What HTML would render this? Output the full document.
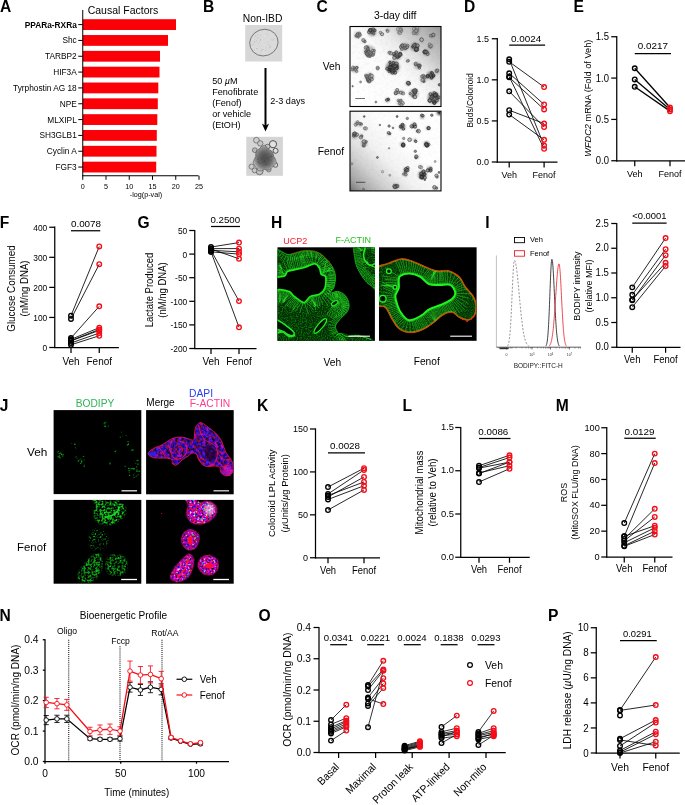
<!DOCTYPE html>
<html><head><meta charset="utf-8"><title>Figure</title>
<style>html,body{margin:0;padding:0;background:#fff}svg{display:block}</style></head>
<body>
<svg width="685" height="805" viewBox="0 0 685 805" font-family="'Liberation Sans', sans-serif">
<rect width="685" height="805" fill="#fff"/>
<text x="0.00" y="11.50" font-size="15.6" font-weight="bold">A</text>
<text x="123.00" y="14.10" font-size="10.5" text-anchor="middle">Causal Factors</text>
<rect x="82.75" y="19.20" width="93.25" height="10.8" fill="#fb0007"/>
<line x1="78.25" y1="24.60" x2="82.75" y2="24.60" stroke="#000" stroke-width="1" />
<text x="76.75" y="27.60" font-size="8.3" text-anchor="end" font-weight="bold">PPARa-RXRa</text>
<rect x="82.75" y="35.03" width="85.25" height="10.8" fill="#fb0007"/>
<line x1="78.25" y1="40.43" x2="82.75" y2="40.43" stroke="#000" stroke-width="1" />
<text x="76.75" y="43.43" font-size="8.3" text-anchor="end">Shc</text>
<rect x="82.75" y="50.86" width="77.25" height="10.8" fill="#fb0007"/>
<line x1="78.25" y1="56.26" x2="82.75" y2="56.26" stroke="#000" stroke-width="1" />
<text x="76.75" y="59.26" font-size="8.3" text-anchor="end">TARBP2</text>
<rect x="82.75" y="66.69" width="76.75" height="10.8" fill="#fb0007"/>
<line x1="78.25" y1="72.09" x2="82.75" y2="72.09" stroke="#000" stroke-width="1" />
<text x="76.75" y="75.09" font-size="8.3" text-anchor="end">HIF3A</text>
<rect x="82.75" y="82.52" width="75.55" height="10.8" fill="#fb0007"/>
<line x1="78.25" y1="87.92" x2="82.75" y2="87.92" stroke="#000" stroke-width="1" />
<text x="76.75" y="90.92" font-size="8.3" text-anchor="end">Tyrphostin AG 18</text>
<rect x="82.75" y="98.35" width="75.05" height="10.8" fill="#fb0007"/>
<line x1="78.25" y1="103.75" x2="82.75" y2="103.75" stroke="#000" stroke-width="1" />
<text x="76.75" y="106.75" font-size="8.3" text-anchor="end">NPE</text>
<rect x="82.75" y="114.18" width="74.55" height="10.8" fill="#fb0007"/>
<line x1="78.25" y1="119.58" x2="82.75" y2="119.58" stroke="#000" stroke-width="1" />
<text x="76.75" y="122.58" font-size="8.3" text-anchor="end">MLXIPL</text>
<rect x="82.75" y="130.01" width="74.05" height="10.8" fill="#fb0007"/>
<line x1="78.25" y1="135.41" x2="82.75" y2="135.41" stroke="#000" stroke-width="1" />
<text x="76.75" y="138.41" font-size="8.3" text-anchor="end">SH3GLB1</text>
<rect x="82.75" y="145.84" width="73.75" height="10.8" fill="#fb0007"/>
<line x1="78.25" y1="151.24" x2="82.75" y2="151.24" stroke="#000" stroke-width="1" />
<text x="76.75" y="154.24" font-size="8.3" text-anchor="end">Cyclin A</text>
<rect x="82.75" y="161.67" width="73.45" height="10.8" fill="#fb0007"/>
<line x1="78.25" y1="167.07" x2="82.75" y2="167.07" stroke="#000" stroke-width="1" />
<text x="76.75" y="170.07" font-size="8.3" text-anchor="end">FGF3</text>
<line x1="82.75" y1="10.00" x2="82.75" y2="176.20" stroke="#000" stroke-width="1" />
<line x1="82.25" y1="175.75" x2="198.50" y2="175.75" stroke="#000" stroke-width="1" />
<line x1="82.75" y1="175.75" x2="82.75" y2="179.80" stroke="#000" stroke-width="1" />
<text x="82.75" y="188.60" font-size="7.2" text-anchor="middle">0</text>
<line x1="106.00" y1="175.75" x2="106.00" y2="179.80" stroke="#000" stroke-width="1" />
<text x="106.00" y="188.60" font-size="7.2" text-anchor="middle">5</text>
<line x1="129.25" y1="175.75" x2="129.25" y2="179.80" stroke="#000" stroke-width="1" />
<text x="129.25" y="188.60" font-size="7.2" text-anchor="middle">10</text>
<line x1="152.50" y1="175.75" x2="152.50" y2="179.80" stroke="#000" stroke-width="1" />
<text x="152.50" y="188.60" font-size="7.2" text-anchor="middle">15</text>
<line x1="175.75" y1="175.75" x2="175.75" y2="179.80" stroke="#000" stroke-width="1" />
<text x="175.75" y="188.60" font-size="7.2" text-anchor="middle">20</text>
<line x1="199.00" y1="175.75" x2="199.00" y2="179.80" stroke="#000" stroke-width="1" />
<text x="199.00" y="188.60" font-size="7.2" text-anchor="middle">25</text>
<text x="146.00" y="197.00" font-size="7.2" text-anchor="middle">-log(p-val)</text>
<text x="203.10" y="11.50" font-size="15.6" font-weight="bold">B</text>
<text x="262.60" y="21.80" font-size="10.3" text-anchor="middle">Non-IBD</text>
<line x1="265.50" y1="68.00" x2="265.50" y2="126.00" stroke="#000" stroke-width="2" />
<path d="M261.9 123.6 L265.5 131.4 L269.1 123.6 L265.5 125.8 Z" fill="#000"/>
<text x="212.20" y="83.90" font-size="9.1">50 <tspan font-style="italic">µ</tspan>M</text>
<text x="212.20" y="94.85" font-size="9.1">Fenofibrate</text>
<text x="212.20" y="105.80" font-size="9.1">(Fenof)</text>
<text x="212.20" y="116.75" font-size="9.1">or vehicle</text>
<text x="212.20" y="127.70" font-size="9.1">(EtOH)</text>
<text x="270.20" y="103.80" font-size="9.1">2-3 days</text>
<text x="316.50" y="11.50" font-size="15.6" font-weight="bold">C</text>
<text x="395.20" y="19.30" font-size="10.4" text-anchor="middle">3-day diff</text>
<text x="322.70" y="70.00" font-size="10.3">Veh</text>
<text x="317.70" y="154.50" font-size="10.3">Fenof</text>
<text x="463.90" y="11.50" font-size="15.6" font-weight="bold">D</text>
<line x1="497.30" y1="38.12" x2="497.30" y2="162.62" stroke="#000" stroke-width="1.25" />
<line x1="496.68" y1="162.00" x2="557.50" y2="162.00" stroke="#000" stroke-width="1.25" />
<line x1="491.80" y1="38.75" x2="497.30" y2="38.75" stroke="#000" stroke-width="1.25" />
<text transform="translate(488.90 42.03) scale(0.9434 1)" font-size="9.54" text-anchor="end">1.5</text>
<line x1="491.80" y1="79.83" x2="497.30" y2="79.83" stroke="#000" stroke-width="1.25" />
<text transform="translate(488.90 83.12) scale(0.9434 1)" font-size="9.54" text-anchor="end">1.0</text>
<line x1="491.80" y1="120.92" x2="497.30" y2="120.92" stroke="#000" stroke-width="1.25" />
<text transform="translate(488.90 124.20) scale(0.9434 1)" font-size="9.54" text-anchor="end">0.5</text>
<line x1="491.80" y1="162.00" x2="497.30" y2="162.00" stroke="#000" stroke-width="1.25" />
<text transform="translate(488.90 165.28) scale(0.9434 1)" font-size="9.54" text-anchor="end">0.0</text>
<line x1="509.20" y1="162.00" x2="509.20" y2="167.50" stroke="#000" stroke-width="1.25" />
<text transform="translate(509.20 177.80) scale(0.9302 1)" font-size="9.67" text-anchor="middle">Veh</text>
<line x1="544.10" y1="162.00" x2="544.10" y2="167.50" stroke="#000" stroke-width="1.25" />
<text transform="translate(544.10 177.80) scale(0.9302 1)" font-size="9.67" text-anchor="middle">Fenof</text>
<line x1="509.20" y1="59.29" x2="544.10" y2="145.57" stroke="#000" stroke-width="0.85" />
<line x1="509.20" y1="61.76" x2="544.10" y2="87.06" stroke="#000" stroke-width="0.85" />
<line x1="509.20" y1="73.26" x2="544.10" y2="104.48" stroke="#000" stroke-width="0.85" />
<line x1="509.20" y1="77.37" x2="544.10" y2="109.41" stroke="#000" stroke-width="0.85" />
<line x1="509.20" y1="76.55" x2="544.10" y2="148.85" stroke="#000" stroke-width="0.85" />
<line x1="509.20" y1="91.34" x2="544.10" y2="127.00" stroke="#000" stroke-width="0.85" />
<line x1="509.20" y1="110.24" x2="544.10" y2="123.55" stroke="#000" stroke-width="0.85" />
<line x1="509.20" y1="114.51" x2="544.10" y2="139.81" stroke="#000" stroke-width="0.85" />
<circle cx="509.20" cy="59.29" r="2.3" fill="none" stroke="#000" stroke-width="1.35"/>
<circle cx="509.20" cy="61.76" r="2.3" fill="none" stroke="#000" stroke-width="1.35"/>
<circle cx="509.20" cy="73.26" r="2.3" fill="none" stroke="#000" stroke-width="1.35"/>
<circle cx="509.20" cy="77.37" r="2.3" fill="none" stroke="#000" stroke-width="1.35"/>
<circle cx="509.20" cy="76.55" r="2.3" fill="none" stroke="#000" stroke-width="1.35"/>
<circle cx="509.20" cy="91.34" r="2.3" fill="none" stroke="#000" stroke-width="1.35"/>
<circle cx="509.20" cy="110.24" r="2.3" fill="none" stroke="#000" stroke-width="1.35"/>
<circle cx="509.20" cy="114.51" r="2.3" fill="none" stroke="#000" stroke-width="1.35"/>
<circle cx="544.10" cy="145.57" r="2.3" fill="none" stroke="#f60c18" stroke-width="1.35"/>
<circle cx="544.10" cy="87.06" r="2.3" fill="none" stroke="#f60c18" stroke-width="1.35"/>
<circle cx="544.10" cy="104.48" r="2.3" fill="none" stroke="#f60c18" stroke-width="1.35"/>
<circle cx="544.10" cy="109.41" r="2.3" fill="none" stroke="#f60c18" stroke-width="1.35"/>
<circle cx="544.10" cy="148.85" r="2.3" fill="none" stroke="#f60c18" stroke-width="1.35"/>
<circle cx="544.10" cy="127.00" r="2.3" fill="none" stroke="#f60c18" stroke-width="1.35"/>
<circle cx="544.10" cy="123.55" r="2.3" fill="none" stroke="#f60c18" stroke-width="1.35"/>
<circle cx="544.10" cy="139.81" r="2.3" fill="none" stroke="#f60c18" stroke-width="1.35"/>
<line x1="509.20" y1="45.00" x2="545.10" y2="45.00" stroke="#000" stroke-width="1.25" />
<text x="526.20" y="41.70" font-size="9.9" text-anchor="middle">0.0024</text>
<text x="473.00" y="100.30" font-size="8.35" transform="rotate(-90 473.00 100.30)" text-anchor="middle">Buds/Colonoid</text>
<text x="573.60" y="11.50" font-size="15.6" font-weight="bold">E</text>
<line x1="616.75" y1="36.12" x2="616.75" y2="161.38" stroke="#000" stroke-width="1.25" />
<line x1="616.12" y1="160.75" x2="685.00" y2="160.75" stroke="#000" stroke-width="1.25" />
<line x1="611.25" y1="36.75" x2="616.75" y2="36.75" stroke="#000" stroke-width="1.25" />
<text transform="translate(609.00 40.22) scale(0.9434 1)" font-size="10.07" text-anchor="end">1.5</text>
<line x1="611.25" y1="78.08" x2="616.75" y2="78.08" stroke="#000" stroke-width="1.25" />
<text transform="translate(609.00 81.55) scale(0.9434 1)" font-size="10.07" text-anchor="end">1.0</text>
<line x1="611.25" y1="119.42" x2="616.75" y2="119.42" stroke="#000" stroke-width="1.25" />
<text transform="translate(609.00 122.88) scale(0.9434 1)" font-size="10.07" text-anchor="end">0.5</text>
<line x1="611.25" y1="160.75" x2="616.75" y2="160.75" stroke="#000" stroke-width="1.25" />
<text transform="translate(609.00 164.22) scale(0.9434 1)" font-size="10.07" text-anchor="end">0.0</text>
<line x1="634.75" y1="160.75" x2="634.75" y2="166.25" stroke="#000" stroke-width="1.25" />
<text transform="translate(634.75 177.00) scale(0.9302 1)" font-size="9.73" text-anchor="middle">Veh</text>
<line x1="670.00" y1="160.75" x2="670.00" y2="166.25" stroke="#000" stroke-width="1.25" />
<text transform="translate(670.00 177.00) scale(0.9302 1)" font-size="9.73" text-anchor="middle">Fenof</text>
<line x1="634.75" y1="68.25" x2="670.00" y2="107.51" stroke="#000" stroke-width="1.3" />
<line x1="634.75" y1="79.49" x2="670.00" y2="109.50" stroke="#000" stroke-width="1.3" />
<line x1="634.75" y1="86.76" x2="670.00" y2="111.15" stroke="#000" stroke-width="1.3" />
<circle cx="634.75" cy="68.25" r="2.3" fill="none" stroke="#000" stroke-width="1.35"/>
<circle cx="634.75" cy="79.49" r="2.3" fill="none" stroke="#000" stroke-width="1.35"/>
<circle cx="634.75" cy="86.76" r="2.3" fill="none" stroke="#000" stroke-width="1.35"/>
<circle cx="670.00" cy="107.51" r="2.3" fill="none" stroke="#f60c18" stroke-width="1.35"/>
<circle cx="670.00" cy="109.50" r="2.3" fill="none" stroke="#f60c18" stroke-width="1.35"/>
<circle cx="670.00" cy="111.15" r="2.3" fill="none" stroke="#f60c18" stroke-width="1.35"/>
<line x1="634.75" y1="53.50" x2="671.00" y2="53.50" stroke="#000" stroke-width="1.25" />
<text x="652.88" y="49.40" font-size="9.9" text-anchor="middle">0.0217</text>
<text transform="translate(590.60 98.20) rotate(-90) scale(0.9302 1)" font-size="9.89" text-anchor="middle"><tspan font-style="italic">WFDC2</tspan> mRNA (Fold of Veh)</text>
<text x="-0.20" y="228.40" font-size="15.6" font-weight="bold">F</text>
<line x1="54.75" y1="226.62" x2="54.75" y2="348.12" stroke="#000" stroke-width="1.25" />
<line x1="54.12" y1="347.50" x2="118.90" y2="347.50" stroke="#000" stroke-width="1.25" />
<line x1="49.25" y1="227.25" x2="54.75" y2="227.25" stroke="#000" stroke-width="1.25" />
<text transform="translate(47.25 231.12) scale(0.9434 1)" font-size="8.90" text-anchor="end">400</text>
<line x1="49.25" y1="257.31" x2="54.75" y2="257.31" stroke="#000" stroke-width="1.25" />
<text transform="translate(47.25 261.18) scale(0.9434 1)" font-size="8.90" text-anchor="end">300</text>
<line x1="49.25" y1="287.38" x2="54.75" y2="287.38" stroke="#000" stroke-width="1.25" />
<text transform="translate(47.25 291.24) scale(0.9434 1)" font-size="8.90" text-anchor="end">200</text>
<line x1="49.25" y1="317.44" x2="54.75" y2="317.44" stroke="#000" stroke-width="1.25" />
<text transform="translate(47.25 321.30) scale(0.9434 1)" font-size="8.90" text-anchor="end">100</text>
<line x1="49.25" y1="347.50" x2="54.75" y2="347.50" stroke="#000" stroke-width="1.25" />
<text transform="translate(47.25 351.37) scale(0.9434 1)" font-size="8.90" text-anchor="end">0</text>
<line x1="71.00" y1="347.50" x2="71.00" y2="353.00" stroke="#000" stroke-width="1.25" />
<text transform="translate(71.00 365.40) scale(0.9302 1)" font-size="10.75" text-anchor="middle">Veh</text>
<line x1="99.25" y1="347.50" x2="99.25" y2="353.00" stroke="#000" stroke-width="1.25" />
<text transform="translate(99.25 365.40) scale(0.9302 1)" font-size="10.75" text-anchor="middle">Fenof</text>
<line x1="71.00" y1="315.63" x2="99.25" y2="246.49" stroke="#000" stroke-width="0.85" />
<line x1="71.00" y1="318.94" x2="99.25" y2="264.23" stroke="#000" stroke-width="0.85" />
<line x1="71.00" y1="338.00" x2="99.25" y2="306.31" stroke="#000" stroke-width="0.85" />
<line x1="71.00" y1="339.38" x2="99.25" y2="327.66" stroke="#000" stroke-width="0.85" />
<line x1="71.00" y1="340.59" x2="99.25" y2="329.46" stroke="#000" stroke-width="0.85" />
<line x1="71.00" y1="340.89" x2="99.25" y2="330.36" stroke="#000" stroke-width="0.85" />
<line x1="71.00" y1="342.99" x2="99.25" y2="333.07" stroke="#000" stroke-width="0.85" />
<line x1="71.00" y1="344.79" x2="99.25" y2="335.78" stroke="#000" stroke-width="0.85" />
<circle cx="71.00" cy="315.63" r="2.3" fill="none" stroke="#000" stroke-width="1.35"/>
<circle cx="71.00" cy="318.94" r="2.3" fill="none" stroke="#000" stroke-width="1.35"/>
<circle cx="71.00" cy="338.00" r="2.3" fill="none" stroke="#000" stroke-width="1.35"/>
<circle cx="71.00" cy="339.38" r="2.3" fill="none" stroke="#000" stroke-width="1.35"/>
<circle cx="71.00" cy="340.59" r="2.3" fill="none" stroke="#000" stroke-width="1.35"/>
<circle cx="71.00" cy="340.89" r="2.3" fill="none" stroke="#000" stroke-width="1.35"/>
<circle cx="71.00" cy="342.99" r="2.3" fill="none" stroke="#000" stroke-width="1.35"/>
<circle cx="71.00" cy="344.79" r="2.3" fill="none" stroke="#000" stroke-width="1.35"/>
<circle cx="99.25" cy="246.49" r="2.3" fill="none" stroke="#f60c18" stroke-width="1.35"/>
<circle cx="99.25" cy="264.23" r="2.3" fill="none" stroke="#f60c18" stroke-width="1.35"/>
<circle cx="99.25" cy="306.31" r="2.3" fill="none" stroke="#f60c18" stroke-width="1.35"/>
<circle cx="99.25" cy="327.66" r="2.3" fill="none" stroke="#f60c18" stroke-width="1.35"/>
<circle cx="99.25" cy="329.46" r="2.3" fill="none" stroke="#f60c18" stroke-width="1.35"/>
<circle cx="99.25" cy="330.36" r="2.3" fill="none" stroke="#f60c18" stroke-width="1.35"/>
<circle cx="99.25" cy="333.07" r="2.3" fill="none" stroke="#f60c18" stroke-width="1.35"/>
<circle cx="99.25" cy="335.78" r="2.3" fill="none" stroke="#f60c18" stroke-width="1.35"/>
<line x1="71.00" y1="230.75" x2="100.25" y2="230.75" stroke="#000" stroke-width="1.25" />
<text x="86.00" y="227.20" font-size="9.9" text-anchor="middle">0.0078</text>
<text transform="translate(15.20 288.50) rotate(-90) scale(0.9302 1)" font-size="10.59" text-anchor="middle">Glucose Consumed</text>
<text transform="translate(27.80 288.50) rotate(-90) scale(0.9302 1)" font-size="10.32" text-anchor="middle">(nM/ng DNA)</text>
<text x="137.50" y="228.40" font-size="15.6" font-weight="bold">G</text>
<line x1="194.75" y1="229.88" x2="194.75" y2="349.12" stroke="#000" stroke-width="1.25" />
<line x1="194.12" y1="348.50" x2="256.50" y2="348.50" stroke="#000" stroke-width="1.25" />
<line x1="189.25" y1="230.50" x2="194.75" y2="230.50" stroke="#000" stroke-width="1.25" />
<text transform="translate(187.25 234.07) scale(0.9434 1)" font-size="8.90" text-anchor="end">50</text>
<line x1="189.25" y1="254.10" x2="194.75" y2="254.10" stroke="#000" stroke-width="1.25" />
<text transform="translate(187.25 257.67) scale(0.9434 1)" font-size="8.90" text-anchor="end">0</text>
<line x1="189.25" y1="277.70" x2="194.75" y2="277.70" stroke="#000" stroke-width="1.25" />
<text transform="translate(187.25 281.27) scale(0.9434 1)" font-size="8.90" text-anchor="end">-50</text>
<line x1="189.25" y1="301.30" x2="194.75" y2="301.30" stroke="#000" stroke-width="1.25" />
<text transform="translate(187.25 304.87) scale(0.9434 1)" font-size="8.90" text-anchor="end">-100</text>
<line x1="189.25" y1="324.90" x2="194.75" y2="324.90" stroke="#000" stroke-width="1.25" />
<text transform="translate(187.25 328.47) scale(0.9434 1)" font-size="8.90" text-anchor="end">-150</text>
<line x1="189.25" y1="348.50" x2="194.75" y2="348.50" stroke="#000" stroke-width="1.25" />
<text transform="translate(187.25 352.07) scale(0.9434 1)" font-size="8.90" text-anchor="end">-200</text>
<line x1="211.00" y1="348.50" x2="211.00" y2="354.00" stroke="#000" stroke-width="1.25" />
<text transform="translate(211.00 365.40) scale(0.9302 1)" font-size="10.75" text-anchor="middle">Veh</text>
<line x1="239.00" y1="348.50" x2="239.00" y2="354.00" stroke="#000" stroke-width="1.25" />
<text transform="translate(239.00 365.40) scale(0.9302 1)" font-size="10.75" text-anchor="middle">Fenof</text>
<line x1="211.00" y1="247.02" x2="239.00" y2="242.58" stroke="#000" stroke-width="0.85" />
<line x1="211.00" y1="248.62" x2="239.00" y2="248.62" stroke="#000" stroke-width="0.85" />
<line x1="211.00" y1="250.32" x2="239.00" y2="251.83" stroke="#000" stroke-width="0.85" />
<line x1="211.00" y1="251.83" x2="239.00" y2="254.10" stroke="#000" stroke-width="0.85" />
<line x1="211.00" y1="248.91" x2="239.00" y2="258.82" stroke="#000" stroke-width="0.85" />
<line x1="211.00" y1="250.32" x2="239.00" y2="301.11" stroke="#000" stroke-width="0.85" />
<line x1="211.00" y1="251.74" x2="239.00" y2="327.26" stroke="#000" stroke-width="0.85" />
<circle cx="211.00" cy="247.02" r="2.3" fill="none" stroke="#000" stroke-width="1.35"/>
<circle cx="211.00" cy="248.62" r="2.3" fill="none" stroke="#000" stroke-width="1.35"/>
<circle cx="211.00" cy="250.32" r="2.3" fill="none" stroke="#000" stroke-width="1.35"/>
<circle cx="211.00" cy="251.83" r="2.3" fill="none" stroke="#000" stroke-width="1.35"/>
<circle cx="211.00" cy="248.91" r="2.3" fill="none" stroke="#000" stroke-width="1.35"/>
<circle cx="211.00" cy="250.32" r="2.3" fill="none" stroke="#000" stroke-width="1.35"/>
<circle cx="211.00" cy="251.74" r="2.3" fill="none" stroke="#000" stroke-width="1.35"/>
<circle cx="239.00" cy="242.58" r="2.3" fill="none" stroke="#f60c18" stroke-width="1.35"/>
<circle cx="239.00" cy="248.62" r="2.3" fill="none" stroke="#f60c18" stroke-width="1.35"/>
<circle cx="239.00" cy="251.83" r="2.3" fill="none" stroke="#f60c18" stroke-width="1.35"/>
<circle cx="239.00" cy="254.10" r="2.3" fill="none" stroke="#f60c18" stroke-width="1.35"/>
<circle cx="239.00" cy="258.82" r="2.3" fill="none" stroke="#f60c18" stroke-width="1.35"/>
<circle cx="239.00" cy="301.11" r="2.3" fill="none" stroke="#f60c18" stroke-width="1.35"/>
<circle cx="239.00" cy="327.26" r="2.3" fill="none" stroke="#f60c18" stroke-width="1.35"/>
<line x1="211.00" y1="226.50" x2="240.00" y2="226.50" stroke="#000" stroke-width="1.25" />
<text x="225.30" y="222.70" font-size="9.7" text-anchor="middle">0.2500</text>
<text transform="translate(153.00 290.00) rotate(-90) scale(0.9302 1)" font-size="10.21" text-anchor="middle">Lactate Produced</text>
<text transform="translate(165.60 290.00) rotate(-90) scale(0.9302 1)" font-size="10.21" text-anchor="middle">(nM/ng DNA)</text>
<text x="271.10" y="228.40" font-size="15.6" font-weight="bold">H</text>
<text x="283.20" y="243.50" font-size="9" fill="#f5222d">UCP2</text>
<text x="335.50" y="243.20" font-size="9" fill="#22c322">F-ACTIN</text>
<text x="323.50" y="366.00" font-size="10.2">Veh</text>
<text x="413.70" y="364.80" font-size="10.2">Fenof</text>
<text x="485.20" y="228.40" font-size="15.6" font-weight="bold">I</text>
<line x1="496.40" y1="255.50" x2="496.40" y2="347.30" stroke="#999" stroke-width="0.6" />
<line x1="496.40" y1="347.20" x2="581.00" y2="347.20" stroke="#333" stroke-width="0.8" />
<line x1="499.00" y1="347.20" x2="499.00" y2="348.60" stroke="#333" stroke-width="0.4" />
<line x1="500.50" y1="347.20" x2="500.50" y2="348.60" stroke="#333" stroke-width="0.4" />
<line x1="502.00" y1="347.20" x2="502.00" y2="348.60" stroke="#333" stroke-width="0.4" />
<line x1="503.20" y1="347.20" x2="503.20" y2="348.60" stroke="#333" stroke-width="0.4" />
<line x1="504.20" y1="347.20" x2="504.20" y2="348.60" stroke="#333" stroke-width="0.4" />
<line x1="505.00" y1="347.20" x2="505.00" y2="348.60" stroke="#333" stroke-width="0.4" />
<line x1="506.60" y1="347.20" x2="506.60" y2="348.60" stroke="#333" stroke-width="0.4" />
<line x1="508.50" y1="347.20" x2="508.50" y2="348.60" stroke="#333" stroke-width="0.4" />
<line x1="510.00" y1="347.20" x2="510.00" y2="348.60" stroke="#333" stroke-width="0.4" />
<line x1="511.20" y1="347.20" x2="511.20" y2="348.60" stroke="#333" stroke-width="0.4" />
<line x1="512.20" y1="347.20" x2="512.20" y2="348.60" stroke="#333" stroke-width="0.4" />
<line x1="516.00" y1="347.20" x2="516.00" y2="348.60" stroke="#333" stroke-width="0.4" />
<line x1="522.00" y1="347.20" x2="522.00" y2="348.60" stroke="#333" stroke-width="0.4" />
<line x1="526.00" y1="347.20" x2="526.00" y2="348.60" stroke="#333" stroke-width="0.4" />
<line x1="528.50" y1="347.20" x2="528.50" y2="348.60" stroke="#333" stroke-width="0.4" />
<line x1="530.50" y1="347.20" x2="530.50" y2="348.60" stroke="#333" stroke-width="0.4" />
<line x1="532.00" y1="347.20" x2="532.00" y2="348.60" stroke="#333" stroke-width="0.4" />
<line x1="537.50" y1="347.20" x2="537.50" y2="348.60" stroke="#333" stroke-width="0.4" />
<line x1="541.00" y1="347.20" x2="541.00" y2="348.60" stroke="#333" stroke-width="0.4" />
<line x1="543.50" y1="347.20" x2="543.50" y2="348.60" stroke="#333" stroke-width="0.4" />
<line x1="545.50" y1="347.20" x2="545.50" y2="348.60" stroke="#333" stroke-width="0.4" />
<line x1="547.00" y1="347.20" x2="547.00" y2="348.60" stroke="#333" stroke-width="0.4" />
<line x1="548.30" y1="347.20" x2="548.30" y2="348.60" stroke="#333" stroke-width="0.4" />
<line x1="549.50" y1="347.20" x2="549.50" y2="348.60" stroke="#333" stroke-width="0.4" />
<line x1="550.50" y1="347.20" x2="550.50" y2="348.60" stroke="#333" stroke-width="0.4" />
<line x1="556.00" y1="347.20" x2="556.00" y2="348.60" stroke="#333" stroke-width="0.4" />
<line x1="559.50" y1="347.20" x2="559.50" y2="348.60" stroke="#333" stroke-width="0.4" />
<line x1="562.00" y1="347.20" x2="562.00" y2="348.60" stroke="#333" stroke-width="0.4" />
<line x1="564.00" y1="347.20" x2="564.00" y2="348.60" stroke="#333" stroke-width="0.4" />
<line x1="565.50" y1="347.20" x2="565.50" y2="348.60" stroke="#333" stroke-width="0.4" />
<line x1="567.00" y1="347.20" x2="567.00" y2="348.60" stroke="#333" stroke-width="0.4" />
<line x1="568.30" y1="347.20" x2="568.30" y2="348.60" stroke="#333" stroke-width="0.4" />
<line x1="569.40" y1="347.20" x2="569.40" y2="348.60" stroke="#333" stroke-width="0.4" />
<line x1="575.00" y1="347.20" x2="575.00" y2="348.60" stroke="#333" stroke-width="0.4" />
<line x1="578.50" y1="347.20" x2="578.50" y2="348.60" stroke="#333" stroke-width="0.4" />
<line x1="580.50" y1="347.20" x2="580.50" y2="348.60" stroke="#333" stroke-width="0.4" />
<line x1="506.60" y1="347.20" x2="506.60" y2="349.60" stroke="#222" stroke-width="0.5" />
<line x1="532.00" y1="347.20" x2="532.00" y2="349.60" stroke="#222" stroke-width="0.5" />
<line x1="550.50" y1="347.20" x2="550.50" y2="349.60" stroke="#222" stroke-width="0.5" />
<line x1="569.40" y1="347.20" x2="569.40" y2="349.60" stroke="#222" stroke-width="0.5" />
<rect x="499.5" y="347.6" width="9" height="1.6" fill="#333"/>
<text x="506.60" y="356.00" font-size="3.6" text-anchor="middle" fill="#333">0</text>
<text x="532.00" y="356.20" font-size="3.6" text-anchor="middle" fill="#333">10<tspan dy="-1.3" font-size="2.6">5</tspan></text>
<text x="550.50" y="356.20" font-size="3.6" text-anchor="middle" fill="#333">10<tspan dy="-1.3" font-size="2.6">6</tspan></text>
<text x="569.40" y="356.20" font-size="3.6" text-anchor="middle" fill="#333">10<tspan dy="-1.3" font-size="2.6">7</tspan></text>
<text x="538.20" y="367.70" font-size="6.5" text-anchor="middle" fill="#222">BODIPY::FITC-H</text>
<path d="M507.50,346.04 L507.67,345.80 L507.84,345.51 L508.02,345.16 L508.19,344.74 L508.36,344.23 L508.53,343.64 L508.71,342.95 L508.88,342.13 L509.05,341.19 L509.22,340.10 L509.40,338.86 L509.57,337.44 L509.74,335.84 L509.91,334.05 L510.09,332.05 L510.26,329.84 L510.43,327.42 L510.60,324.78 L510.78,321.92 L510.95,318.85 L511.12,315.59 L511.29,312.14 L511.47,308.54 L511.64,304.80 L511.81,300.95 L511.98,297.04 L512.16,293.10 L512.33,289.17 L512.50,285.31 L512.67,281.56 L512.85,277.96 L513.02,274.58 L513.19,271.46 L513.37,268.65 L513.54,266.19 L513.71,264.12 L513.88,262.47 L514.05,261.27 L514.23,260.54 L514.40,260.30 L514.76,260.54 L515.12,261.27 L515.48,262.47 L515.84,264.12 L516.20,266.19 L516.56,268.65 L516.92,271.46 L517.28,274.58 L517.64,277.96 L518.00,281.56 L518.36,285.31 L518.72,289.17 L519.08,293.10 L519.44,297.04 L519.80,300.95 L520.16,304.80 L520.52,308.54 L520.88,312.14 L521.24,315.59 L521.60,318.85 L521.96,321.92 L522.32,324.78 L522.68,327.42 L523.04,329.84 L523.40,332.05 L523.76,334.05 L524.12,335.84 L524.48,337.44 L524.84,338.86 L525.20,340.10 L525.56,341.19 L525.92,342.13 L526.28,342.95 L526.64,343.64 L527.00,344.23 L527.36,344.74 L527.72,345.16 L528.08,345.51 L528.44,345.80 L528.80,346.04" fill="none" stroke="#777" stroke-width="0.8" stroke-dasharray="2 1.6"/>
<path d="M545.90,346.03 L546.05,345.78 L546.20,345.49 L546.35,345.13 L546.50,344.71 L546.65,344.20 L546.80,343.60 L546.95,342.90 L547.10,342.08 L547.25,341.12 L547.40,340.02 L547.55,338.76 L547.70,337.33 L547.85,335.71 L548.00,333.90 L548.15,331.88 L548.30,329.64 L548.45,327.19 L548.60,324.52 L548.75,321.63 L548.90,318.53 L549.05,315.23 L549.20,311.74 L549.35,308.10 L549.50,304.31 L549.65,300.42 L549.80,296.46 L549.95,292.48 L550.10,288.51 L550.25,284.60 L550.40,280.80 L550.55,277.17 L550.70,273.75 L550.85,270.59 L551.00,267.74 L551.15,265.25 L551.30,263.16 L551.45,261.49 L551.60,260.28 L551.75,259.55 L551.90,259.30 L552.09,259.55 L552.27,260.28 L552.46,261.49 L552.65,263.16 L552.84,265.25 L553.02,267.74 L553.21,270.59 L553.40,273.75 L553.59,277.17 L553.77,280.80 L553.96,284.60 L554.15,288.51 L554.34,292.48 L554.52,296.46 L554.71,300.42 L554.90,304.31 L555.09,308.10 L555.27,311.74 L555.46,315.23 L555.65,318.53 L555.84,321.63 L556.02,324.52 L556.21,327.19 L556.40,329.64 L556.59,331.88 L556.77,333.90 L556.96,335.71 L557.15,337.33 L557.34,338.76 L557.52,340.02 L557.71,341.12 L557.90,342.08 L558.09,342.90 L558.27,343.60 L558.46,344.20 L558.65,344.71 L558.84,345.13 L559.02,345.49 L559.21,345.78 L559.40,346.03" fill="none" stroke="#111" stroke-width="0.8"/>
<path d="M549.10,346.08 L549.35,345.85 L549.60,345.57 L549.84,345.23 L550.09,344.83 L550.34,344.35 L550.59,343.78 L550.83,343.11 L551.08,342.33 L551.33,341.42 L551.58,340.38 L551.82,339.19 L552.07,337.83 L552.32,336.29 L552.57,334.57 L552.81,332.65 L553.06,330.53 L553.31,328.21 L553.55,325.67 L553.80,322.93 L554.05,319.99 L554.30,316.86 L554.54,313.55 L554.79,310.09 L555.04,306.50 L555.29,302.81 L555.53,299.06 L555.78,295.28 L556.03,291.51 L556.28,287.80 L556.52,284.20 L556.77,280.75 L557.02,277.51 L557.27,274.51 L557.51,271.81 L557.76,269.45 L558.01,267.46 L558.26,265.88 L558.50,264.73 L558.75,264.03 L559.00,263.80 L559.19,264.03 L559.38,264.73 L559.56,265.88 L559.75,267.46 L559.94,269.45 L560.12,271.81 L560.31,274.51 L560.50,277.51 L560.69,280.75 L560.88,284.20 L561.06,287.80 L561.25,291.51 L561.44,295.28 L561.62,299.06 L561.81,302.81 L562.00,306.50 L562.19,310.09 L562.38,313.55 L562.56,316.86 L562.75,319.99 L562.94,322.93 L563.12,325.67 L563.31,328.21 L563.50,330.53 L563.69,332.65 L563.88,334.57 L564.06,336.29 L564.25,337.83 L564.44,339.19 L564.62,340.38 L564.81,341.42 L565.00,342.33 L565.19,343.11 L565.38,343.78 L565.56,344.35 L565.75,344.83 L565.94,345.23 L566.12,345.57 L566.31,345.85 L566.50,346.08" fill="none" stroke="#ee1c24" stroke-width="0.8"/>
<rect x="514.5" y="237.5" width="10" height="5.2" fill="none" stroke="#000" stroke-width="0.9"/>
<rect x="514.5" y="250.7" width="10" height="5.5" fill="none" stroke="#ee1c24" stroke-width="0.9"/>
<text x="530.00" y="242.30" font-size="7.5">Veh</text>
<text x="530.00" y="255.70" font-size="7.5">Fenof</text>
<line x1="616.75" y1="222.88" x2="616.75" y2="347.88" stroke="#000" stroke-width="1.25" />
<line x1="616.12" y1="347.25" x2="680.50" y2="347.25" stroke="#000" stroke-width="1.25" />
<line x1="611.25" y1="223.50" x2="616.75" y2="223.50" stroke="#000" stroke-width="1.25" />
<text transform="translate(608.90 226.50) scale(0.9434 1)" font-size="10.18" text-anchor="end">2.5</text>
<line x1="611.25" y1="248.25" x2="616.75" y2="248.25" stroke="#000" stroke-width="1.25" />
<text transform="translate(608.90 251.25) scale(0.9434 1)" font-size="10.18" text-anchor="end">2.0</text>
<line x1="611.25" y1="273.00" x2="616.75" y2="273.00" stroke="#000" stroke-width="1.25" />
<text transform="translate(608.90 276.00) scale(0.9434 1)" font-size="10.18" text-anchor="end">1.5</text>
<line x1="611.25" y1="297.75" x2="616.75" y2="297.75" stroke="#000" stroke-width="1.25" />
<text transform="translate(608.90 300.75) scale(0.9434 1)" font-size="10.18" text-anchor="end">1.0</text>
<line x1="611.25" y1="322.50" x2="616.75" y2="322.50" stroke="#000" stroke-width="1.25" />
<text transform="translate(608.90 325.50) scale(0.9434 1)" font-size="10.18" text-anchor="end">0.5</text>
<line x1="611.25" y1="347.25" x2="616.75" y2="347.25" stroke="#000" stroke-width="1.25" />
<text transform="translate(608.90 350.25) scale(0.9434 1)" font-size="10.18" text-anchor="end">0.0</text>
<line x1="632.25" y1="347.25" x2="632.25" y2="352.75" stroke="#000" stroke-width="1.25" />
<text transform="translate(632.25 362.90) scale(0.9302 1)" font-size="10.21" text-anchor="middle">Veh</text>
<line x1="665.60" y1="347.25" x2="665.60" y2="352.75" stroke="#000" stroke-width="1.25" />
<text transform="translate(665.60 362.90) scale(0.9302 1)" font-size="10.21" text-anchor="middle">Fenof</text>
<line x1="632.25" y1="287.36" x2="665.60" y2="238.00" stroke="#000" stroke-width="0.85" />
<line x1="632.25" y1="294.78" x2="665.60" y2="249.24" stroke="#000" stroke-width="0.85" />
<line x1="632.25" y1="300.23" x2="665.60" y2="255.18" stroke="#000" stroke-width="0.85" />
<line x1="632.25" y1="299.73" x2="665.60" y2="262.75" stroke="#000" stroke-width="0.85" />
<line x1="632.25" y1="307.15" x2="665.60" y2="266.07" stroke="#000" stroke-width="0.85" />
<circle cx="632.25" cy="287.36" r="2.3" fill="none" stroke="#000" stroke-width="1.35"/>
<circle cx="632.25" cy="294.78" r="2.3" fill="none" stroke="#000" stroke-width="1.35"/>
<circle cx="632.25" cy="300.23" r="2.3" fill="none" stroke="#000" stroke-width="1.35"/>
<circle cx="632.25" cy="299.73" r="2.3" fill="none" stroke="#000" stroke-width="1.35"/>
<circle cx="632.25" cy="307.15" r="2.3" fill="none" stroke="#000" stroke-width="1.35"/>
<circle cx="665.60" cy="238.00" r="2.3" fill="none" stroke="#f60c18" stroke-width="1.35"/>
<circle cx="665.60" cy="249.24" r="2.3" fill="none" stroke="#f60c18" stroke-width="1.35"/>
<circle cx="665.60" cy="255.18" r="2.3" fill="none" stroke="#f60c18" stroke-width="1.35"/>
<circle cx="665.60" cy="262.75" r="2.3" fill="none" stroke="#f60c18" stroke-width="1.35"/>
<circle cx="665.60" cy="266.07" r="2.3" fill="none" stroke="#f60c18" stroke-width="1.35"/>
<line x1="632.25" y1="223.00" x2="666.60" y2="223.00" stroke="#000" stroke-width="1.25" />
<text x="649.42" y="219.40" font-size="9.4" text-anchor="middle">&lt;0.0001</text>
<text transform="translate(579.60 286.00) rotate(-90) scale(0.9302 1)" font-size="9.67" text-anchor="middle">BODIPY intensity</text>
<text transform="translate(591.70 286.00) rotate(-90) scale(0.9302 1)" font-size="9.67" text-anchor="middle">(relative MFI)</text>
<text x="-0.30" y="410.50" font-size="15.6" font-weight="bold">J</text>
<text x="95.00" y="406.50" font-size="10.2" text-anchor="middle" fill="#2fb457">BODIPY</text>
<text x="146.30" y="405.80" font-size="10.0">Merge</text>
<text x="189.00" y="396.80" font-size="10.3" fill="#2a3cf0">DAPI</text>
<text x="189.70" y="407.00" font-size="10.3" fill="#ff3b8e">F-ACTIN</text>
<text x="27.00" y="456.30" font-size="11.8">Veh</text>
<text x="17.00" y="550.80" font-size="11.4">Fenof</text>
<text x="257.00" y="410.50" font-size="15.6" font-weight="bold">K</text>
<line x1="315.50" y1="428.38" x2="315.50" y2="558.38" stroke="#000" stroke-width="1.25" />
<line x1="314.88" y1="557.75" x2="380.00" y2="557.75" stroke="#000" stroke-width="1.25" />
<line x1="310.00" y1="429.00" x2="315.50" y2="429.00" stroke="#000" stroke-width="1.25" />
<text transform="translate(308.00 431.99) scale(0.9434 1)" font-size="9.54" text-anchor="end">150</text>
<line x1="310.00" y1="471.92" x2="315.50" y2="471.92" stroke="#000" stroke-width="1.25" />
<text transform="translate(308.00 474.90) scale(0.9434 1)" font-size="9.54" text-anchor="end">100</text>
<line x1="310.00" y1="514.83" x2="315.50" y2="514.83" stroke="#000" stroke-width="1.25" />
<text transform="translate(308.00 517.82) scale(0.9434 1)" font-size="9.54" text-anchor="end">50</text>
<line x1="310.00" y1="557.75" x2="315.50" y2="557.75" stroke="#000" stroke-width="1.25" />
<text transform="translate(308.00 560.74) scale(0.9434 1)" font-size="9.54" text-anchor="end">0</text>
<line x1="328.00" y1="557.75" x2="328.00" y2="563.25" stroke="#000" stroke-width="1.25" />
<text transform="translate(328.00 574.00) scale(0.9302 1)" font-size="10.11" text-anchor="middle">Veh</text>
<line x1="364.00" y1="557.75" x2="364.00" y2="563.25" stroke="#000" stroke-width="1.25" />
<text transform="translate(364.00 574.00) scale(0.9302 1)" font-size="10.11" text-anchor="middle">Fenof</text>
<line x1="328.00" y1="487.02" x2="364.00" y2="468.23" stroke="#000" stroke-width="0.85" />
<line x1="328.00" y1="493.98" x2="364.00" y2="469.94" stroke="#000" stroke-width="0.85" />
<line x1="328.00" y1="496.98" x2="364.00" y2="476.98" stroke="#000" stroke-width="0.85" />
<line x1="328.00" y1="495.52" x2="364.00" y2="481.96" stroke="#000" stroke-width="0.85" />
<line x1="328.00" y1="499.47" x2="364.00" y2="485.74" stroke="#000" stroke-width="0.85" />
<line x1="328.00" y1="510.03" x2="364.00" y2="489.94" stroke="#000" stroke-width="0.85" />
<circle cx="328.00" cy="487.02" r="2.3" fill="none" stroke="#000" stroke-width="1.35"/>
<circle cx="328.00" cy="493.98" r="2.3" fill="none" stroke="#000" stroke-width="1.35"/>
<circle cx="328.00" cy="496.98" r="2.3" fill="none" stroke="#000" stroke-width="1.35"/>
<circle cx="328.00" cy="495.52" r="2.3" fill="none" stroke="#000" stroke-width="1.35"/>
<circle cx="328.00" cy="499.47" r="2.3" fill="none" stroke="#000" stroke-width="1.35"/>
<circle cx="328.00" cy="510.03" r="2.3" fill="none" stroke="#000" stroke-width="1.35"/>
<circle cx="364.00" cy="468.23" r="2.3" fill="none" stroke="#f60c18" stroke-width="1.35"/>
<circle cx="364.00" cy="469.94" r="2.3" fill="none" stroke="#f60c18" stroke-width="1.35"/>
<circle cx="364.00" cy="476.98" r="2.3" fill="none" stroke="#f60c18" stroke-width="1.35"/>
<circle cx="364.00" cy="481.96" r="2.3" fill="none" stroke="#f60c18" stroke-width="1.35"/>
<circle cx="364.00" cy="485.74" r="2.3" fill="none" stroke="#f60c18" stroke-width="1.35"/>
<circle cx="364.00" cy="489.94" r="2.3" fill="none" stroke="#f60c18" stroke-width="1.35"/>
<line x1="328.00" y1="452.75" x2="365.00" y2="452.75" stroke="#000" stroke-width="1.25" />
<text x="345.00" y="449.20" font-size="9.8" text-anchor="middle">0.0028</text>
<text x="275.00" y="493.30" font-size="9.35" transform="rotate(-90 275.00 493.30)" text-anchor="middle">Colonoid LPL Activity</text>
<text x="288.00" y="493.30" font-size="9.35" transform="rotate(-90 288.00 493.30)" text-anchor="middle">(<tspan font-style="italic">µ</tspan>Units/<tspan font-style="italic">µ</tspan>g Protein)</text>
<text x="402.60" y="410.50" font-size="15.6" font-weight="bold">L</text>
<line x1="460.75" y1="426.88" x2="460.75" y2="557.88" stroke="#000" stroke-width="1.25" />
<line x1="460.12" y1="557.25" x2="529.75" y2="557.25" stroke="#000" stroke-width="1.25" />
<line x1="455.25" y1="427.50" x2="460.75" y2="427.50" stroke="#000" stroke-width="1.25" />
<text transform="translate(454.00 430.13) scale(0.9434 1)" font-size="9.96" text-anchor="end">1.5</text>
<line x1="455.25" y1="470.75" x2="460.75" y2="470.75" stroke="#000" stroke-width="1.25" />
<text transform="translate(454.00 473.38) scale(0.9434 1)" font-size="9.96" text-anchor="end">1.0</text>
<line x1="455.25" y1="514.00" x2="460.75" y2="514.00" stroke="#000" stroke-width="1.25" />
<text transform="translate(454.00 516.63) scale(0.9434 1)" font-size="9.96" text-anchor="end">0.5</text>
<line x1="455.25" y1="557.25" x2="460.75" y2="557.25" stroke="#000" stroke-width="1.25" />
<text transform="translate(454.00 559.88) scale(0.9434 1)" font-size="9.96" text-anchor="end">0.0</text>
<line x1="479.00" y1="557.25" x2="479.00" y2="562.75" stroke="#000" stroke-width="1.25" />
<text transform="translate(479.00 572.50) scale(0.9302 1)" font-size="10.11" text-anchor="middle">Veh</text>
<line x1="509.50" y1="557.25" x2="509.50" y2="562.75" stroke="#000" stroke-width="1.25" />
<text transform="translate(509.50 572.50) scale(0.9302 1)" font-size="10.11" text-anchor="middle">Fenof</text>
<line x1="479.00" y1="465.73" x2="509.50" y2="455.27" stroke="#000" stroke-width="0.85" />
<line x1="479.00" y1="467.55" x2="509.50" y2="457.52" stroke="#000" stroke-width="0.85" />
<line x1="479.00" y1="468.15" x2="509.50" y2="462.10" stroke="#000" stroke-width="0.85" />
<line x1="479.00" y1="473.52" x2="509.50" y2="462.10" stroke="#000" stroke-width="0.85" />
<line x1="479.00" y1="472.91" x2="509.50" y2="465.73" stroke="#000" stroke-width="0.85" />
<line x1="479.00" y1="482.00" x2="509.50" y2="468.76" stroke="#000" stroke-width="0.85" />
<circle cx="479.00" cy="465.73" r="2.3" fill="none" stroke="#000" stroke-width="1.35"/>
<circle cx="479.00" cy="467.55" r="2.3" fill="none" stroke="#000" stroke-width="1.35"/>
<circle cx="479.00" cy="468.15" r="2.3" fill="none" stroke="#000" stroke-width="1.35"/>
<circle cx="479.00" cy="473.52" r="2.3" fill="none" stroke="#000" stroke-width="1.35"/>
<circle cx="479.00" cy="472.91" r="2.3" fill="none" stroke="#000" stroke-width="1.35"/>
<circle cx="479.00" cy="482.00" r="2.3" fill="none" stroke="#000" stroke-width="1.35"/>
<circle cx="509.50" cy="455.27" r="2.3" fill="none" stroke="#f60c18" stroke-width="1.35"/>
<circle cx="509.50" cy="457.52" r="2.3" fill="none" stroke="#f60c18" stroke-width="1.35"/>
<circle cx="509.50" cy="462.10" r="2.3" fill="none" stroke="#f60c18" stroke-width="1.35"/>
<circle cx="509.50" cy="462.10" r="2.3" fill="none" stroke="#f60c18" stroke-width="1.35"/>
<circle cx="509.50" cy="465.73" r="2.3" fill="none" stroke="#f60c18" stroke-width="1.35"/>
<circle cx="509.50" cy="468.76" r="2.3" fill="none" stroke="#f60c18" stroke-width="1.35"/>
<line x1="479.00" y1="438.50" x2="510.50" y2="438.50" stroke="#000" stroke-width="1.25" />
<text x="493.30" y="435.20" font-size="9.8" text-anchor="middle">0.0086</text>
<text transform="translate(423.20 492.50) rotate(-90) scale(0.9302 1)" font-size="10.48" text-anchor="middle">Mitochondrial mass</text>
<text transform="translate(435.70 492.50) rotate(-90) scale(0.9302 1)" font-size="10.48" text-anchor="middle">(relative to Veh)</text>
<text x="555.70" y="410.50" font-size="15.6" font-weight="bold">M</text>
<line x1="606.75" y1="427.12" x2="606.75" y2="557.62" stroke="#000" stroke-width="1.25" />
<line x1="606.12" y1="557.00" x2="672.50" y2="557.00" stroke="#000" stroke-width="1.25" />
<line x1="601.25" y1="427.75" x2="606.75" y2="427.75" stroke="#000" stroke-width="1.25" />
<text transform="translate(599.75 430.81) scale(0.9434 1)" font-size="9.75" text-anchor="end">100</text>
<line x1="601.25" y1="453.60" x2="606.75" y2="453.60" stroke="#000" stroke-width="1.25" />
<text transform="translate(599.75 456.66) scale(0.9434 1)" font-size="9.75" text-anchor="end">80</text>
<line x1="601.25" y1="479.45" x2="606.75" y2="479.45" stroke="#000" stroke-width="1.25" />
<text transform="translate(599.75 482.51) scale(0.9434 1)" font-size="9.75" text-anchor="end">60</text>
<line x1="601.25" y1="505.30" x2="606.75" y2="505.30" stroke="#000" stroke-width="1.25" />
<text transform="translate(599.75 508.36) scale(0.9434 1)" font-size="9.75" text-anchor="end">40</text>
<line x1="601.25" y1="531.15" x2="606.75" y2="531.15" stroke="#000" stroke-width="1.25" />
<text transform="translate(599.75 534.21) scale(0.9434 1)" font-size="9.75" text-anchor="end">20</text>
<line x1="601.25" y1="557.00" x2="606.75" y2="557.00" stroke="#000" stroke-width="1.25" />
<text transform="translate(599.75 560.06) scale(0.9434 1)" font-size="9.75" text-anchor="end">0</text>
<line x1="624.25" y1="557.00" x2="624.25" y2="562.50" stroke="#000" stroke-width="1.25" />
<text transform="translate(624.25 571.90) scale(0.9302 1)" font-size="10.32" text-anchor="middle">Veh</text>
<line x1="654.75" y1="557.00" x2="654.75" y2="562.50" stroke="#000" stroke-width="1.25" />
<text transform="translate(654.75 571.90) scale(0.9302 1)" font-size="10.32" text-anchor="middle">Fenof</text>
<line x1="624.25" y1="523.01" x2="654.75" y2="453.60" stroke="#000" stroke-width="0.85" />
<line x1="624.25" y1="536.32" x2="654.75" y2="463.04" stroke="#000" stroke-width="0.85" />
<line x1="624.25" y1="538.90" x2="654.75" y2="508.79" stroke="#000" stroke-width="0.85" />
<line x1="624.25" y1="540.71" x2="654.75" y2="516.93" stroke="#000" stroke-width="0.85" />
<line x1="624.25" y1="536.32" x2="654.75" y2="525.72" stroke="#000" stroke-width="0.85" />
<line x1="624.25" y1="542.78" x2="654.75" y2="527.79" stroke="#000" stroke-width="0.85" />
<line x1="624.25" y1="545.76" x2="654.75" y2="531.15" stroke="#000" stroke-width="0.85" />
<line x1="624.25" y1="546.27" x2="654.75" y2="534.51" stroke="#000" stroke-width="0.85" />
<circle cx="624.25" cy="523.01" r="2.3" fill="none" stroke="#000" stroke-width="1.35"/>
<circle cx="624.25" cy="536.32" r="2.3" fill="none" stroke="#000" stroke-width="1.35"/>
<circle cx="624.25" cy="538.90" r="2.3" fill="none" stroke="#000" stroke-width="1.35"/>
<circle cx="624.25" cy="540.71" r="2.3" fill="none" stroke="#000" stroke-width="1.35"/>
<circle cx="624.25" cy="536.32" r="2.3" fill="none" stroke="#000" stroke-width="1.35"/>
<circle cx="624.25" cy="542.78" r="2.3" fill="none" stroke="#000" stroke-width="1.35"/>
<circle cx="624.25" cy="545.76" r="2.3" fill="none" stroke="#000" stroke-width="1.35"/>
<circle cx="624.25" cy="546.27" r="2.3" fill="none" stroke="#000" stroke-width="1.35"/>
<circle cx="654.75" cy="453.60" r="2.3" fill="none" stroke="#f60c18" stroke-width="1.35"/>
<circle cx="654.75" cy="463.04" r="2.3" fill="none" stroke="#f60c18" stroke-width="1.35"/>
<circle cx="654.75" cy="508.79" r="2.3" fill="none" stroke="#f60c18" stroke-width="1.35"/>
<circle cx="654.75" cy="516.93" r="2.3" fill="none" stroke="#f60c18" stroke-width="1.35"/>
<circle cx="654.75" cy="525.72" r="2.3" fill="none" stroke="#f60c18" stroke-width="1.35"/>
<circle cx="654.75" cy="527.79" r="2.3" fill="none" stroke="#f60c18" stroke-width="1.35"/>
<circle cx="654.75" cy="531.15" r="2.3" fill="none" stroke="#f60c18" stroke-width="1.35"/>
<circle cx="654.75" cy="534.51" r="2.3" fill="none" stroke="#f60c18" stroke-width="1.35"/>
<line x1="624.25" y1="438.25" x2="655.75" y2="438.25" stroke="#000" stroke-width="1.25" />
<text x="639.50" y="435.20" font-size="9.9" text-anchor="middle">0.0129</text>
<text transform="translate(566.50 492.50) rotate(-90) scale(0.9302 1)" font-size="9.57" text-anchor="middle">ROS</text>
<text transform="translate(577.80 492.50) rotate(-90) scale(0.9302 1)" font-size="9.57" text-anchor="middle">(MitoSOX FLU/ng DNA)</text>
<text x="-0.60" y="621.00" font-size="15.6" font-weight="bold">N</text>
<text transform="translate(123.40 618.50) scale(0.9615 1)" font-size="10.50" text-anchor="middle">Bioenergetic Profile</text>
<line x1="45.00" y1="639.15" x2="45.00" y2="762.10" stroke="#000" stroke-width="1.25" />
<line x1="44.40" y1="761.50" x2="229.00" y2="761.50" stroke="#000" stroke-width="1.25" />
<line x1="42.80" y1="761.50" x2="45.00" y2="761.50" stroke="#000" stroke-width="1.25" />
<text x="38.60" y="765.10" font-size="10.3" text-anchor="end">0.0</text>
<line x1="42.80" y1="731.06" x2="45.00" y2="731.06" stroke="#000" stroke-width="1.25" />
<text x="38.60" y="734.66" font-size="10.3" text-anchor="end">0.1</text>
<line x1="42.80" y1="700.62" x2="45.00" y2="700.62" stroke="#000" stroke-width="1.25" />
<text x="38.60" y="704.22" font-size="10.3" text-anchor="end">0.2</text>
<line x1="42.80" y1="670.18" x2="45.00" y2="670.18" stroke="#000" stroke-width="1.25" />
<text x="38.60" y="673.78" font-size="10.3" text-anchor="end">0.3</text>
<line x1="42.80" y1="639.74" x2="45.00" y2="639.74" stroke="#000" stroke-width="1.25" />
<text x="38.60" y="643.34" font-size="10.3" text-anchor="end">0.4</text>
<line x1="45.00" y1="761.50" x2="45.00" y2="763.70" stroke="#000" stroke-width="1.25" />
<text x="45.00" y="777.30" font-size="10.2" text-anchor="middle">0</text>
<line x1="120.75" y1="761.50" x2="120.75" y2="763.70" stroke="#000" stroke-width="1.25" />
<text x="120.75" y="777.30" font-size="10.2" text-anchor="middle">50</text>
<line x1="196.50" y1="761.50" x2="196.50" y2="763.70" stroke="#000" stroke-width="1.25" />
<text x="196.50" y="777.30" font-size="10.2" text-anchor="middle">100</text>
<text transform="translate(136.80 795.50) scale(0.9302 1)" font-size="10.54" text-anchor="middle">Time (minutes)</text>
<text transform="translate(19.00 700.00) rotate(-90) scale(0.9302 1)" font-size="10.86" text-anchor="middle">OCR (pmol/min/ng DNA)</text>
<line x1="68.75" y1="639.75" x2="68.75" y2="761.50" stroke="#000" stroke-width="1.0" stroke-dasharray="1 1.05"/>
<text transform="translate(57.00 633.50) scale(0.9615 1)" font-size="8.94">Oligo</text>
<line x1="120.00" y1="646.30" x2="120.00" y2="761.50" stroke="#000" stroke-width="1.0" stroke-dasharray="1 1.05"/>
<text transform="translate(111.20 644.30) scale(0.9615 1)" font-size="8.94">Fccp</text>
<line x1="162.00" y1="639.75" x2="162.00" y2="761.50" stroke="#000" stroke-width="1.0" stroke-dasharray="1 1.05"/>
<text transform="translate(151.20 635.50) scale(0.9615 1)" font-size="8.94">Rot/AA</text>
<polyline points="46.21,720.10 56.97,718.88 66.82,718.88 90.00,738.67 99.99,739.28 109.99,739.28 119.99,738.67 129.99,687.23 140.44,689.97 150.44,687.23 161.20,689.36 171.05,738.06 180.59,741.26 190.44,744.24 200.44,743.84" fill="none" stroke="#000" stroke-width="1.3"/>
<line x1="46.21" y1="715.54" x2="46.21" y2="724.67" stroke="#000" stroke-width="0.85" />
<line x1="43.61" y1="715.54" x2="48.81" y2="715.54" stroke="#000" stroke-width="0.85" />
<line x1="43.61" y1="724.67" x2="48.81" y2="724.67" stroke="#000" stroke-width="0.85" />
<circle cx="46.21" cy="720.10" r="2.3" fill="#fff" stroke="#000" stroke-width="0.9"/>
<line x1="56.97" y1="715.23" x2="56.97" y2="722.54" stroke="#000" stroke-width="0.85" />
<line x1="54.37" y1="715.23" x2="59.57" y2="715.23" stroke="#000" stroke-width="0.85" />
<line x1="54.37" y1="722.54" x2="59.57" y2="722.54" stroke="#000" stroke-width="0.85" />
<circle cx="56.97" cy="718.88" r="2.3" fill="#fff" stroke="#000" stroke-width="0.9"/>
<line x1="66.82" y1="715.23" x2="66.82" y2="722.54" stroke="#000" stroke-width="0.85" />
<line x1="64.22" y1="715.23" x2="69.42" y2="715.23" stroke="#000" stroke-width="0.85" />
<line x1="64.22" y1="722.54" x2="69.42" y2="722.54" stroke="#000" stroke-width="0.85" />
<circle cx="66.82" cy="718.88" r="2.3" fill="#fff" stroke="#000" stroke-width="0.9"/>
<line x1="90.00" y1="737.15" x2="90.00" y2="740.19" stroke="#000" stroke-width="0.85" />
<line x1="87.40" y1="737.15" x2="92.60" y2="737.15" stroke="#000" stroke-width="0.85" />
<line x1="87.40" y1="740.19" x2="92.60" y2="740.19" stroke="#000" stroke-width="0.85" />
<circle cx="90.00" cy="738.67" r="2.3" fill="#fff" stroke="#000" stroke-width="0.9"/>
<line x1="99.99" y1="737.76" x2="99.99" y2="740.80" stroke="#000" stroke-width="0.85" />
<line x1="97.39" y1="737.76" x2="102.59" y2="737.76" stroke="#000" stroke-width="0.85" />
<line x1="97.39" y1="740.80" x2="102.59" y2="740.80" stroke="#000" stroke-width="0.85" />
<circle cx="99.99" cy="739.28" r="2.3" fill="#fff" stroke="#000" stroke-width="0.9"/>
<line x1="109.99" y1="737.76" x2="109.99" y2="740.80" stroke="#000" stroke-width="0.85" />
<line x1="107.39" y1="737.76" x2="112.59" y2="737.76" stroke="#000" stroke-width="0.85" />
<line x1="107.39" y1="740.80" x2="112.59" y2="740.80" stroke="#000" stroke-width="0.85" />
<circle cx="109.99" cy="739.28" r="2.3" fill="#fff" stroke="#000" stroke-width="0.9"/>
<line x1="119.99" y1="736.23" x2="119.99" y2="741.11" stroke="#000" stroke-width="0.85" />
<line x1="117.39" y1="736.23" x2="122.59" y2="736.23" stroke="#000" stroke-width="0.85" />
<line x1="117.39" y1="741.11" x2="122.59" y2="741.11" stroke="#000" stroke-width="0.85" />
<circle cx="119.99" cy="738.67" r="2.3" fill="#fff" stroke="#000" stroke-width="0.9"/>
<line x1="129.99" y1="682.36" x2="129.99" y2="692.10" stroke="#000" stroke-width="0.85" />
<line x1="127.39" y1="682.36" x2="132.59" y2="682.36" stroke="#000" stroke-width="0.85" />
<line x1="127.39" y1="692.10" x2="132.59" y2="692.10" stroke="#000" stroke-width="0.85" />
<circle cx="129.99" cy="687.23" r="2.3" fill="#fff" stroke="#000" stroke-width="0.9"/>
<line x1="140.44" y1="684.49" x2="140.44" y2="695.45" stroke="#000" stroke-width="0.85" />
<line x1="137.84" y1="684.49" x2="143.04" y2="684.49" stroke="#000" stroke-width="0.85" />
<line x1="137.84" y1="695.45" x2="143.04" y2="695.45" stroke="#000" stroke-width="0.85" />
<circle cx="140.44" cy="689.97" r="2.3" fill="#fff" stroke="#000" stroke-width="0.9"/>
<line x1="150.44" y1="681.75" x2="150.44" y2="692.71" stroke="#000" stroke-width="0.85" />
<line x1="147.84" y1="681.75" x2="153.04" y2="681.75" stroke="#000" stroke-width="0.85" />
<line x1="147.84" y1="692.71" x2="153.04" y2="692.71" stroke="#000" stroke-width="0.85" />
<circle cx="150.44" cy="687.23" r="2.3" fill="#fff" stroke="#000" stroke-width="0.9"/>
<line x1="161.20" y1="683.88" x2="161.20" y2="694.84" stroke="#000" stroke-width="0.85" />
<line x1="158.60" y1="683.88" x2="163.80" y2="683.88" stroke="#000" stroke-width="0.85" />
<line x1="158.60" y1="694.84" x2="163.80" y2="694.84" stroke="#000" stroke-width="0.85" />
<circle cx="161.20" cy="689.36" r="2.3" fill="#fff" stroke="#000" stroke-width="0.9"/>
<line x1="171.05" y1="736.84" x2="171.05" y2="739.28" stroke="#000" stroke-width="0.85" />
<line x1="168.45" y1="736.84" x2="173.65" y2="736.84" stroke="#000" stroke-width="0.85" />
<line x1="168.45" y1="739.28" x2="173.65" y2="739.28" stroke="#000" stroke-width="0.85" />
<circle cx="171.05" cy="738.06" r="2.3" fill="#fff" stroke="#000" stroke-width="0.9"/>
<line x1="180.59" y1="740.04" x2="180.59" y2="742.48" stroke="#000" stroke-width="0.85" />
<line x1="177.99" y1="740.04" x2="183.19" y2="740.04" stroke="#000" stroke-width="0.85" />
<line x1="177.99" y1="742.48" x2="183.19" y2="742.48" stroke="#000" stroke-width="0.85" />
<circle cx="180.59" cy="741.26" r="2.3" fill="#fff" stroke="#000" stroke-width="0.9"/>
<line x1="190.44" y1="743.02" x2="190.44" y2="745.46" stroke="#000" stroke-width="0.85" />
<line x1="187.84" y1="743.02" x2="193.04" y2="743.02" stroke="#000" stroke-width="0.85" />
<line x1="187.84" y1="745.46" x2="193.04" y2="745.46" stroke="#000" stroke-width="0.85" />
<circle cx="190.44" cy="744.24" r="2.3" fill="#fff" stroke="#000" stroke-width="0.9"/>
<line x1="200.44" y1="742.63" x2="200.44" y2="745.06" stroke="#000" stroke-width="0.85" />
<line x1="197.84" y1="742.63" x2="203.04" y2="742.63" stroke="#000" stroke-width="0.85" />
<line x1="197.84" y1="745.06" x2="203.04" y2="745.06" stroke="#000" stroke-width="0.85" />
<circle cx="200.44" cy="743.84" r="2.3" fill="#fff" stroke="#000" stroke-width="0.9"/>
<polyline points="46.21,702.45 56.97,703.66 66.82,704.88 90.00,731.52 99.99,729.84 109.99,729.23 119.99,731.06 129.99,671.09 140.44,675.05 150.44,674.44 161.20,678.70 171.05,737.45 180.59,740.80 190.44,743.84 200.44,742.63" fill="none" stroke="#f60c18" stroke-width="1.3"/>
<line x1="46.21" y1="697.27" x2="46.21" y2="707.62" stroke="#f60c18" stroke-width="0.85" />
<line x1="43.61" y1="697.27" x2="48.81" y2="697.27" stroke="#f60c18" stroke-width="0.85" />
<line x1="43.61" y1="707.62" x2="48.81" y2="707.62" stroke="#f60c18" stroke-width="0.85" />
<circle cx="46.21" cy="702.45" r="2.3" fill="#fff" stroke="#f60c18" stroke-width="0.9"/>
<line x1="56.97" y1="698.49" x2="56.97" y2="708.84" stroke="#f60c18" stroke-width="0.85" />
<line x1="54.37" y1="698.49" x2="59.57" y2="698.49" stroke="#f60c18" stroke-width="0.85" />
<line x1="54.37" y1="708.84" x2="59.57" y2="708.84" stroke="#f60c18" stroke-width="0.85" />
<circle cx="56.97" cy="703.66" r="2.3" fill="#fff" stroke="#f60c18" stroke-width="0.9"/>
<line x1="66.82" y1="699.40" x2="66.82" y2="710.36" stroke="#f60c18" stroke-width="0.85" />
<line x1="64.22" y1="699.40" x2="69.42" y2="699.40" stroke="#f60c18" stroke-width="0.85" />
<line x1="64.22" y1="710.36" x2="69.42" y2="710.36" stroke="#f60c18" stroke-width="0.85" />
<circle cx="66.82" cy="704.88" r="2.3" fill="#fff" stroke="#f60c18" stroke-width="0.9"/>
<line x1="90.00" y1="727.25" x2="90.00" y2="735.78" stroke="#f60c18" stroke-width="0.85" />
<line x1="87.40" y1="727.25" x2="92.60" y2="727.25" stroke="#f60c18" stroke-width="0.85" />
<line x1="87.40" y1="735.78" x2="92.60" y2="735.78" stroke="#f60c18" stroke-width="0.85" />
<circle cx="90.00" cy="731.52" r="2.3" fill="#fff" stroke="#f60c18" stroke-width="0.9"/>
<line x1="99.99" y1="724.97" x2="99.99" y2="734.71" stroke="#f60c18" stroke-width="0.85" />
<line x1="97.39" y1="724.97" x2="102.59" y2="724.97" stroke="#f60c18" stroke-width="0.85" />
<line x1="97.39" y1="734.71" x2="102.59" y2="734.71" stroke="#f60c18" stroke-width="0.85" />
<circle cx="99.99" cy="729.84" r="2.3" fill="#fff" stroke="#f60c18" stroke-width="0.9"/>
<line x1="109.99" y1="724.06" x2="109.99" y2="734.41" stroke="#f60c18" stroke-width="0.85" />
<line x1="107.39" y1="724.06" x2="112.59" y2="724.06" stroke="#f60c18" stroke-width="0.85" />
<line x1="107.39" y1="734.41" x2="112.59" y2="734.41" stroke="#f60c18" stroke-width="0.85" />
<circle cx="109.99" cy="729.23" r="2.3" fill="#fff" stroke="#f60c18" stroke-width="0.9"/>
<line x1="119.99" y1="726.80" x2="119.99" y2="735.32" stroke="#f60c18" stroke-width="0.85" />
<line x1="117.39" y1="726.80" x2="122.59" y2="726.80" stroke="#f60c18" stroke-width="0.85" />
<line x1="117.39" y1="735.32" x2="122.59" y2="735.32" stroke="#f60c18" stroke-width="0.85" />
<circle cx="119.99" cy="731.06" r="2.3" fill="#fff" stroke="#f60c18" stroke-width="0.9"/>
<line x1="129.99" y1="661.05" x2="129.99" y2="681.14" stroke="#f60c18" stroke-width="0.85" />
<line x1="127.39" y1="661.05" x2="132.59" y2="661.05" stroke="#f60c18" stroke-width="0.85" />
<line x1="127.39" y1="681.14" x2="132.59" y2="681.14" stroke="#f60c18" stroke-width="0.85" />
<circle cx="129.99" cy="671.09" r="2.3" fill="#fff" stroke="#f60c18" stroke-width="0.9"/>
<line x1="140.44" y1="666.53" x2="140.44" y2="683.57" stroke="#f60c18" stroke-width="0.85" />
<line x1="137.84" y1="666.53" x2="143.04" y2="666.53" stroke="#f60c18" stroke-width="0.85" />
<line x1="137.84" y1="683.57" x2="143.04" y2="683.57" stroke="#f60c18" stroke-width="0.85" />
<circle cx="140.44" cy="675.05" r="2.3" fill="#fff" stroke="#f60c18" stroke-width="0.9"/>
<line x1="150.44" y1="665.92" x2="150.44" y2="682.96" stroke="#f60c18" stroke-width="0.85" />
<line x1="147.84" y1="665.92" x2="153.04" y2="665.92" stroke="#f60c18" stroke-width="0.85" />
<line x1="147.84" y1="682.96" x2="153.04" y2="682.96" stroke="#f60c18" stroke-width="0.85" />
<circle cx="150.44" cy="674.44" r="2.3" fill="#fff" stroke="#f60c18" stroke-width="0.9"/>
<line x1="161.20" y1="671.40" x2="161.20" y2="686.01" stroke="#f60c18" stroke-width="0.85" />
<line x1="158.60" y1="671.40" x2="163.80" y2="671.40" stroke="#f60c18" stroke-width="0.85" />
<line x1="158.60" y1="686.01" x2="163.80" y2="686.01" stroke="#f60c18" stroke-width="0.85" />
<circle cx="161.20" cy="678.70" r="2.3" fill="#fff" stroke="#f60c18" stroke-width="0.9"/>
<line x1="171.05" y1="735.93" x2="171.05" y2="738.97" stroke="#f60c18" stroke-width="0.85" />
<line x1="168.45" y1="735.93" x2="173.65" y2="735.93" stroke="#f60c18" stroke-width="0.85" />
<line x1="168.45" y1="738.97" x2="173.65" y2="738.97" stroke="#f60c18" stroke-width="0.85" />
<circle cx="171.05" cy="737.45" r="2.3" fill="#fff" stroke="#f60c18" stroke-width="0.9"/>
<line x1="180.59" y1="739.28" x2="180.59" y2="742.32" stroke="#f60c18" stroke-width="0.85" />
<line x1="177.99" y1="739.28" x2="183.19" y2="739.28" stroke="#f60c18" stroke-width="0.85" />
<line x1="177.99" y1="742.32" x2="183.19" y2="742.32" stroke="#f60c18" stroke-width="0.85" />
<circle cx="180.59" cy="740.80" r="2.3" fill="#fff" stroke="#f60c18" stroke-width="0.9"/>
<line x1="190.44" y1="742.32" x2="190.44" y2="745.37" stroke="#f60c18" stroke-width="0.85" />
<line x1="187.84" y1="742.32" x2="193.04" y2="742.32" stroke="#f60c18" stroke-width="0.85" />
<line x1="187.84" y1="745.37" x2="193.04" y2="745.37" stroke="#f60c18" stroke-width="0.85" />
<circle cx="190.44" cy="743.84" r="2.3" fill="#fff" stroke="#f60c18" stroke-width="0.9"/>
<line x1="200.44" y1="741.11" x2="200.44" y2="744.15" stroke="#f60c18" stroke-width="0.85" />
<line x1="197.84" y1="741.11" x2="203.04" y2="741.11" stroke="#f60c18" stroke-width="0.85" />
<line x1="197.84" y1="744.15" x2="203.04" y2="744.15" stroke="#f60c18" stroke-width="0.85" />
<circle cx="200.44" cy="742.63" r="2.3" fill="#fff" stroke="#f60c18" stroke-width="0.9"/>
<line x1="176.50" y1="679.25" x2="192.30" y2="679.25" stroke="#000" stroke-width="1.2" />
<circle cx="184.30" cy="679.25" r="2.3" fill="#fff" stroke="#000" stroke-width="0.9"/>
<text transform="translate(199.70 682.60) scale(0.9302 1)" font-size="10.54">Veh</text>
<line x1="176.50" y1="695.00" x2="192.30" y2="695.00" stroke="#f60c18" stroke-width="1.2" />
<circle cx="184.30" cy="695.00" r="2.3" fill="#fff" stroke="#f60c18" stroke-width="0.9"/>
<text transform="translate(199.70 698.50) scale(0.9302 1)" font-size="10.54">Fenof</text>
<text x="258.50" y="621.00" font-size="15.6" font-weight="bold">O</text>
<line x1="319.00" y1="626.90" x2="319.00" y2="753.10" stroke="#000" stroke-width="1.25" />
<line x1="318.40" y1="752.50" x2="505.75" y2="752.50" stroke="#000" stroke-width="1.25" />
<line x1="313.50" y1="752.50" x2="319.00" y2="752.50" stroke="#000" stroke-width="1.25" />
<text x="311.00" y="756.10" font-size="10.3" text-anchor="end">0.0</text>
<line x1="313.50" y1="721.25" x2="319.00" y2="721.25" stroke="#000" stroke-width="1.25" />
<text x="311.00" y="724.85" font-size="10.3" text-anchor="end">0.1</text>
<line x1="313.50" y1="690.00" x2="319.00" y2="690.00" stroke="#000" stroke-width="1.25" />
<text x="311.00" y="693.60" font-size="10.3" text-anchor="end">0.2</text>
<line x1="313.50" y1="658.75" x2="319.00" y2="658.75" stroke="#000" stroke-width="1.25" />
<text x="311.00" y="662.35" font-size="10.3" text-anchor="end">0.3</text>
<line x1="313.50" y1="627.50" x2="319.00" y2="627.50" stroke="#000" stroke-width="1.25" />
<text x="311.00" y="631.10" font-size="10.3" text-anchor="end">0.4</text>
<text transform="translate(291.00 689.60) rotate(-90) scale(0.9302 1)" font-size="11.18" text-anchor="middle">OCR (pmol/min/ng DNA)</text>
<line x1="338.60" y1="752.50" x2="338.60" y2="758.00" stroke="#000" stroke-width="1.25" />
<line x1="331.00" y1="720.00" x2="346.30" y2="704.69" stroke="#000" stroke-width="0.8" />
<line x1="331.00" y1="724.38" x2="346.30" y2="718.12" stroke="#000" stroke-width="0.8" />
<line x1="331.00" y1="727.19" x2="346.30" y2="720.62" stroke="#000" stroke-width="0.8" />
<line x1="331.00" y1="730.62" x2="346.30" y2="723.75" stroke="#000" stroke-width="0.8" />
<line x1="331.00" y1="729.06" x2="346.30" y2="721.88" stroke="#000" stroke-width="0.8" />
<line x1="331.00" y1="733.44" x2="346.30" y2="726.88" stroke="#000" stroke-width="0.8" />
<line x1="331.00" y1="731.88" x2="346.30" y2="725.62" stroke="#000" stroke-width="0.8" />
<line x1="331.00" y1="740.62" x2="346.30" y2="730.62" stroke="#000" stroke-width="0.8" />
<circle cx="331.00" cy="720.00" r="2.3" fill="none" stroke="#000" stroke-width="1.35"/>
<circle cx="331.00" cy="724.38" r="2.3" fill="none" stroke="#000" stroke-width="1.35"/>
<circle cx="331.00" cy="727.19" r="2.3" fill="none" stroke="#000" stroke-width="1.35"/>
<circle cx="331.00" cy="730.62" r="2.3" fill="none" stroke="#000" stroke-width="1.35"/>
<circle cx="331.00" cy="729.06" r="2.3" fill="none" stroke="#000" stroke-width="1.35"/>
<circle cx="331.00" cy="733.44" r="2.3" fill="none" stroke="#000" stroke-width="1.35"/>
<circle cx="331.00" cy="731.88" r="2.3" fill="none" stroke="#000" stroke-width="1.35"/>
<circle cx="331.00" cy="740.62" r="2.3" fill="none" stroke="#000" stroke-width="1.35"/>
<circle cx="346.30" cy="704.69" r="2.3" fill="none" stroke="#f60c18" stroke-width="1.35"/>
<circle cx="346.30" cy="718.12" r="2.3" fill="none" stroke="#f60c18" stroke-width="1.35"/>
<circle cx="346.30" cy="720.62" r="2.3" fill="none" stroke="#f60c18" stroke-width="1.35"/>
<circle cx="346.30" cy="723.75" r="2.3" fill="none" stroke="#f60c18" stroke-width="1.35"/>
<circle cx="346.30" cy="721.88" r="2.3" fill="none" stroke="#f60c18" stroke-width="1.35"/>
<circle cx="346.30" cy="726.88" r="2.3" fill="none" stroke="#f60c18" stroke-width="1.35"/>
<circle cx="346.30" cy="725.62" r="2.3" fill="none" stroke="#f60c18" stroke-width="1.35"/>
<circle cx="346.30" cy="730.62" r="2.3" fill="none" stroke="#f60c18" stroke-width="1.35"/>
<line x1="330.20" y1="644.70" x2="347.10" y2="644.70" stroke="#000" stroke-width="1.25" />
<text x="338.40" y="640.80" font-size="9.6" text-anchor="middle">0.0341</text>
<text transform="translate(339.90 767.70) rotate(-45) scale(0.9302 1)" font-size="10.96" text-anchor="end">Basal</text>
<line x1="375.60" y1="752.50" x2="375.60" y2="758.00" stroke="#000" stroke-width="1.25" />
<line x1="368.00" y1="685.00" x2="383.30" y2="660.75" stroke="#000" stroke-width="0.8" />
<line x1="368.00" y1="686.25" x2="383.30" y2="669.38" stroke="#000" stroke-width="0.8" />
<line x1="368.00" y1="690.00" x2="383.30" y2="670.62" stroke="#000" stroke-width="0.8" />
<line x1="368.00" y1="697.50" x2="383.30" y2="678.12" stroke="#000" stroke-width="0.8" />
<line x1="368.00" y1="698.75" x2="383.30" y2="704.06" stroke="#000" stroke-width="0.8" />
<line x1="368.00" y1="703.44" x2="383.30" y2="683.44" stroke="#000" stroke-width="0.8" />
<line x1="368.00" y1="705.94" x2="383.30" y2="688.12" stroke="#000" stroke-width="0.8" />
<line x1="368.00" y1="727.19" x2="383.30" y2="670.62" stroke="#000" stroke-width="0.8" />
<circle cx="368.00" cy="685.00" r="2.3" fill="none" stroke="#000" stroke-width="1.35"/>
<circle cx="368.00" cy="686.25" r="2.3" fill="none" stroke="#000" stroke-width="1.35"/>
<circle cx="368.00" cy="690.00" r="2.3" fill="none" stroke="#000" stroke-width="1.35"/>
<circle cx="368.00" cy="697.50" r="2.3" fill="none" stroke="#000" stroke-width="1.35"/>
<circle cx="368.00" cy="698.75" r="2.3" fill="none" stroke="#000" stroke-width="1.35"/>
<circle cx="368.00" cy="703.44" r="2.3" fill="none" stroke="#000" stroke-width="1.35"/>
<circle cx="368.00" cy="705.94" r="2.3" fill="none" stroke="#000" stroke-width="1.35"/>
<circle cx="368.00" cy="727.19" r="2.3" fill="none" stroke="#000" stroke-width="1.35"/>
<circle cx="383.30" cy="660.75" r="2.3" fill="none" stroke="#f60c18" stroke-width="1.35"/>
<circle cx="383.30" cy="669.38" r="2.3" fill="none" stroke="#f60c18" stroke-width="1.35"/>
<circle cx="383.30" cy="670.62" r="2.3" fill="none" stroke="#f60c18" stroke-width="1.35"/>
<circle cx="383.30" cy="678.12" r="2.3" fill="none" stroke="#f60c18" stroke-width="1.35"/>
<circle cx="383.30" cy="704.06" r="2.3" fill="none" stroke="#f60c18" stroke-width="1.35"/>
<circle cx="383.30" cy="683.44" r="2.3" fill="none" stroke="#f60c18" stroke-width="1.35"/>
<circle cx="383.30" cy="688.12" r="2.3" fill="none" stroke="#f60c18" stroke-width="1.35"/>
<circle cx="383.30" cy="670.62" r="2.3" fill="none" stroke="#f60c18" stroke-width="1.35"/>
<line x1="367.20" y1="644.70" x2="384.10" y2="644.70" stroke="#000" stroke-width="1.25" />
<text x="375.40" y="640.80" font-size="9.6" text-anchor="middle">0.0221</text>
<text transform="translate(376.90 767.70) rotate(-45) scale(0.9302 1)" font-size="10.96" text-anchor="end">Maximal</text>
<line x1="412.20" y1="752.50" x2="412.20" y2="758.00" stroke="#000" stroke-width="1.25" />
<line x1="404.60" y1="745.62" x2="419.90" y2="741.25" stroke="#000" stroke-width="0.8" />
<line x1="404.60" y1="746.56" x2="419.90" y2="742.19" stroke="#000" stroke-width="0.8" />
<line x1="404.60" y1="747.50" x2="419.90" y2="743.12" stroke="#000" stroke-width="0.8" />
<line x1="404.60" y1="748.44" x2="419.90" y2="744.06" stroke="#000" stroke-width="0.8" />
<line x1="404.60" y1="749.38" x2="419.90" y2="744.69" stroke="#000" stroke-width="0.8" />
<line x1="404.60" y1="750.00" x2="419.90" y2="745.62" stroke="#000" stroke-width="0.8" />
<line x1="404.60" y1="750.62" x2="419.90" y2="746.88" stroke="#000" stroke-width="0.8" />
<line x1="404.60" y1="748.75" x2="419.90" y2="746.25" stroke="#000" stroke-width="0.8" />
<circle cx="404.60" cy="745.62" r="2.3" fill="none" stroke="#000" stroke-width="1.35"/>
<circle cx="404.60" cy="746.56" r="2.3" fill="none" stroke="#000" stroke-width="1.35"/>
<circle cx="404.60" cy="747.50" r="2.3" fill="none" stroke="#000" stroke-width="1.35"/>
<circle cx="404.60" cy="748.44" r="2.3" fill="none" stroke="#000" stroke-width="1.35"/>
<circle cx="404.60" cy="749.38" r="2.3" fill="none" stroke="#000" stroke-width="1.35"/>
<circle cx="404.60" cy="750.00" r="2.3" fill="none" stroke="#000" stroke-width="1.35"/>
<circle cx="404.60" cy="750.62" r="2.3" fill="none" stroke="#000" stroke-width="1.35"/>
<circle cx="404.60" cy="748.75" r="2.3" fill="none" stroke="#000" stroke-width="1.35"/>
<circle cx="419.90" cy="741.25" r="2.3" fill="none" stroke="#f60c18" stroke-width="1.35"/>
<circle cx="419.90" cy="742.19" r="2.3" fill="none" stroke="#f60c18" stroke-width="1.35"/>
<circle cx="419.90" cy="743.12" r="2.3" fill="none" stroke="#f60c18" stroke-width="1.35"/>
<circle cx="419.90" cy="744.06" r="2.3" fill="none" stroke="#f60c18" stroke-width="1.35"/>
<circle cx="419.90" cy="744.69" r="2.3" fill="none" stroke="#f60c18" stroke-width="1.35"/>
<circle cx="419.90" cy="745.62" r="2.3" fill="none" stroke="#f60c18" stroke-width="1.35"/>
<circle cx="419.90" cy="746.88" r="2.3" fill="none" stroke="#f60c18" stroke-width="1.35"/>
<circle cx="419.90" cy="746.25" r="2.3" fill="none" stroke="#f60c18" stroke-width="1.35"/>
<line x1="403.80" y1="644.70" x2="420.70" y2="644.70" stroke="#000" stroke-width="1.25" />
<text x="412.00" y="640.80" font-size="9.6" text-anchor="middle">0.0024</text>
<text transform="translate(413.50 767.70) rotate(-45) scale(0.9302 1)" font-size="10.96" text-anchor="end">Proton leak</text>
<line x1="449.10" y1="752.50" x2="449.10" y2="758.00" stroke="#000" stroke-width="1.25" />
<line x1="441.50" y1="726.88" x2="456.80" y2="715.62" stroke="#000" stroke-width="0.8" />
<line x1="441.50" y1="731.88" x2="456.80" y2="728.12" stroke="#000" stroke-width="0.8" />
<line x1="441.50" y1="733.44" x2="456.80" y2="730.62" stroke="#000" stroke-width="0.8" />
<line x1="441.50" y1="734.38" x2="456.80" y2="732.50" stroke="#000" stroke-width="0.8" />
<line x1="441.50" y1="735.62" x2="456.80" y2="734.38" stroke="#000" stroke-width="0.8" />
<line x1="441.50" y1="736.88" x2="456.80" y2="731.56" stroke="#000" stroke-width="0.8" />
<line x1="441.50" y1="738.12" x2="456.80" y2="736.25" stroke="#000" stroke-width="0.8" />
<line x1="441.50" y1="743.12" x2="456.80" y2="734.38" stroke="#000" stroke-width="0.8" />
<circle cx="441.50" cy="726.88" r="2.3" fill="none" stroke="#000" stroke-width="1.35"/>
<circle cx="441.50" cy="731.88" r="2.3" fill="none" stroke="#000" stroke-width="1.35"/>
<circle cx="441.50" cy="733.44" r="2.3" fill="none" stroke="#000" stroke-width="1.35"/>
<circle cx="441.50" cy="734.38" r="2.3" fill="none" stroke="#000" stroke-width="1.35"/>
<circle cx="441.50" cy="735.62" r="2.3" fill="none" stroke="#000" stroke-width="1.35"/>
<circle cx="441.50" cy="736.88" r="2.3" fill="none" stroke="#000" stroke-width="1.35"/>
<circle cx="441.50" cy="738.12" r="2.3" fill="none" stroke="#000" stroke-width="1.35"/>
<circle cx="441.50" cy="743.12" r="2.3" fill="none" stroke="#000" stroke-width="1.35"/>
<circle cx="456.80" cy="715.62" r="2.3" fill="none" stroke="#f60c18" stroke-width="1.35"/>
<circle cx="456.80" cy="728.12" r="2.3" fill="none" stroke="#f60c18" stroke-width="1.35"/>
<circle cx="456.80" cy="730.62" r="2.3" fill="none" stroke="#f60c18" stroke-width="1.35"/>
<circle cx="456.80" cy="732.50" r="2.3" fill="none" stroke="#f60c18" stroke-width="1.35"/>
<circle cx="456.80" cy="734.38" r="2.3" fill="none" stroke="#f60c18" stroke-width="1.35"/>
<circle cx="456.80" cy="731.56" r="2.3" fill="none" stroke="#f60c18" stroke-width="1.35"/>
<circle cx="456.80" cy="736.25" r="2.3" fill="none" stroke="#f60c18" stroke-width="1.35"/>
<circle cx="456.80" cy="734.38" r="2.3" fill="none" stroke="#f60c18" stroke-width="1.35"/>
<line x1="440.70" y1="644.70" x2="457.60" y2="644.70" stroke="#000" stroke-width="1.25" />
<text x="448.90" y="640.80" font-size="9.6" text-anchor="middle">0.1838</text>
<text transform="translate(450.40 767.70) rotate(-45) scale(0.9302 1)" font-size="10.96" text-anchor="end">ATP-linked</text>
<line x1="486.00" y1="752.50" x2="486.00" y2="758.00" stroke="#000" stroke-width="1.25" />
<line x1="478.40" y1="731.88" x2="493.70" y2="710.94" stroke="#000" stroke-width="0.8" />
<line x1="478.40" y1="733.44" x2="493.70" y2="728.12" stroke="#000" stroke-width="0.8" />
<line x1="478.40" y1="734.69" x2="493.70" y2="730.62" stroke="#000" stroke-width="0.8" />
<line x1="478.40" y1="735.62" x2="493.70" y2="732.50" stroke="#000" stroke-width="0.8" />
<line x1="478.40" y1="737.19" x2="493.70" y2="734.38" stroke="#000" stroke-width="0.8" />
<line x1="478.40" y1="738.44" x2="493.70" y2="733.44" stroke="#000" stroke-width="0.8" />
<line x1="478.40" y1="739.38" x2="493.70" y2="736.25" stroke="#000" stroke-width="0.8" />
<line x1="478.40" y1="745.00" x2="493.70" y2="735.31" stroke="#000" stroke-width="0.8" />
<circle cx="478.40" cy="731.88" r="2.3" fill="none" stroke="#000" stroke-width="1.35"/>
<circle cx="478.40" cy="733.44" r="2.3" fill="none" stroke="#000" stroke-width="1.35"/>
<circle cx="478.40" cy="734.69" r="2.3" fill="none" stroke="#000" stroke-width="1.35"/>
<circle cx="478.40" cy="735.62" r="2.3" fill="none" stroke="#000" stroke-width="1.35"/>
<circle cx="478.40" cy="737.19" r="2.3" fill="none" stroke="#000" stroke-width="1.35"/>
<circle cx="478.40" cy="738.44" r="2.3" fill="none" stroke="#000" stroke-width="1.35"/>
<circle cx="478.40" cy="739.38" r="2.3" fill="none" stroke="#000" stroke-width="1.35"/>
<circle cx="478.40" cy="745.00" r="2.3" fill="none" stroke="#000" stroke-width="1.35"/>
<circle cx="493.70" cy="710.94" r="2.3" fill="none" stroke="#f60c18" stroke-width="1.35"/>
<circle cx="493.70" cy="728.12" r="2.3" fill="none" stroke="#f60c18" stroke-width="1.35"/>
<circle cx="493.70" cy="730.62" r="2.3" fill="none" stroke="#f60c18" stroke-width="1.35"/>
<circle cx="493.70" cy="732.50" r="2.3" fill="none" stroke="#f60c18" stroke-width="1.35"/>
<circle cx="493.70" cy="734.38" r="2.3" fill="none" stroke="#f60c18" stroke-width="1.35"/>
<circle cx="493.70" cy="733.44" r="2.3" fill="none" stroke="#f60c18" stroke-width="1.35"/>
<circle cx="493.70" cy="736.25" r="2.3" fill="none" stroke="#f60c18" stroke-width="1.35"/>
<circle cx="493.70" cy="735.31" r="2.3" fill="none" stroke="#f60c18" stroke-width="1.35"/>
<line x1="477.60" y1="644.70" x2="494.50" y2="644.70" stroke="#000" stroke-width="1.25" />
<text x="485.80" y="640.80" font-size="9.6" text-anchor="middle">0.0293</text>
<text transform="translate(487.30 767.70) rotate(-45) scale(0.9302 1)" font-size="10.96" text-anchor="end">Non-mito</text>
<circle cx="470.00" cy="665.00" r="2.4" fill="none" stroke="#000" stroke-width="1.2"/>
<circle cx="470.00" cy="683.00" r="2.4" fill="none" stroke="#f60c18" stroke-width="1.2"/>
<text transform="translate(485.00 668.50) scale(0.9302 1)" font-size="11.18">Veh</text>
<text transform="translate(485.00 686.80) scale(0.9302 1)" font-size="11.18">Fenof</text>
<text x="548.10" y="621.00" font-size="15.6" font-weight="bold">P</text>
<line x1="596.25" y1="627.12" x2="596.25" y2="753.62" stroke="#000" stroke-width="1.25" />
<line x1="595.62" y1="753.00" x2="679.75" y2="753.00" stroke="#000" stroke-width="1.25" />
<line x1="590.75" y1="627.75" x2="596.25" y2="627.75" stroke="#000" stroke-width="1.25" />
<text transform="translate(588.75 631.33) scale(0.9434 1)" font-size="10.39" text-anchor="end">10</text>
<line x1="590.75" y1="652.80" x2="596.25" y2="652.80" stroke="#000" stroke-width="1.25" />
<text transform="translate(588.75 656.38) scale(0.9434 1)" font-size="10.39" text-anchor="end">8</text>
<line x1="590.75" y1="677.85" x2="596.25" y2="677.85" stroke="#000" stroke-width="1.25" />
<text transform="translate(588.75 681.43) scale(0.9434 1)" font-size="10.39" text-anchor="end">6</text>
<line x1="590.75" y1="702.90" x2="596.25" y2="702.90" stroke="#000" stroke-width="1.25" />
<text transform="translate(588.75 706.48) scale(0.9434 1)" font-size="10.39" text-anchor="end">4</text>
<line x1="590.75" y1="727.95" x2="596.25" y2="727.95" stroke="#000" stroke-width="1.25" />
<text transform="translate(588.75 731.53) scale(0.9434 1)" font-size="10.39" text-anchor="end">2</text>
<line x1="590.75" y1="753.00" x2="596.25" y2="753.00" stroke="#000" stroke-width="1.25" />
<text transform="translate(588.75 756.58) scale(0.9434 1)" font-size="10.39" text-anchor="end">0</text>
<line x1="620.00" y1="753.00" x2="620.00" y2="758.50" stroke="#000" stroke-width="1.25" />
<text transform="translate(620.00 771.00) scale(0.9302 1)" font-size="11.18" text-anchor="middle">Veh</text>
<line x1="655.75" y1="753.00" x2="655.75" y2="758.50" stroke="#000" stroke-width="1.25" />
<text transform="translate(655.75 771.00) scale(0.9302 1)" font-size="11.18" text-anchor="middle">Fenof</text>
<line x1="620.00" y1="710.04" x2="655.75" y2="657.06" stroke="#000" stroke-width="0.85" />
<line x1="620.00" y1="710.41" x2="655.75" y2="705.03" stroke="#000" stroke-width="0.85" />
<line x1="620.00" y1="738.72" x2="655.75" y2="720.06" stroke="#000" stroke-width="0.85" />
<line x1="620.00" y1="739.97" x2="655.75" y2="745.49" stroke="#000" stroke-width="0.85" />
<line x1="620.00" y1="745.99" x2="655.75" y2="722.56" stroke="#000" stroke-width="0.85" />
<line x1="620.00" y1="750.50" x2="655.75" y2="731.71" stroke="#000" stroke-width="0.85" />
<line x1="620.00" y1="752.25" x2="655.75" y2="734.21" stroke="#000" stroke-width="0.85" />
<line x1="620.00" y1="753.00" x2="655.75" y2="741.73" stroke="#000" stroke-width="0.85" />
<circle cx="620.00" cy="710.04" r="2.3" fill="none" stroke="#000" stroke-width="1.35"/>
<circle cx="620.00" cy="710.41" r="2.3" fill="none" stroke="#000" stroke-width="1.35"/>
<circle cx="620.00" cy="738.72" r="2.3" fill="none" stroke="#000" stroke-width="1.35"/>
<circle cx="620.00" cy="739.97" r="2.3" fill="none" stroke="#000" stroke-width="1.35"/>
<circle cx="620.00" cy="745.99" r="2.3" fill="none" stroke="#000" stroke-width="1.35"/>
<circle cx="620.00" cy="750.50" r="2.3" fill="none" stroke="#000" stroke-width="1.35"/>
<circle cx="620.00" cy="752.25" r="2.3" fill="none" stroke="#000" stroke-width="1.35"/>
<circle cx="620.00" cy="753.00" r="2.3" fill="none" stroke="#000" stroke-width="1.35"/>
<circle cx="620.00" cy="715.42" r="2.3" fill="none" stroke="#000" stroke-width="1.35"/>
<circle cx="655.75" cy="657.06" r="2.3" fill="none" stroke="#f60c18" stroke-width="1.35"/>
<circle cx="655.75" cy="705.03" r="2.3" fill="none" stroke="#f60c18" stroke-width="1.35"/>
<circle cx="655.75" cy="720.06" r="2.3" fill="none" stroke="#f60c18" stroke-width="1.35"/>
<circle cx="655.75" cy="745.49" r="2.3" fill="none" stroke="#f60c18" stroke-width="1.35"/>
<circle cx="655.75" cy="722.56" r="2.3" fill="none" stroke="#f60c18" stroke-width="1.35"/>
<circle cx="655.75" cy="731.71" r="2.3" fill="none" stroke="#f60c18" stroke-width="1.35"/>
<circle cx="655.75" cy="734.21" r="2.3" fill="none" stroke="#f60c18" stroke-width="1.35"/>
<circle cx="655.75" cy="741.73" r="2.3" fill="none" stroke="#f60c18" stroke-width="1.35"/>
<line x1="620.00" y1="640.50" x2="656.75" y2="640.50" stroke="#000" stroke-width="1.25" />
<text x="637.40" y="637.20" font-size="9.4" text-anchor="middle">0.0291</text>
<text transform="translate(570.60 690.30) rotate(-90) scale(0.9302 1)" font-size="10.96" text-anchor="middle">LDH release (<tspan font-style="italic">µ</tspan>U/ng DNA)</text>
<defs>
<filter id="bl03" x="-20%" y="-20%" width="140%" height="140%"><feGaussianBlur stdDeviation="0.3"/></filter>
<filter id="bl06" x="-20%" y="-20%" width="140%" height="140%"><feGaussianBlur stdDeviation="0.6"/></filter>
<filter id="bl1" x="-20%" y="-20%" width="140%" height="140%"><feGaussianBlur stdDeviation="1"/></filter>
<filter id="bl2" x="-30%" y="-30%" width="160%" height="160%"><feGaussianBlur stdDeviation="2"/></filter>
<filter id="bl4" x="-30%" y="-30%" width="160%" height="160%"><feGaussianBlur stdDeviation="4"/></filter>
<filter id="gtex" x="0" y="0" width="100%" height="100%" color-interpolation-filters="sRGB">
  <feTurbulence type="fractalNoise" baseFrequency="0.8" numOctaves="2" seed="3" result="n"/>
  <feColorMatrix in="n" type="matrix" values="0 0 0 0 0.05  0 0 0 0 0.75  0 0 0 0 0.05  0 3.2 0 0 -1.35" result="g"/>
  <feComposite in="g" in2="SourceGraphic" operator="in"/>
</filter>
<filter id="gtex2" x="0" y="0" width="100%" height="100%" color-interpolation-filters="sRGB">
  <feTurbulence type="fractalNoise" baseFrequency="0.8" numOctaves="2" seed="11" result="n"/>
  <feColorMatrix in="n" type="matrix" values="0 0 0 0 0.08  0 0 0 0 0.7  0 0 0 0 0.05  0 3.0 0 0 -1.3" result="g"/>
  <feComposite in="g" in2="SourceGraphic" operator="in"/>
</filter>
<filter id="gspk" x="-5%" y="-5%" width="110%" height="110%" color-interpolation-filters="sRGB">
  <feGaussianBlur in="SourceGraphic" stdDeviation="1.1" result="m"/>
  <feTurbulence type="fractalNoise" baseFrequency="0.5" numOctaves="2" seed="5" result="n"/>
  <feColorMatrix in="n" type="matrix" values="0 0 0 0 0.1  0 0 0 0 0.92  0 0 0 0 0.14  0 6 0 0 -2.6" result="g"/>
  <feComposite in="g" in2="m" operator="in"/>
</filter>
<filter id="gspk2" x="-5%" y="-5%" width="110%" height="110%" color-interpolation-filters="sRGB">
  <feGaussianBlur in="SourceGraphic" stdDeviation="1.1" result="m"/>
  <feTurbulence type="fractalNoise" baseFrequency="0.62" numOctaves="2" seed="9" result="n"/>
  <feColorMatrix in="n" type="matrix" values="0 0 0 0 0.05  0 0 0 0 0.75  0 0 0 0 0.1  0 5.5 0 0 -2.9" result="g"/>
  <feComposite in="g" in2="m" operator="in"/>
</filter>
<filter id="mtex" x="-5%" y="-5%" width="110%" height="110%" color-interpolation-filters="sRGB">
  <feGaussianBlur in="SourceGraphic" stdDeviation="0.7" result="m"/>
  <feTurbulence type="fractalNoise" baseFrequency="0.33" numOctaves="2" seed="21" result="n"/>
  <feColorMatrix in="n" type="matrix" values="2.6 0 0 0 -0.95  0 0 0 0 0.06  0 0 3.4 0 -1.0  0 0 0 0 1" result="g"/>
  <feComposite in="g" in2="m" operator="in"/>
</filter>
<filter id="mtex2" x="-5%" y="-5%" width="110%" height="110%" color-interpolation-filters="sRGB">
  <feGaussianBlur in="SourceGraphic" stdDeviation="0.8" result="m"/>
  <feTurbulence type="fractalNoise" baseFrequency="0.5" numOctaves="2" seed="33" result="n"/>
  <feColorMatrix in="n" type="matrix" values="3.6 0 0 0 -1.05  0 4.2 0 0 -2.35  0 0 3.6 0 -1.15  0 0 0 0 1" result="g"/>
  <feComposite in="g" in2="m" operator="in"/>
</filter>
<filter id="gray" x="0" y="0" width="100%" height="100%" color-interpolation-filters="sRGB">
  <feTurbulence type="fractalNoise" baseFrequency="0.35" numOctaves="3" seed="2" result="n"/>
  <feColorMatrix in="n" type="matrix" values="0 0 0 0 0  0 0 0 0 0  0 0 0 0 0  0 1.6 0 0 -0.72" result="g"/>
  <feComposite in="g" in2="SourceGraphic" operator="in"/>
</filter>
<linearGradient id="cbg1" gradientUnits="userSpaceOnUse" x1="365" y1="100" x2="444" y2="22">
  <stop offset="0" stop-color="#ffffff"/><stop offset="0.4" stop-color="#fafafa"/><stop offset="0.51" stop-color="#f0f0f0"/><stop offset="0.58" stop-color="#e6e6e6"/><stop offset="0.7" stop-color="#cacaca"/><stop offset="0.88" stop-color="#a8a8a8"/><stop offset="1" stop-color="#8c8c8c"/>
</linearGradient>
<linearGradient id="cbg2" gradientUnits="userSpaceOnUse" x1="402" y1="138" x2="349" y2="192">
  <stop offset="0" stop-color="#fefefe"/><stop offset="0.35" stop-color="#f2f2f2"/><stop offset="0.62" stop-color="#d0d0d0"/><stop offset="0.84" stop-color="#a6a6a6"/><stop offset="1" stop-color="#6c6c6c"/>
</linearGradient>
<radialGradient id="core" cx="0.5" cy="0.5" r="0.5">
  <stop offset="0" stop-color="#5c5c5c"/><stop offset="0.55" stop-color="#747474"/><stop offset="0.85" stop-color="#929292"/><stop offset="1" stop-color="#b0b0b0" stop-opacity="0.7"/>
</radialGradient>
<clipPath id="cC1"><rect x="350.5" y="27" width="90" height="79"/></clipPath>
<clipPath id="cC2"><rect x="350.5" y="111.6" width="90" height="78.8"/></clipPath>
<clipPath id="cH1"><rect x="277.5" y="247.3" width="97.4" height="93.5"/></clipPath>
<clipPath id="cH2"><rect x="379" y="247.3" width="97.6" height="93.5"/></clipPath>
<clipPath id="cJ1"><rect x="53.6" y="410.1" width="87.7" height="84"/></clipPath>
<clipPath id="cJ2"><rect x="146.1" y="410.1" width="87.6" height="84"/></clipPath>
<clipPath id="cJ3"><rect x="53.6" y="499.9" width="87.7" height="83.8"/></clipPath>
<clipPath id="cJ4"><rect x="146.1" y="499.9" width="87.6" height="83.8"/></clipPath>
</defs>
<rect x="245.2" y="25" width="37" height="36.5" fill="#d7d7d7"/>
<g>
<ellipse cx="263.9" cy="42.6" rx="14.3" ry="13.2" fill="#dadada" stroke="#5a5a5a" stroke-width="0.7" transform="rotate(-20 263.9 42.6)"/>
<circle cx="261.8" cy="46.4" r="0.27" fill="#b5b5b5"/>
<circle cx="256.8" cy="41.1" r="0.52" fill="#b5b5b5"/>
<circle cx="264.7" cy="45.8" r="0.27" fill="#e8e8e8"/>
<circle cx="270.5" cy="46.5" r="0.53" fill="#b5b5b5"/>
<circle cx="257.7" cy="36.4" r="0.42" fill="#b5b5b5"/>
<circle cx="254.5" cy="49.2" r="0.42" fill="#b5b5b5"/>
<circle cx="269.1" cy="47.9" r="0.42" fill="#b5b5b5"/>
<circle cx="254.7" cy="39.2" r="0.42" fill="#b5b5b5"/>
<circle cx="259.2" cy="37.4" r="0.42" fill="#b5b5b5"/>
<circle cx="257.7" cy="37.3" r="0.48" fill="#e8e8e8"/>
<circle cx="252.6" cy="44.9" r="0.34" fill="#a8a8a8"/>
<circle cx="266.7" cy="33.7" r="0.27" fill="#c2c2c2"/>
<circle cx="261.3" cy="50.0" r="0.47" fill="#a8a8a8"/>
<circle cx="261.1" cy="53.2" r="0.40" fill="#b5b5b5"/>
<circle cx="267.5" cy="48.2" r="0.38" fill="#e8e8e8"/>
<circle cx="267.1" cy="41.9" r="0.35" fill="#a8a8a8"/>
<circle cx="258.9" cy="48.9" r="0.27" fill="#e8e8e8"/>
<circle cx="269.1" cy="45.8" r="0.27" fill="#b5b5b5"/>
<circle cx="261.0" cy="34.1" r="0.34" fill="#e8e8e8"/>
<circle cx="256.5" cy="48.5" r="0.53" fill="#b5b5b5"/>
<circle cx="258.1" cy="49.4" r="0.27" fill="#e8e8e8"/>
<circle cx="264.4" cy="38.7" r="0.37" fill="#c2c2c2"/>
<circle cx="271.2" cy="38.7" r="0.38" fill="#c2c2c2"/>
<circle cx="253.2" cy="39.4" r="0.51" fill="#e8e8e8"/>
<circle cx="262.5" cy="49.6" r="0.45" fill="#a8a8a8"/>
<circle cx="259.7" cy="46.2" r="0.30" fill="#b5b5b5"/>
<circle cx="264.6" cy="47.9" r="0.50" fill="#e8e8e8"/>
<circle cx="266.5" cy="47.9" r="0.38" fill="#c2c2c2"/>
<circle cx="257.7" cy="48.7" r="0.46" fill="#c2c2c2"/>
<circle cx="254.5" cy="41.8" r="0.39" fill="#b5b5b5"/>
<circle cx="272.0" cy="34.8" r="0.37" fill="#e8e8e8"/>
<circle cx="257.3" cy="47.3" r="0.27" fill="#e8e8e8"/>
<circle cx="268.9" cy="44.7" r="0.28" fill="#c2c2c2"/>
<circle cx="260.8" cy="40.5" r="0.41" fill="#c2c2c2"/>
<circle cx="272.8" cy="39.9" r="0.51" fill="#b5b5b5"/>
<circle cx="260.4" cy="39.8" r="0.54" fill="#a8a8a8"/>
<circle cx="257.3" cy="38.0" r="0.50" fill="#b5b5b5"/>
<circle cx="272.1" cy="42.3" r="0.34" fill="#e8e8e8"/>
<circle cx="270.3" cy="50.1" r="0.39" fill="#a8a8a8"/>
<circle cx="260.8" cy="35.2" r="0.54" fill="#c2c2c2"/>
<circle cx="259.4" cy="41.9" r="0.48" fill="#b5b5b5"/>
<circle cx="261.0" cy="51.1" r="0.46" fill="#b5b5b5"/>
<circle cx="263.4" cy="49.3" r="0.36" fill="#c2c2c2"/>
<circle cx="265.4" cy="50.6" r="0.44" fill="#a8a8a8"/>
<circle cx="255.8" cy="36.2" r="0.49" fill="#c2c2c2"/>
<circle cx="268.2" cy="34.0" r="0.31" fill="#c2c2c2"/>
<circle cx="253.7" cy="43.0" r="0.49" fill="#b5b5b5"/>
<circle cx="258.7" cy="43.4" r="0.38" fill="#a8a8a8"/>
<circle cx="274.9" cy="38.4" r="0.27" fill="#a8a8a8"/>
<circle cx="270.5" cy="47.1" r="0.31" fill="#a8a8a8"/>
<circle cx="255.8" cy="35.2" r="0.39" fill="#b5b5b5"/>
<circle cx="257.8" cy="34.5" r="0.50" fill="#b5b5b5"/>
<circle cx="269.4" cy="47.3" r="0.39" fill="#c2c2c2"/>
<circle cx="268.5" cy="51.4" r="0.28" fill="#a8a8a8"/>
<circle cx="273.5" cy="39.5" r="0.37" fill="#e8e8e8"/>
<circle cx="273.6" cy="39.5" r="0.55" fill="#c2c2c2"/>
<circle cx="273.0" cy="44.1" r="0.49" fill="#e8e8e8"/>
<circle cx="270.5" cy="50.6" r="0.45" fill="#e8e8e8"/>
<circle cx="258.7" cy="49.2" r="0.26" fill="#c2c2c2"/>
<circle cx="267.0" cy="33.6" r="0.41" fill="#b5b5b5"/>
<circle cx="271.1" cy="39.7" r="0.50" fill="#c2c2c2"/>
<circle cx="265.4" cy="48.0" r="0.40" fill="#a8a8a8"/>
<circle cx="264.5" cy="36.3" r="0.50" fill="#e8e8e8"/>
<circle cx="273.5" cy="46.1" r="0.45" fill="#e8e8e8"/>
<circle cx="267.3" cy="35.3" r="0.41" fill="#c2c2c2"/>
<circle cx="262.3" cy="42.4" r="0.48" fill="#e8e8e8"/>
<circle cx="255.7" cy="36.5" r="0.30" fill="#c2c2c2"/>
<circle cx="253.8" cy="44.2" r="0.35" fill="#b5b5b5"/>
<circle cx="255.0" cy="41.7" r="0.51" fill="#b5b5b5"/>
<circle cx="268.8" cy="44.3" r="0.48" fill="#b5b5b5"/>
</g>
<rect x="246.3" y="136.8" width="36.6" height="39" fill="#d5d5d5"/>
<circle cx="256.4" cy="140.2" r="2.9" fill="#cdcdcd" stroke="#4a4a4a" stroke-width="0.6"/>
<circle cx="260.3" cy="143.4" r="2.7" fill="#c6c6c6" stroke="#4a4a4a" stroke-width="0.6"/>
<circle cx="273.0" cy="144.2" r="3.6" fill="#e2e2e2" stroke="#4a4a4a" stroke-width="0.95"/>
<circle cx="275.6" cy="150.8" r="2.5" fill="#dedede" stroke="#4a4a4a" stroke-width="0.9"/>
<circle cx="251.6" cy="166.6" r="2.6" fill="#cacaca" stroke="#4a4a4a" stroke-width="0.6"/>
<circle cx="275.4" cy="165.0" r="2.3" fill="#d4d4d4" stroke="#4a4a4a" stroke-width="0.8"/>
<circle cx="259.6" cy="171.2" r="3.5" fill="#c2c2c2" stroke="#4a4a4a" stroke-width="0.7"/>
<circle cx="254.6" cy="170.4" r="2.4" fill="#c8c8c8" stroke="#4a4a4a" stroke-width="0.6"/>
<circle cx="268.8" cy="169.6" r="2.3" fill="#bababa" stroke="#4a4a4a" stroke-width="0.6"/>
<circle cx="254.8" cy="150.2" r="2.4" fill="#b8b8b8" stroke="#4a4a4a" stroke-width="0.6"/>
<circle cx="267.5" cy="146.6" r="2.4" fill="#c4c4c4" stroke="#4a4a4a" stroke-width="0.7"/>
<path d="M275.5 159.2 L276.4 162.8 L274.1 165.6 L271.8 167.6 L269.8 169.8 L266.9 170.0 L264.4 169.4 L261.7 170.8 L258.5 170.8 L256.5 168.1 L254.7 165.6 L253.1 162.6 L254.3 159.2 L255.8 156.6 L255.7 153.5 L256.7 150.5 L259.2 148.9 L261.4 146.6 L264.4 145.2 L267.2 147.4 L269.1 149.9 L271.6 151.0 L273.1 153.5 L273.7 156.4Z" fill="url(#core)" stroke="#454545" stroke-width="0.55" stroke-linejoin="round"/>
<ellipse cx="264.8" cy="159.4" rx="6.2" ry="7.2" fill="#484848" filter="url(#bl2)" opacity="0.6"/>
<circle cx="257.4" cy="159.0" r="0.53" fill="#3c3c3c" opacity="0.5"/>
<circle cx="269.9" cy="156.0" r="0.48" fill="#3c3c3c" opacity="0.5"/>
<circle cx="257.7" cy="159.1" r="0.51" fill="#3c3c3c" opacity="0.5"/>
<circle cx="257.9" cy="161.3" r="0.44" fill="#3c3c3c" opacity="0.5"/>
<circle cx="271.9" cy="156.4" r="0.56" fill="#3c3c3c" opacity="0.5"/>
<circle cx="269.0" cy="157.6" r="0.47" fill="#3c3c3c" opacity="0.5"/>
<circle cx="272.7" cy="156.3" r="0.34" fill="#3c3c3c" opacity="0.5"/>
<circle cx="269.1" cy="163.7" r="0.32" fill="#3c3c3c" opacity="0.5"/>
<circle cx="264.7" cy="161.9" r="0.50" fill="#3c3c3c" opacity="0.5"/>
<circle cx="266.4" cy="150.5" r="0.35" fill="#3c3c3c" opacity="0.5"/>
<circle cx="262.9" cy="151.8" r="0.34" fill="#3c3c3c" opacity="0.5"/>
<circle cx="271.4" cy="153.0" r="0.37" fill="#3c3c3c" opacity="0.5"/>
<circle cx="270.2" cy="157.5" r="0.45" fill="#3c3c3c" opacity="0.5"/>
<circle cx="273.2" cy="158.7" r="0.35" fill="#3c3c3c" opacity="0.5"/>
<circle cx="258.3" cy="162.1" r="0.40" fill="#3c3c3c" opacity="0.5"/>
<circle cx="266.3" cy="164.4" r="0.52" fill="#3c3c3c" opacity="0.5"/>
<circle cx="271.5" cy="160.2" r="0.43" fill="#3c3c3c" opacity="0.5"/>
<circle cx="269.9" cy="159.9" r="0.49" fill="#3c3c3c" opacity="0.5"/>
<circle cx="262.1" cy="159.1" r="0.60" fill="#3c3c3c" opacity="0.5"/>
<circle cx="266.7" cy="150.2" r="0.33" fill="#3c3c3c" opacity="0.5"/>
<circle cx="264.3" cy="161.2" r="0.53" fill="#3c3c3c" opacity="0.5"/>
<circle cx="264.1" cy="162.7" r="0.43" fill="#3c3c3c" opacity="0.5"/>
<circle cx="271.8" cy="154.8" r="0.38" fill="#3c3c3c" opacity="0.5"/>
<circle cx="269.9" cy="166.6" r="0.47" fill="#3c3c3c" opacity="0.5"/>
<circle cx="263.6" cy="156.6" r="0.32" fill="#3c3c3c" opacity="0.5"/>
<circle cx="262.2" cy="153.6" r="0.32" fill="#3c3c3c" opacity="0.5"/>
<circle cx="271.5" cy="156.4" r="0.54" fill="#3c3c3c" opacity="0.5"/>
<circle cx="272.1" cy="163.7" r="0.32" fill="#3c3c3c" opacity="0.5"/>
<circle cx="268.7" cy="154.4" r="0.40" fill="#3c3c3c" opacity="0.5"/>
<circle cx="255.9" cy="156.3" r="0.38" fill="#3c3c3c" opacity="0.5"/>
<circle cx="269.2" cy="164.3" r="0.37" fill="#3c3c3c" opacity="0.5"/>
<circle cx="267.4" cy="161.7" r="0.32" fill="#3c3c3c" opacity="0.5"/>
<circle cx="266.1" cy="164.4" r="0.39" fill="#3c3c3c" opacity="0.5"/>
<circle cx="264.8" cy="154.2" r="0.45" fill="#3c3c3c" opacity="0.5"/>
<circle cx="266.9" cy="164.3" r="0.31" fill="#3c3c3c" opacity="0.5"/>
<circle cx="264.5" cy="160.5" r="0.52" fill="#3c3c3c" opacity="0.5"/>
<circle cx="260.6" cy="158.0" r="0.44" fill="#3c3c3c" opacity="0.5"/>
<circle cx="267.3" cy="158.1" r="0.55" fill="#3c3c3c" opacity="0.5"/>
<circle cx="258.4" cy="162.1" r="0.55" fill="#3c3c3c" opacity="0.5"/>
<circle cx="259.2" cy="163.5" r="0.51" fill="#3c3c3c" opacity="0.5"/>
<rect x="350" y="26.5" width="91" height="80" fill="url(#cbg1)" stroke="#000" stroke-width="1.1"/>
<g clip-path="url(#cC1)">
<rect x="350" y="26" width="92" height="82" fill="#000" filter="url(#gray)" opacity="0.05"/>
<circle cx="357.7" cy="35.1" r="3.5" fill="#000" opacity="0.21" filter="url(#bl1)"/><circle cx="359.5" cy="34.9" r="1.75" fill="rgb(159,159,159)" fill-opacity="0.5" stroke="rgb(90,90,90)" stroke-width="0.6"/><circle cx="356.2" cy="36.2" r="1.05" fill="rgb(131,131,131)" fill-opacity="0.5" stroke="rgb(67,67,67)" stroke-width="0.6"/><circle cx="357.6" cy="33.6" r="1.15" fill="rgb(169,169,169)" fill-opacity="0.5" stroke="rgb(65,65,65)" stroke-width="0.6"/><circle cx="359.4" cy="33.3" r="1.25" fill="rgb(142,142,142)" fill-opacity="0.5" stroke="rgb(72,72,72)" stroke-width="0.6"/><circle cx="356.5" cy="35.4" r="1.40" fill="rgb(175,175,175)" fill-opacity="0.5" stroke="rgb(73,73,73)" stroke-width="0.6"/><circle cx="359.9" cy="34.7" r="1.22" fill="rgb(142,142,142)" fill-opacity="0.5" stroke="rgb(101,101,101)" stroke-width="0.6"/><circle cx="357.6" cy="35.2" r="1.34" fill="rgb(152,152,152)" fill-opacity="0.5" stroke="rgb(81,81,81)" stroke-width="0.6"/><circle cx="358.3" cy="37.2" r="1.00" fill="rgb(131,131,131)" fill-opacity="0.5" stroke="rgb(73,73,73)" stroke-width="0.6"/>
<circle cx="372.3" cy="32.2" r="3.9" fill="#000" opacity="0.36" filter="url(#bl1)"/><circle cx="371.7" cy="32.6" r="1.02" fill="rgb(105,105,105)" fill-opacity="0.5" stroke="rgb(41,41,41)" stroke-width="0.6"/><circle cx="370.1" cy="30.9" r="1.68" fill="rgb(130,130,130)" fill-opacity="0.5" stroke="rgb(55,55,55)" stroke-width="0.6"/><circle cx="373.8" cy="30.7" r="1.29" fill="rgb(101,101,101)" fill-opacity="0.5" stroke="rgb(68,68,68)" stroke-width="0.6"/><circle cx="371.8" cy="29.5" r="1.04" fill="rgb(138,138,138)" fill-opacity="0.5" stroke="rgb(62,62,62)" stroke-width="0.6"/><circle cx="370.2" cy="30.1" r="1.73" fill="rgb(120,120,120)" fill-opacity="0.5" stroke="rgb(34,34,34)" stroke-width="0.6"/><circle cx="369.1" cy="32.1" r="1.72" fill="rgb(123,123,123)" fill-opacity="0.5" stroke="rgb(62,62,62)" stroke-width="0.6"/><circle cx="374.5" cy="30.4" r="1.62" fill="rgb(95,95,95)" fill-opacity="0.5" stroke="rgb(38,38,38)" stroke-width="0.6"/><circle cx="373.7" cy="33.8" r="1.09" fill="rgb(122,122,122)" fill-opacity="0.5" stroke="rgb(62,62,62)" stroke-width="0.6"/><circle cx="370.4" cy="30.2" r="1.61" fill="rgb(94,94,94)" fill-opacity="0.5" stroke="rgb(48,48,48)" stroke-width="0.6"/><circle cx="373.2" cy="29.3" r="1.45" fill="rgb(127,127,127)" fill-opacity="0.5" stroke="rgb(50,50,50)" stroke-width="0.6"/>
<circle cx="363.5" cy="41.0" r="1.9" fill="#000" opacity="0.29" filter="url(#bl1)"/><circle cx="364.9" cy="41.6" r="1.23" fill="rgb(121,121,121)" fill-opacity="0.5" stroke="rgb(46,46,46)" stroke-width="0.6"/><circle cx="363.4" cy="40.2" r="1.67" fill="rgb(133,133,133)" fill-opacity="0.5" stroke="rgb(82,82,82)" stroke-width="0.6"/>
<circle cx="369.4" cy="51.2" r="5.8" fill="#000" opacity="0.25" filter="url(#bl1)"/><circle cx="366.7" cy="53.6" r="1.62" fill="rgb(148,148,148)" fill-opacity="0.5" stroke="rgb(83,83,83)" stroke-width="0.6"/><circle cx="368.5" cy="50.1" r="1.13" fill="rgb(155,155,155)" fill-opacity="0.5" stroke="rgb(63,63,63)" stroke-width="0.6"/><circle cx="368.0" cy="54.9" r="1.01" fill="rgb(131,131,131)" fill-opacity="0.5" stroke="rgb(55,55,55)" stroke-width="0.6"/><circle cx="367.3" cy="47.4" r="1.61" fill="rgb(143,143,143)" fill-opacity="0.5" stroke="rgb(64,64,64)" stroke-width="0.6"/><circle cx="365.9" cy="52.0" r="1.11" fill="rgb(127,127,127)" fill-opacity="0.5" stroke="rgb(88,88,88)" stroke-width="0.6"/><circle cx="374.4" cy="50.5" r="1.02" fill="rgb(158,158,158)" fill-opacity="0.5" stroke="rgb(71,71,71)" stroke-width="0.6"/><circle cx="372.8" cy="50.5" r="1.24" fill="rgb(165,165,165)" fill-opacity="0.5" stroke="rgb(61,61,61)" stroke-width="0.6"/><circle cx="370.3" cy="55.1" r="1.13" fill="rgb(165,165,165)" fill-opacity="0.5" stroke="rgb(73,73,73)" stroke-width="0.6"/><circle cx="372.5" cy="54.7" r="1.46" fill="rgb(153,153,153)" fill-opacity="0.5" stroke="rgb(88,88,88)" stroke-width="0.6"/><circle cx="369.9" cy="56.1" r="1.44" fill="rgb(118,118,118)" fill-opacity="0.5" stroke="rgb(53,53,53)" stroke-width="0.6"/><circle cx="365.9" cy="51.4" r="1.27" fill="rgb(135,135,135)" fill-opacity="0.5" stroke="rgb(58,58,58)" stroke-width="0.6"/><circle cx="367.4" cy="55.6" r="1.00" fill="rgb(159,159,159)" fill-opacity="0.5" stroke="rgb(83,83,83)" stroke-width="0.6"/><circle cx="373.0" cy="54.6" r="1.64" fill="rgb(132,132,132)" fill-opacity="0.5" stroke="rgb(89,89,89)" stroke-width="0.6"/><circle cx="367.1" cy="53.5" r="1.90" fill="rgb(136,136,136)" fill-opacity="0.5" stroke="rgb(76,76,76)" stroke-width="0.6"/><circle cx="366.9" cy="52.4" r="1.04" fill="rgb(159,159,159)" fill-opacity="0.5" stroke="rgb(57,57,57)" stroke-width="0.6"/><circle cx="368.2" cy="56.1" r="1.22" fill="rgb(143,143,143)" fill-opacity="0.5" stroke="rgb(63,63,63)" stroke-width="0.6"/><circle cx="370.5" cy="54.2" r="1.86" fill="rgb(158,158,158)" fill-opacity="0.5" stroke="rgb(88,88,88)" stroke-width="0.6"/><circle cx="366.0" cy="47.5" r="1.85" fill="rgb(153,153,153)" fill-opacity="0.5" stroke="rgb(74,74,74)" stroke-width="0.6"/><circle cx="373.6" cy="52.6" r="1.41" fill="rgb(150,150,150)" fill-opacity="0.5" stroke="rgb(83,83,83)" stroke-width="0.6"/><circle cx="369.1" cy="52.3" r="1.83" fill="rgb(141,141,141)" fill-opacity="0.5" stroke="rgb(58,58,58)" stroke-width="0.6"/><circle cx="367.8" cy="53.6" r="1.67" fill="rgb(131,131,131)" fill-opacity="0.5" stroke="rgb(92,92,92)" stroke-width="0.6"/><circle cx="367.8" cy="48.8" r="1.50" fill="rgb(126,126,126)" fill-opacity="0.5" stroke="rgb(68,68,68)" stroke-width="0.6"/><circle cx="370.6" cy="53.2" r="1.82" fill="rgb(129,129,129)" fill-opacity="0.5" stroke="rgb(72,72,72)" stroke-width="0.6"/>
<circle cx="397.1" cy="55.6" r="4.2" fill="#000" opacity="0.36" filter="url(#bl1)"/><circle cx="400.2" cy="53.5" r="1.40" fill="rgb(103,103,103)" fill-opacity="0.5" stroke="rgb(34,34,34)" stroke-width="0.6"/><circle cx="398.9" cy="56.8" r="1.08" fill="rgb(107,107,107)" fill-opacity="0.5" stroke="rgb(38,38,38)" stroke-width="0.6"/><circle cx="393.9" cy="54.1" r="1.67" fill="rgb(114,114,114)" fill-opacity="0.5" stroke="rgb(45,45,45)" stroke-width="0.6"/><circle cx="394.8" cy="55.2" r="1.30" fill="rgb(108,108,108)" fill-opacity="0.5" stroke="rgb(31,31,31)" stroke-width="0.6"/><circle cx="398.4" cy="55.3" r="1.45" fill="rgb(137,137,137)" fill-opacity="0.5" stroke="rgb(54,54,54)" stroke-width="0.6"/><circle cx="397.5" cy="57.5" r="1.22" fill="rgb(116,116,116)" fill-opacity="0.5" stroke="rgb(45,45,45)" stroke-width="0.6"/><circle cx="400.4" cy="54.6" r="1.79" fill="rgb(95,95,95)" fill-opacity="0.5" stroke="rgb(30,30,30)" stroke-width="0.6"/><circle cx="396.2" cy="52.2" r="1.43" fill="rgb(94,94,94)" fill-opacity="0.5" stroke="rgb(52,52,52)" stroke-width="0.6"/><circle cx="394.3" cy="57.8" r="1.74" fill="rgb(142,142,142)" fill-opacity="0.5" stroke="rgb(63,63,63)" stroke-width="0.6"/><circle cx="397.1" cy="56.8" r="1.14" fill="rgb(128,128,128)" fill-opacity="0.5" stroke="rgb(50,50,50)" stroke-width="0.6"/><circle cx="400.0" cy="54.4" r="1.58" fill="rgb(117,117,117)" fill-opacity="0.5" stroke="rgb(59,59,59)" stroke-width="0.6"/>
<circle cx="392.7" cy="67.3" r="6.7" fill="#000" opacity="0.42" filter="url(#bl1)"/><circle cx="391.6" cy="66.9" r="1.70" fill="rgb(125,125,125)" fill-opacity="0.5" stroke="rgb(24,24,24)" stroke-width="0.6"/><circle cx="390.7" cy="64.7" r="1.12" fill="rgb(111,111,111)" fill-opacity="0.5" stroke="rgb(25,25,25)" stroke-width="0.6"/><circle cx="392.1" cy="65.4" r="1.06" fill="rgb(109,109,109)" fill-opacity="0.5" stroke="rgb(35,35,35)" stroke-width="0.6"/><circle cx="390.6" cy="69.1" r="1.54" fill="rgb(95,95,95)" fill-opacity="0.5" stroke="rgb(15,15,15)" stroke-width="0.6"/><circle cx="387.1" cy="68.7" r="1.58" fill="rgb(103,103,103)" fill-opacity="0.5" stroke="rgb(50,50,50)" stroke-width="0.6"/><circle cx="393.0" cy="70.2" r="1.86" fill="rgb(95,95,95)" fill-opacity="0.5" stroke="rgb(43,43,43)" stroke-width="0.6"/><circle cx="396.9" cy="67.8" r="1.61" fill="rgb(92,92,92)" fill-opacity="0.5" stroke="rgb(31,31,31)" stroke-width="0.6"/><circle cx="389.9" cy="62.3" r="1.20" fill="rgb(96,96,96)" fill-opacity="0.5" stroke="rgb(16,16,16)" stroke-width="0.6"/><circle cx="388.4" cy="69.6" r="1.18" fill="rgb(116,116,116)" fill-opacity="0.5" stroke="rgb(46,46,46)" stroke-width="0.6"/><circle cx="390.0" cy="67.2" r="1.87" fill="rgb(121,121,121)" fill-opacity="0.5" stroke="rgb(27,27,27)" stroke-width="0.6"/><circle cx="393.1" cy="70.0" r="1.68" fill="rgb(127,127,127)" fill-opacity="0.5" stroke="rgb(26,26,26)" stroke-width="0.6"/><circle cx="390.1" cy="67.3" r="1.20" fill="rgb(113,113,113)" fill-opacity="0.5" stroke="rgb(31,31,31)" stroke-width="0.6"/><circle cx="394.9" cy="66.5" r="1.35" fill="rgb(128,128,128)" fill-opacity="0.5" stroke="rgb(23,23,23)" stroke-width="0.6"/><circle cx="393.6" cy="68.3" r="1.05" fill="rgb(124,124,124)" fill-opacity="0.5" stroke="rgb(30,30,30)" stroke-width="0.6"/><circle cx="396.5" cy="63.8" r="1.90" fill="rgb(96,96,96)" fill-opacity="0.5" stroke="rgb(52,52,52)" stroke-width="0.6"/><circle cx="395.0" cy="72.6" r="1.67" fill="rgb(113,113,113)" fill-opacity="0.5" stroke="rgb(16,16,16)" stroke-width="0.6"/><circle cx="390.1" cy="69.8" r="1.30" fill="rgb(80,80,80)" fill-opacity="0.5" stroke="rgb(21,21,21)" stroke-width="0.6"/><circle cx="392.1" cy="70.7" r="1.86" fill="rgb(128,128,128)" fill-opacity="0.5" stroke="rgb(19,19,19)" stroke-width="0.6"/><circle cx="393.7" cy="70.7" r="1.74" fill="rgb(101,101,101)" fill-opacity="0.5" stroke="rgb(47,47,47)" stroke-width="0.6"/><circle cx="396.6" cy="68.5" r="1.34" fill="rgb(89,89,89)" fill-opacity="0.5" stroke="rgb(51,51,51)" stroke-width="0.6"/><circle cx="389.0" cy="71.5" r="1.03" fill="rgb(120,120,120)" fill-opacity="0.5" stroke="rgb(31,31,31)" stroke-width="0.6"/><circle cx="392.8" cy="66.1" r="1.03" fill="rgb(126,126,126)" fill-opacity="0.5" stroke="rgb(17,17,17)" stroke-width="0.6"/><circle cx="392.5" cy="72.4" r="1.81" fill="rgb(93,93,93)" fill-opacity="0.5" stroke="rgb(28,28,28)" stroke-width="0.6"/><circle cx="397.2" cy="66.0" r="1.24" fill="rgb(95,95,95)" fill-opacity="0.5" stroke="rgb(43,43,43)" stroke-width="0.6"/><circle cx="392.7" cy="67.6" r="1.68" fill="rgb(111,111,111)" fill-opacity="0.5" stroke="rgb(51,51,51)" stroke-width="0.6"/><circle cx="393.6" cy="66.9" r="1.21" fill="rgb(127,127,127)" fill-opacity="0.5" stroke="rgb(34,34,34)" stroke-width="0.6"/><circle cx="396.3" cy="66.2" r="1.23" fill="rgb(104,104,104)" fill-opacity="0.5" stroke="rgb(32,32,32)" stroke-width="0.6"/><circle cx="395.0" cy="66.1" r="1.72" fill="rgb(121,121,121)" fill-opacity="0.5" stroke="rgb(44,44,44)" stroke-width="0.6"/><circle cx="393.4" cy="62.7" r="1.30" fill="rgb(98,98,98)" fill-opacity="0.5" stroke="rgb(27,27,27)" stroke-width="0.6"/><circle cx="393.1" cy="65.6" r="1.18" fill="rgb(92,92,92)" fill-opacity="0.5" stroke="rgb(45,45,45)" stroke-width="0.6"/>
<circle cx="354.8" cy="69.4" r="3.3" fill="#000" opacity="0.23" filter="url(#bl1)"/><circle cx="355.3" cy="69.7" r="1.50" fill="rgb(171,171,171)" fill-opacity="0.5" stroke="rgb(70,70,70)" stroke-width="0.6"/><circle cx="357.0" cy="67.5" r="1.24" fill="rgb(127,127,127)" fill-opacity="0.5" stroke="rgb(61,61,61)" stroke-width="0.6"/><circle cx="352.3" cy="69.5" r="1.40" fill="rgb(143,143,143)" fill-opacity="0.5" stroke="rgb(67,67,67)" stroke-width="0.6"/><circle cx="353.0" cy="67.8" r="1.67" fill="rgb(155,155,155)" fill-opacity="0.5" stroke="rgb(91,91,91)" stroke-width="0.6"/><circle cx="356.7" cy="71.3" r="1.26" fill="rgb(141,141,141)" fill-opacity="0.5" stroke="rgb(80,80,80)" stroke-width="0.6"/><circle cx="354.7" cy="68.1" r="1.22" fill="rgb(130,130,130)" fill-opacity="0.5" stroke="rgb(67,67,67)" stroke-width="0.6"/><circle cx="356.5" cy="67.9" r="1.29" fill="rgb(172,172,172)" fill-opacity="0.5" stroke="rgb(73,73,73)" stroke-width="0.6"/>
<circle cx="369.4" cy="77.5" r="4.7" fill="#000" opacity="0.23" filter="url(#bl1)"/><circle cx="367.3" cy="77.4" r="1.73" fill="rgb(172,172,172)" fill-opacity="0.5" stroke="rgb(83,83,83)" stroke-width="0.6"/><circle cx="371.7" cy="79.2" r="1.74" fill="rgb(168,168,168)" fill-opacity="0.5" stroke="rgb(91,91,91)" stroke-width="0.6"/><circle cx="371.6" cy="78.0" r="1.11" fill="rgb(171,171,171)" fill-opacity="0.5" stroke="rgb(65,65,65)" stroke-width="0.6"/><circle cx="365.8" cy="75.4" r="1.34" fill="rgb(145,145,145)" fill-opacity="0.5" stroke="rgb(92,92,92)" stroke-width="0.6"/><circle cx="369.1" cy="81.2" r="1.85" fill="rgb(152,152,152)" fill-opacity="0.5" stroke="rgb(61,61,61)" stroke-width="0.6"/><circle cx="367.9" cy="76.1" r="1.33" fill="rgb(132,132,132)" fill-opacity="0.5" stroke="rgb(63,63,63)" stroke-width="0.6"/><circle cx="369.3" cy="80.7" r="1.59" fill="rgb(123,123,123)" fill-opacity="0.5" stroke="rgb(65,65,65)" stroke-width="0.6"/><circle cx="367.7" cy="80.5" r="1.17" fill="rgb(132,132,132)" fill-opacity="0.5" stroke="rgb(70,70,70)" stroke-width="0.6"/><circle cx="370.2" cy="74.5" r="1.06" fill="rgb(142,142,142)" fill-opacity="0.5" stroke="rgb(61,61,61)" stroke-width="0.6"/><circle cx="366.2" cy="76.4" r="1.08" fill="rgb(157,157,157)" fill-opacity="0.5" stroke="rgb(64,64,64)" stroke-width="0.6"/><circle cx="367.5" cy="78.7" r="1.28" fill="rgb(138,138,138)" fill-opacity="0.5" stroke="rgb(95,95,95)" stroke-width="0.6"/><circle cx="367.1" cy="76.5" r="1.37" fill="rgb(172,172,172)" fill-opacity="0.5" stroke="rgb(92,92,92)" stroke-width="0.6"/><circle cx="368.1" cy="78.9" r="1.66" fill="rgb(123,123,123)" fill-opacity="0.5" stroke="rgb(65,65,65)" stroke-width="0.6"/><circle cx="371.6" cy="75.9" r="1.74" fill="rgb(166,166,166)" fill-opacity="0.5" stroke="rgb(73,73,73)" stroke-width="0.6"/><circle cx="367.7" cy="77.9" r="1.01" fill="rgb(154,154,154)" fill-opacity="0.5" stroke="rgb(79,79,79)" stroke-width="0.6"/>
<circle cx="377.4" cy="68.0" r="1.5" fill="#000" opacity="0.21" filter="url(#bl1)"/><circle cx="377.7" cy="67.8" r="1.56" fill="rgb(152,152,152)" fill-opacity="0.5" stroke="rgb(77,77,77)" stroke-width="0.6"/><circle cx="377.8" cy="68.6" r="1.47" fill="rgb(132,132,132)" fill-opacity="0.5" stroke="rgb(99,99,99)" stroke-width="0.6"/>
<circle cx="404.4" cy="46.8" r="3.9" fill="#000" opacity="0.25" filter="url(#bl1)"/><circle cx="401.3" cy="47.0" r="1.87" fill="rgb(124,124,124)" fill-opacity="0.5" stroke="rgb(60,60,60)" stroke-width="0.6"/><circle cx="407.6" cy="45.6" r="1.43" fill="rgb(164,164,164)" fill-opacity="0.5" stroke="rgb(55,55,55)" stroke-width="0.6"/><circle cx="401.9" cy="49.0" r="1.56" fill="rgb(126,126,126)" fill-opacity="0.5" stroke="rgb(85,85,85)" stroke-width="0.6"/><circle cx="404.8" cy="45.2" r="1.36" fill="rgb(159,159,159)" fill-opacity="0.5" stroke="rgb(86,86,86)" stroke-width="0.6"/><circle cx="405.1" cy="48.3" r="1.36" fill="rgb(137,137,137)" fill-opacity="0.5" stroke="rgb(73,73,73)" stroke-width="0.6"/><circle cx="405.6" cy="48.0" r="1.65" fill="rgb(120,120,120)" fill-opacity="0.5" stroke="rgb(88,88,88)" stroke-width="0.6"/><circle cx="401.6" cy="45.7" r="1.03" fill="rgb(123,123,123)" fill-opacity="0.5" stroke="rgb(86,86,86)" stroke-width="0.6"/><circle cx="402.3" cy="45.3" r="1.56" fill="rgb(139,139,139)" fill-opacity="0.5" stroke="rgb(65,65,65)" stroke-width="0.6"/><circle cx="402.4" cy="45.7" r="1.59" fill="rgb(139,139,139)" fill-opacity="0.5" stroke="rgb(70,70,70)" stroke-width="0.6"/><circle cx="407.1" cy="47.2" r="1.44" fill="rgb(156,156,156)" fill-opacity="0.5" stroke="rgb(62,62,62)" stroke-width="0.6"/>
<circle cx="414.6" cy="46.8" r="4.2" fill="#000" opacity="0.34" filter="url(#bl1)"/><circle cx="415.1" cy="44.3" r="1.16" fill="rgb(104,104,104)" fill-opacity="0.5" stroke="rgb(52,52,52)" stroke-width="0.6"/><circle cx="416.3" cy="48.6" r="1.08" fill="rgb(124,124,124)" fill-opacity="0.5" stroke="rgb(51,51,51)" stroke-width="0.6"/><circle cx="417.5" cy="47.6" r="1.07" fill="rgb(137,137,137)" fill-opacity="0.5" stroke="rgb(63,63,63)" stroke-width="0.6"/><circle cx="413.7" cy="46.8" r="1.45" fill="rgb(146,146,146)" fill-opacity="0.5" stroke="rgb(49,49,49)" stroke-width="0.6"/><circle cx="416.9" cy="49.4" r="1.90" fill="rgb(139,139,139)" fill-opacity="0.5" stroke="rgb(63,63,63)" stroke-width="0.6"/><circle cx="415.9" cy="50.3" r="1.44" fill="rgb(144,144,144)" fill-opacity="0.5" stroke="rgb(72,72,72)" stroke-width="0.6"/><circle cx="416.3" cy="49.7" r="1.84" fill="rgb(116,116,116)" fill-opacity="0.5" stroke="rgb(36,36,36)" stroke-width="0.6"/><circle cx="414.7" cy="45.3" r="1.81" fill="rgb(139,139,139)" fill-opacity="0.5" stroke="rgb(44,44,44)" stroke-width="0.6"/><circle cx="416.2" cy="48.9" r="1.83" fill="rgb(112,112,112)" fill-opacity="0.5" stroke="rgb(42,42,42)" stroke-width="0.6"/><circle cx="412.5" cy="46.7" r="1.03" fill="rgb(107,107,107)" fill-opacity="0.5" stroke="rgb(41,41,41)" stroke-width="0.6"/><circle cx="417.4" cy="45.6" r="1.81" fill="rgb(138,138,138)" fill-opacity="0.5" stroke="rgb(40,40,40)" stroke-width="0.6"/>
<circle cx="426.3" cy="52.7" r="2.8" fill="#000" opacity="0.34" filter="url(#bl1)"/><circle cx="427.6" cy="53.9" r="1.57" fill="rgb(142,142,142)" fill-opacity="0.5" stroke="rgb(48,48,48)" stroke-width="0.6"/><circle cx="424.5" cy="52.0" r="1.79" fill="rgb(148,148,148)" fill-opacity="0.5" stroke="rgb(38,38,38)" stroke-width="0.6"/><circle cx="425.2" cy="51.5" r="1.72" fill="rgb(148,148,148)" fill-opacity="0.5" stroke="rgb(44,44,44)" stroke-width="0.6"/><circle cx="425.0" cy="52.0" r="1.69" fill="rgb(107,107,107)" fill-opacity="0.5" stroke="rgb(51,51,51)" stroke-width="0.6"/><circle cx="426.3" cy="52.1" r="1.74" fill="rgb(130,130,130)" fill-opacity="0.5" stroke="rgb(44,44,44)" stroke-width="0.6"/>
<circle cx="417.5" cy="65.8" r="3.3" fill="#000" opacity="0.25" filter="url(#bl1)"/><circle cx="419.8" cy="65.6" r="1.60" fill="rgb(118,118,118)" fill-opacity="0.5" stroke="rgb(65,65,65)" stroke-width="0.6"/><circle cx="418.7" cy="66.0" r="1.55" fill="rgb(143,143,143)" fill-opacity="0.5" stroke="rgb(70,70,70)" stroke-width="0.6"/><circle cx="418.4" cy="65.1" r="1.20" fill="rgb(119,119,119)" fill-opacity="0.5" stroke="rgb(79,79,79)" stroke-width="0.6"/><circle cx="419.3" cy="65.8" r="1.10" fill="rgb(129,129,129)" fill-opacity="0.5" stroke="rgb(67,67,67)" stroke-width="0.6"/><circle cx="415.6" cy="64.6" r="1.18" fill="rgb(141,141,141)" fill-opacity="0.5" stroke="rgb(77,77,77)" stroke-width="0.6"/><circle cx="419.4" cy="68.0" r="1.22" fill="rgb(122,122,122)" fill-opacity="0.5" stroke="rgb(58,58,58)" stroke-width="0.6"/><circle cx="415.7" cy="63.7" r="1.70" fill="rgb(131,131,131)" fill-opacity="0.5" stroke="rgb(69,69,69)" stroke-width="0.6"/>
<circle cx="430.7" cy="75.3" r="3.9" fill="#000" opacity="0.42" filter="url(#bl1)"/><circle cx="433.5" cy="75.5" r="1.51" fill="rgb(112,112,112)" fill-opacity="0.5" stroke="rgb(29,29,29)" stroke-width="0.6"/><circle cx="427.5" cy="76.4" r="1.66" fill="rgb(125,125,125)" fill-opacity="0.5" stroke="rgb(24,24,24)" stroke-width="0.6"/><circle cx="433.1" cy="76.0" r="1.37" fill="rgb(82,82,82)" fill-opacity="0.5" stroke="rgb(24,24,24)" stroke-width="0.6"/><circle cx="430.7" cy="74.9" r="1.50" fill="rgb(87,87,87)" fill-opacity="0.5" stroke="rgb(52,52,52)" stroke-width="0.6"/><circle cx="431.5" cy="77.9" r="1.46" fill="rgb(120,120,120)" fill-opacity="0.5" stroke="rgb(40,40,40)" stroke-width="0.6"/><circle cx="431.6" cy="77.0" r="1.27" fill="rgb(124,124,124)" fill-opacity="0.5" stroke="rgb(16,16,16)" stroke-width="0.6"/><circle cx="431.3" cy="72.4" r="1.01" fill="rgb(117,117,117)" fill-opacity="0.5" stroke="rgb(48,48,48)" stroke-width="0.6"/><circle cx="427.8" cy="75.9" r="1.41" fill="rgb(85,85,85)" fill-opacity="0.5" stroke="rgb(24,24,24)" stroke-width="0.6"/><circle cx="430.7" cy="76.0" r="1.30" fill="rgb(114,114,114)" fill-opacity="0.5" stroke="rgb(44,44,44)" stroke-width="0.6"/><circle cx="432.3" cy="72.9" r="1.24" fill="rgb(101,101,101)" fill-opacity="0.5" stroke="rgb(37,37,37)" stroke-width="0.6"/>
<circle cx="423.4" cy="78.9" r="3.3" fill="#000" opacity="0.25" filter="url(#bl1)"/><circle cx="423.9" cy="76.8" r="1.24" fill="rgb(166,166,166)" fill-opacity="0.5" stroke="rgb(78,78,78)" stroke-width="0.6"/><circle cx="423.9" cy="81.7" r="1.01" fill="rgb(129,129,129)" fill-opacity="0.5" stroke="rgb(63,63,63)" stroke-width="0.6"/><circle cx="423.3" cy="76.0" r="1.67" fill="rgb(162,162,162)" fill-opacity="0.5" stroke="rgb(66,66,66)" stroke-width="0.6"/><circle cx="422.7" cy="80.2" r="1.82" fill="rgb(152,152,152)" fill-opacity="0.5" stroke="rgb(78,78,78)" stroke-width="0.6"/><circle cx="421.9" cy="76.4" r="1.42" fill="rgb(152,152,152)" fill-opacity="0.5" stroke="rgb(86,86,86)" stroke-width="0.6"/><circle cx="424.6" cy="77.4" r="1.65" fill="rgb(133,133,133)" fill-opacity="0.5" stroke="rgb(75,75,75)" stroke-width="0.6"/><circle cx="423.9" cy="81.2" r="1.07" fill="rgb(125,125,125)" fill-opacity="0.5" stroke="rgb(89,89,89)" stroke-width="0.6"/>
<circle cx="408.0" cy="83.3" r="2.4" fill="#000" opacity="0.34" filter="url(#bl1)"/><circle cx="408.7" cy="83.4" r="1.84" fill="rgb(106,106,106)" fill-opacity="0.5" stroke="rgb(47,47,47)" stroke-width="0.6"/><circle cx="408.5" cy="83.4" r="1.62" fill="rgb(133,133,133)" fill-opacity="0.5" stroke="rgb(59,59,59)" stroke-width="0.6"/><circle cx="408.0" cy="82.8" r="1.53" fill="rgb(139,139,139)" fill-opacity="0.5" stroke="rgb(48,48,48)" stroke-width="0.6"/>
<circle cx="413.9" cy="93.5" r="4.6" fill="#000" opacity="0.29" filter="url(#bl1)"/><circle cx="415.5" cy="90.0" r="1.06" fill="rgb(154,154,154)" fill-opacity="0.5" stroke="rgb(78,78,78)" stroke-width="0.6"/><circle cx="415.1" cy="93.1" r="1.19" fill="rgb(110,110,110)" fill-opacity="0.5" stroke="rgb(47,47,47)" stroke-width="0.6"/><circle cx="416.0" cy="90.5" r="1.57" fill="rgb(140,140,140)" fill-opacity="0.5" stroke="rgb(76,76,76)" stroke-width="0.6"/><circle cx="413.6" cy="94.8" r="1.09" fill="rgb(118,118,118)" fill-opacity="0.5" stroke="rgb(73,73,73)" stroke-width="0.6"/><circle cx="412.8" cy="96.0" r="1.02" fill="rgb(122,122,122)" fill-opacity="0.5" stroke="rgb(53,53,53)" stroke-width="0.6"/><circle cx="413.4" cy="91.1" r="1.29" fill="rgb(133,133,133)" fill-opacity="0.5" stroke="rgb(82,82,82)" stroke-width="0.6"/><circle cx="415.8" cy="90.9" r="1.03" fill="rgb(130,130,130)" fill-opacity="0.5" stroke="rgb(60,60,60)" stroke-width="0.6"/><circle cx="414.2" cy="91.1" r="1.63" fill="rgb(119,119,119)" fill-opacity="0.5" stroke="rgb(65,65,65)" stroke-width="0.6"/><circle cx="414.7" cy="92.6" r="1.74" fill="rgb(108,108,108)" fill-opacity="0.5" stroke="rgb(50,50,50)" stroke-width="0.6"/><circle cx="414.9" cy="96.9" r="1.88" fill="rgb(133,133,133)" fill-opacity="0.5" stroke="rgb(43,43,43)" stroke-width="0.6"/><circle cx="410.2" cy="93.7" r="1.17" fill="rgb(125,125,125)" fill-opacity="0.5" stroke="rgb(63,63,63)" stroke-width="0.6"/><circle cx="414.9" cy="91.7" r="1.85" fill="rgb(119,119,119)" fill-opacity="0.5" stroke="rgb(54,54,54)" stroke-width="0.6"/><circle cx="413.0" cy="90.8" r="1.10" fill="rgb(112,112,112)" fill-opacity="0.5" stroke="rgb(68,68,68)" stroke-width="0.6"/><circle cx="414.7" cy="90.2" r="1.71" fill="rgb(126,126,126)" fill-opacity="0.5" stroke="rgb(68,68,68)" stroke-width="0.6"/>
<circle cx="397.1" cy="92.1" r="2.6" fill="#000" opacity="0.25" filter="url(#bl1)"/><circle cx="395.9" cy="92.9" r="1.80" fill="rgb(162,162,162)" fill-opacity="0.5" stroke="rgb(56,56,56)" stroke-width="0.6"/><circle cx="398.2" cy="92.2" r="1.24" fill="rgb(143,143,143)" fill-opacity="0.5" stroke="rgb(89,89,89)" stroke-width="0.6"/><circle cx="395.5" cy="93.6" r="1.21" fill="rgb(144,144,144)" fill-opacity="0.5" stroke="rgb(71,71,71)" stroke-width="0.6"/><circle cx="397.2" cy="90.0" r="1.58" fill="rgb(134,134,134)" fill-opacity="0.5" stroke="rgb(66,66,66)" stroke-width="0.6"/>
<circle cx="402.2" cy="92.1" r="1.9" fill="#000" opacity="0.25" filter="url(#bl1)"/><circle cx="403.1" cy="93.4" r="1.60" fill="rgb(126,126,126)" fill-opacity="0.5" stroke="rgb(82,82,82)" stroke-width="0.6"/><circle cx="400.8" cy="92.6" r="1.52" fill="rgb(141,141,141)" fill-opacity="0.5" stroke="rgb(58,58,58)" stroke-width="0.6"/>
<circle cx="387.6" cy="100.1" r="2.4" fill="#000" opacity="0.36" filter="url(#bl1)"/><circle cx="388.4" cy="99.4" r="1.17" fill="rgb(129,129,129)" fill-opacity="0.5" stroke="rgb(41,41,41)" stroke-width="0.6"/><circle cx="388.1" cy="99.4" r="1.14" fill="rgb(110,110,110)" fill-opacity="0.5" stroke="rgb(39,39,39)" stroke-width="0.6"/><circle cx="386.8" cy="100.0" r="1.30" fill="rgb(143,143,143)" fill-opacity="0.5" stroke="rgb(36,36,36)" stroke-width="0.6"/>
<circle cx="433.6" cy="97.9" r="6.1" fill="#000" opacity="0.38" filter="url(#bl1)"/><circle cx="433.4" cy="96.2" r="1.87" fill="rgb(108,108,108)" fill-opacity="0.5" stroke="rgb(28,28,28)" stroke-width="0.6"/><circle cx="438.4" cy="97.4" r="1.66" fill="rgb(99,99,99)" fill-opacity="0.5" stroke="rgb(41,41,41)" stroke-width="0.6"/><circle cx="432.4" cy="96.6" r="1.19" fill="rgb(91,91,91)" fill-opacity="0.5" stroke="rgb(40,40,40)" stroke-width="0.6"/><circle cx="429.7" cy="100.8" r="1.62" fill="rgb(121,121,121)" fill-opacity="0.5" stroke="rgb(44,44,44)" stroke-width="0.6"/><circle cx="431.6" cy="98.4" r="1.54" fill="rgb(126,126,126)" fill-opacity="0.5" stroke="rgb(40,40,40)" stroke-width="0.6"/><circle cx="436.6" cy="96.0" r="1.52" fill="rgb(110,110,110)" fill-opacity="0.5" stroke="rgb(54,54,54)" stroke-width="0.6"/><circle cx="434.2" cy="102.5" r="1.79" fill="rgb(124,124,124)" fill-opacity="0.5" stroke="rgb(55,55,55)" stroke-width="0.6"/><circle cx="436.3" cy="94.3" r="1.58" fill="rgb(105,105,105)" fill-opacity="0.5" stroke="rgb(42,42,42)" stroke-width="0.6"/><circle cx="432.4" cy="96.7" r="1.38" fill="rgb(125,125,125)" fill-opacity="0.5" stroke="rgb(55,55,55)" stroke-width="0.6"/><circle cx="431.7" cy="95.9" r="1.38" fill="rgb(120,120,120)" fill-opacity="0.5" stroke="rgb(42,42,42)" stroke-width="0.6"/><circle cx="429.8" cy="100.3" r="1.84" fill="rgb(122,122,122)" fill-opacity="0.5" stroke="rgb(31,31,31)" stroke-width="0.6"/><circle cx="434.2" cy="94.6" r="1.44" fill="rgb(91,91,91)" fill-opacity="0.5" stroke="rgb(63,63,63)" stroke-width="0.6"/><circle cx="431.5" cy="97.3" r="1.70" fill="rgb(115,115,115)" fill-opacity="0.5" stroke="rgb(62,62,62)" stroke-width="0.6"/><circle cx="436.9" cy="100.4" r="1.49" fill="rgb(115,115,115)" fill-opacity="0.5" stroke="rgb(53,53,53)" stroke-width="0.6"/><circle cx="430.4" cy="94.1" r="1.47" fill="rgb(136,136,136)" fill-opacity="0.5" stroke="rgb(40,40,40)" stroke-width="0.6"/><circle cx="434.7" cy="102.3" r="1.35" fill="rgb(95,95,95)" fill-opacity="0.5" stroke="rgb(55,55,55)" stroke-width="0.6"/><circle cx="436.8" cy="97.6" r="1.05" fill="rgb(109,109,109)" fill-opacity="0.5" stroke="rgb(35,35,35)" stroke-width="0.6"/><circle cx="437.1" cy="98.2" r="1.38" fill="rgb(107,107,107)" fill-opacity="0.5" stroke="rgb(52,52,52)" stroke-width="0.6"/><circle cx="433.3" cy="100.5" r="1.67" fill="rgb(115,115,115)" fill-opacity="0.5" stroke="rgb(62,62,62)" stroke-width="0.6"/><circle cx="434.5" cy="102.7" r="1.35" fill="rgb(95,95,95)" fill-opacity="0.5" stroke="rgb(32,32,32)" stroke-width="0.6"/><circle cx="434.4" cy="93.1" r="1.57" fill="rgb(117,117,117)" fill-opacity="0.5" stroke="rgb(43,43,43)" stroke-width="0.6"/><circle cx="434.4" cy="103.2" r="1.32" fill="rgb(130,130,130)" fill-opacity="0.5" stroke="rgb(50,50,50)" stroke-width="0.6"/><circle cx="435.1" cy="94.5" r="1.26" fill="rgb(95,95,95)" fill-opacity="0.5" stroke="rgb(46,46,46)" stroke-width="0.6"/><circle cx="435.2" cy="95.1" r="1.77" fill="rgb(108,108,108)" fill-opacity="0.5" stroke="rgb(35,35,35)" stroke-width="0.6"/><circle cx="433.5" cy="101.5" r="1.17" fill="rgb(125,125,125)" fill-opacity="0.5" stroke="rgb(24,24,24)" stroke-width="0.6"/>
<circle cx="400.0" cy="102.3" r="3.3" fill="#000" opacity="0.21" filter="url(#bl1)"/><circle cx="399.7" cy="103.7" r="1.27" fill="rgb(148,148,148)" fill-opacity="0.5" stroke="rgb(81,81,81)" stroke-width="0.6"/><circle cx="398.4" cy="100.5" r="1.33" fill="rgb(170,170,170)" fill-opacity="0.5" stroke="rgb(99,99,99)" stroke-width="0.6"/><circle cx="402.6" cy="103.2" r="1.82" fill="rgb(134,134,134)" fill-opacity="0.5" stroke="rgb(93,93,93)" stroke-width="0.6"/><circle cx="401.2" cy="100.2" r="1.01" fill="rgb(175,175,175)" fill-opacity="0.5" stroke="rgb(62,62,62)" stroke-width="0.6"/><circle cx="399.2" cy="101.1" r="1.09" fill="rgb(139,139,139)" fill-opacity="0.5" stroke="rgb(68,68,68)" stroke-width="0.6"/><circle cx="400.3" cy="100.6" r="1.14" fill="rgb(167,167,167)" fill-opacity="0.5" stroke="rgb(98,98,98)" stroke-width="0.6"/><circle cx="401.4" cy="104.7" r="1.55" fill="rgb(160,160,160)" fill-opacity="0.5" stroke="rgb(93,93,93)" stroke-width="0.6"/>
<circle cx="375.9" cy="102.0" r="0.99" fill="rgb(154,154,154)" stroke="rgb(90,90,90)" stroke-width="0.6"/>
<circle cx="352.6" cy="86.2" r="0.74" fill="rgb(143,143,143)" stroke="rgb(80,80,80)" stroke-width="0.6"/>
<circle cx="432.1" cy="35.9" r="1.9" fill="#000" opacity="0.29" filter="url(#bl1)"/><circle cx="433.3" cy="34.9" r="1.75" fill="rgb(143,143,143)" fill-opacity="0.5" stroke="rgb(51,51,51)" stroke-width="0.6"/><circle cx="430.7" cy="35.6" r="1.39" fill="rgb(136,136,136)" fill-opacity="0.5" stroke="rgb(78,78,78)" stroke-width="0.6"/>
<circle cx="430.7" cy="46.1" r="2.6" fill="#000" opacity="0.17" filter="url(#bl1)"/><circle cx="430.6" cy="47.2" r="1.13" fill="rgb(139,139,139)" fill-opacity="0.5" stroke="rgb(91,91,91)" stroke-width="0.6"/><circle cx="429.8" cy="46.3" r="1.44" fill="rgb(163,163,163)" fill-opacity="0.5" stroke="rgb(91,91,91)" stroke-width="0.6"/><circle cx="430.8" cy="45.9" r="1.76" fill="rgb(165,165,165)" fill-opacity="0.5" stroke="rgb(90,90,90)" stroke-width="0.6"/><circle cx="429.6" cy="44.2" r="1.34" fill="rgb(185,185,185)" fill-opacity="0.5" stroke="rgb(88,88,88)" stroke-width="0.6"/>
<circle cx="381.0" cy="33.7" r="1.7" fill="#000" opacity="0.21" filter="url(#bl1)"/><circle cx="382.1" cy="34.2" r="1.57" fill="rgb(157,157,157)" fill-opacity="0.5" stroke="rgb(63,63,63)" stroke-width="0.6"/><circle cx="380.4" cy="32.4" r="1.30" fill="rgb(153,153,153)" fill-opacity="0.5" stroke="rgb(101,101,101)" stroke-width="0.6"/>
<circle cx="388.3" cy="30.0" r="1.7" fill="#000" opacity="0.21" filter="url(#bl1)"/><circle cx="386.9" cy="30.2" r="1.03" fill="rgb(158,158,158)" fill-opacity="0.5" stroke="rgb(91,91,91)" stroke-width="0.6"/><circle cx="387.6" cy="31.2" r="1.33" fill="rgb(153,153,153)" fill-opacity="0.5" stroke="rgb(81,81,81)" stroke-width="0.6"/>
<circle cx="400.0" cy="30.8" r="3.3" fill="#000" opacity="0.13" filter="url(#bl1)"/><circle cx="400.2" cy="29.4" r="1.39" fill="rgb(174,174,174)" fill-opacity="0.5" stroke="rgb(98,98,98)" stroke-width="0.6"/><circle cx="400.8" cy="29.3" r="1.74" fill="rgb(171,171,171)" fill-opacity="0.5" stroke="rgb(97,97,97)" stroke-width="0.6"/><circle cx="399.7" cy="32.9" r="1.88" fill="rgb(186,186,186)" fill-opacity="0.5" stroke="rgb(107,107,107)" stroke-width="0.6"/><circle cx="399.2" cy="32.2" r="1.27" fill="rgb(178,178,178)" fill-opacity="0.5" stroke="rgb(104,104,104)" stroke-width="0.6"/><circle cx="400.1" cy="30.2" r="1.65" fill="rgb(173,173,173)" fill-opacity="0.5" stroke="rgb(116,116,116)" stroke-width="0.6"/><circle cx="401.6" cy="31.3" r="1.01" fill="rgb(192,192,192)" fill-opacity="0.5" stroke="rgb(89,89,89)" stroke-width="0.6"/><circle cx="398.1" cy="29.2" r="1.71" fill="rgb(177,177,177)" fill-opacity="0.5" stroke="rgb(117,117,117)" stroke-width="0.6"/>
<circle cx="416.1" cy="30.8" r="3.9" fill="#000" opacity="0.13" filter="url(#bl1)"/><circle cx="414.0" cy="28.9" r="1.63" fill="rgb(180,180,180)" fill-opacity="0.5" stroke="rgb(105,105,105)" stroke-width="0.6"/><circle cx="416.7" cy="33.5" r="1.41" fill="rgb(151,151,151)" fill-opacity="0.5" stroke="rgb(112,112,112)" stroke-width="0.6"/><circle cx="416.4" cy="31.4" r="1.70" fill="rgb(179,179,179)" fill-opacity="0.5" stroke="rgb(118,118,118)" stroke-width="0.6"/><circle cx="413.9" cy="33.1" r="1.71" fill="rgb(159,159,159)" fill-opacity="0.5" stroke="rgb(103,103,103)" stroke-width="0.6"/><circle cx="415.3" cy="32.9" r="1.29" fill="rgb(178,178,178)" fill-opacity="0.5" stroke="rgb(98,98,98)" stroke-width="0.6"/><circle cx="416.8" cy="30.4" r="1.51" fill="rgb(152,152,152)" fill-opacity="0.5" stroke="rgb(83,83,83)" stroke-width="0.6"/><circle cx="417.0" cy="28.3" r="1.83" fill="rgb(147,147,147)" fill-opacity="0.5" stroke="rgb(99,99,99)" stroke-width="0.6"/><circle cx="414.0" cy="32.5" r="1.84" fill="rgb(170,170,170)" fill-opacity="0.5" stroke="rgb(120,120,120)" stroke-width="0.6"/><circle cx="415.1" cy="31.3" r="1.58" fill="rgb(154,154,154)" fill-opacity="0.5" stroke="rgb(89,89,89)" stroke-width="0.6"/><circle cx="416.3" cy="30.8" r="1.62" fill="rgb(194,194,194)" fill-opacity="0.5" stroke="rgb(86,86,86)" stroke-width="0.6"/>
<circle cx="439.4" cy="84.8" r="1.24" fill="rgb(110,110,110)" stroke="rgb(50,50,50)" stroke-width="0.6"/>
<circle cx="407.3" cy="60.0" r="1.7" fill="#000" opacity="0.17" filter="url(#bl1)"/><circle cx="408.5" cy="60.7" r="1.12" fill="rgb(172,172,172)" fill-opacity="0.5" stroke="rgb(72,72,72)" stroke-width="0.6"/><circle cx="407.4" cy="61.2" r="1.17" fill="rgb(175,175,175)" fill-opacity="0.5" stroke="rgb(74,74,74)" stroke-width="0.6"/>
<circle cx="360.6" cy="81.9" r="0.99" fill="rgb(165,165,165)" stroke="rgb(100,100,100)" stroke-width="0.6"/>
<circle cx="421.9" cy="41.0" r="1.9" fill="#000" opacity="0.17" filter="url(#bl1)"/><circle cx="421.5" cy="39.4" r="1.66" fill="rgb(168,168,168)" fill-opacity="0.5" stroke="rgb(75,75,75)" stroke-width="0.6"/><circle cx="421.6" cy="39.8" r="1.84" fill="rgb(185,185,185)" fill-opacity="0.5" stroke="rgb(82,82,82)" stroke-width="0.6"/>
<circle cx="389.8" cy="52.7" r="2.2" fill="#000" opacity="0.19" filter="url(#bl1)"/><circle cx="389.8" cy="52.4" r="1.01" fill="rgb(173,173,173)" fill-opacity="0.5" stroke="rgb(93,93,93)" stroke-width="0.6"/><circle cx="390.8" cy="53.2" r="1.66" fill="rgb(175,175,175)" fill-opacity="0.5" stroke="rgb(73,73,73)" stroke-width="0.6"/><circle cx="389.3" cy="52.7" r="1.33" fill="rgb(154,154,154)" fill-opacity="0.5" stroke="rgb(90,90,90)" stroke-width="0.6"/>
<circle cx="437.2" cy="71.6" r="2.2" fill="#000" opacity="0.21" filter="url(#bl1)"/><circle cx="436.9" cy="71.0" r="1.72" fill="rgb(159,159,159)" fill-opacity="0.5" stroke="rgb(77,77,77)" stroke-width="0.6"/><circle cx="436.4" cy="70.7" r="1.35" fill="rgb(174,174,174)" fill-opacity="0.5" stroke="rgb(93,93,93)" stroke-width="0.6"/><circle cx="437.6" cy="70.2" r="1.26" fill="rgb(176,176,176)" fill-opacity="0.5" stroke="rgb(64,64,64)" stroke-width="0.6"/>
</g>
<line x1="355.2" y1="98.5" x2="365" y2="98.5" stroke="#333" stroke-width="0.7"/>
<rect x="350" y="111.2" width="91" height="79.7" fill="url(#cbg2)" stroke="#000" stroke-width="1.1"/>
<g clip-path="url(#cC2)">
<rect x="350" y="111" width="92" height="82" fill="#000" filter="url(#gray)" opacity="0.04"/>
<circle cx="440" cy="112" r="3" fill="#222" filter="url(#bl1)"/>
<circle cx="364.2" cy="116.5" r="0.87" fill="rgb(121,121,121)" stroke="rgb(60,60,60)" stroke-width="0.6"/>
<circle cx="397.1" cy="116.5" r="0.99" fill="rgb(121,121,121)" stroke="rgb(60,60,60)" stroke-width="0.6"/>
<circle cx="407.3" cy="118.4" r="1.24" fill="rgb(154,154,154)" stroke="rgb(90,90,90)" stroke-width="0.6"/>
<circle cx="422.2" cy="116.9" r="2.1" fill="#000" opacity="0.40" filter="url(#bl1)"/><circle cx="421.7" cy="115.3" r="1.30" fill="rgb(133,133,133)" fill-opacity="0.5" stroke="rgb(43,43,43)" stroke-width="0.6"/><circle cx="422.9" cy="115.7" r="1.28" fill="rgb(129,129,129)" fill-opacity="0.5" stroke="rgb(36,36,36)" stroke-width="0.6"/>
<circle cx="431.8" cy="115.2" r="1.24" fill="rgb(132,132,132)" stroke="rgb(70,70,70)" stroke-width="0.6"/>
<circle cx="356.9" cy="123.5" r="2.4" fill="#000" opacity="0.25" filter="url(#bl1)"/><circle cx="355.7" cy="124.7" r="1.54" fill="rgb(158,158,158)" fill-opacity="0.5" stroke="rgb(88,88,88)" stroke-width="0.6"/><circle cx="356.9" cy="123.6" r="1.24" fill="rgb(147,147,147)" fill-opacity="0.5" stroke="rgb(69,69,69)" stroke-width="0.6"/><circle cx="357.7" cy="121.7" r="1.04" fill="rgb(158,158,158)" fill-opacity="0.5" stroke="rgb(86,86,86)" stroke-width="0.6"/>
<circle cx="360.6" cy="125.0" r="1.7" fill="#000" opacity="0.29" filter="url(#bl1)"/><circle cx="361.4" cy="124.1" r="1.25" fill="rgb(148,148,148)" fill-opacity="0.5" stroke="rgb(77,77,77)" stroke-width="0.6"/><circle cx="360.0" cy="123.7" r="1.31" fill="rgb(136,136,136)" fill-opacity="0.5" stroke="rgb(46,46,46)" stroke-width="0.6"/>
<circle cx="365.7" cy="129.1" r="1.7" fill="#000" opacity="0.13" filter="url(#bl1)"/><circle cx="365.9" cy="128.4" r="1.68" fill="rgb(158,158,158)" fill-opacity="0.5" stroke="rgb(118,118,118)" stroke-width="0.6"/><circle cx="364.7" cy="128.3" r="1.42" fill="rgb(159,159,159)" fill-opacity="0.5" stroke="rgb(89,89,89)" stroke-width="0.6"/>
<circle cx="379.9" cy="125.0" r="0.74" fill="rgb(132,132,132)" stroke="rgb(70,70,70)" stroke-width="0.6"/>
<circle cx="389.1" cy="126.1" r="1.24" fill="rgb(143,143,143)" stroke="rgb(80,80,80)" stroke-width="0.6"/>
<circle cx="393.0" cy="127.9" r="0.87" fill="rgb(143,143,143)" stroke="rgb(80,80,80)" stroke-width="0.6"/>
<circle cx="402.5" cy="126.9" r="2.9" fill="#000" opacity="0.42" filter="url(#bl1)"/><circle cx="402.5" cy="124.6" r="1.41" fill="rgb(120,120,120)" fill-opacity="0.5" stroke="rgb(18,18,18)" stroke-width="0.6"/><circle cx="402.7" cy="125.6" r="1.52" fill="rgb(124,124,124)" fill-opacity="0.5" stroke="rgb(50,50,50)" stroke-width="0.6"/><circle cx="400.7" cy="126.6" r="1.53" fill="rgb(89,89,89)" fill-opacity="0.5" stroke="rgb(22,22,22)" stroke-width="0.6"/><circle cx="403.4" cy="128.9" r="1.33" fill="rgb(100,100,100)" fill-opacity="0.5" stroke="rgb(37,37,37)" stroke-width="0.6"/><circle cx="401.5" cy="126.8" r="1.04" fill="rgb(98,98,98)" fill-opacity="0.5" stroke="rgb(54,54,54)" stroke-width="0.6"/>
<circle cx="413.6" cy="125.4" r="2.5" fill="#000" opacity="0.42" filter="url(#bl1)"/><circle cx="415.0" cy="126.5" r="1.71" fill="rgb(109,109,109)" fill-opacity="0.5" stroke="rgb(21,21,21)" stroke-width="0.6"/><circle cx="412.7" cy="126.7" r="1.02" fill="rgb(129,129,129)" fill-opacity="0.5" stroke="rgb(16,16,16)" stroke-width="0.6"/><circle cx="414.6" cy="124.3" r="1.51" fill="rgb(118,118,118)" fill-opacity="0.5" stroke="rgb(25,25,25)" stroke-width="0.6"/><circle cx="411.6" cy="126.4" r="1.69" fill="rgb(128,128,128)" fill-opacity="0.5" stroke="rgb(47,47,47)" stroke-width="0.6"/>
<circle cx="417.5" cy="130.8" r="1.8" fill="#000" opacity="0.29" filter="url(#bl1)"/><circle cx="417.5" cy="131.1" r="1.18" fill="rgb(112,112,112)" fill-opacity="0.5" stroke="rgb(50,50,50)" stroke-width="0.6"/><circle cx="418.7" cy="131.2" r="1.78" fill="rgb(155,155,155)" fill-opacity="0.5" stroke="rgb(61,61,61)" stroke-width="0.6"/>
<circle cx="428.0" cy="128.3" r="1.8" fill="#000" opacity="0.42" filter="url(#bl1)"/><circle cx="428.4" cy="128.1" r="1.54" fill="rgb(85,85,85)" fill-opacity="0.5" stroke="rgb(30,30,30)" stroke-width="0.6"/><circle cx="428.8" cy="128.1" r="1.51" fill="rgb(127,127,127)" fill-opacity="0.5" stroke="rgb(40,40,40)" stroke-width="0.6"/>
<circle cx="389.1" cy="133.7" r="1.8" fill="#000" opacity="0.34" filter="url(#bl1)"/><circle cx="388.6" cy="132.9" r="1.40" fill="rgb(147,147,147)" fill-opacity="0.5" stroke="rgb(40,40,40)" stroke-width="0.6"/><circle cx="389.8" cy="133.7" r="1.03" fill="rgb(116,116,116)" fill-opacity="0.5" stroke="rgb(44,44,44)" stroke-width="0.6"/>
<circle cx="354.8" cy="135.9" r="2.8" fill="#000" opacity="0.29" filter="url(#bl1)"/><circle cx="356.7" cy="134.6" r="1.75" fill="rgb(147,147,147)" fill-opacity="0.5" stroke="rgb(45,45,45)" stroke-width="0.6"/><circle cx="354.3" cy="134.0" r="1.89" fill="rgb(115,115,115)" fill-opacity="0.5" stroke="rgb(45,45,45)" stroke-width="0.6"/><circle cx="354.8" cy="133.5" r="1.61" fill="rgb(138,138,138)" fill-opacity="0.5" stroke="rgb(55,55,55)" stroke-width="0.6"/><circle cx="354.8" cy="135.1" r="1.29" fill="rgb(114,114,114)" fill-opacity="0.5" stroke="rgb(53,53,53)" stroke-width="0.6"/><circle cx="353.7" cy="136.0" r="1.21" fill="rgb(142,142,142)" fill-opacity="0.5" stroke="rgb(49,49,49)" stroke-width="0.6"/>
<circle cx="360.6" cy="135.9" r="1.7" fill="#000" opacity="0.29" filter="url(#bl1)"/><circle cx="361.9" cy="136.0" r="1.18" fill="rgb(154,154,154)" fill-opacity="0.5" stroke="rgb(44,44,44)" stroke-width="0.6"/><circle cx="360.9" cy="137.3" r="1.78" fill="rgb(115,115,115)" fill-opacity="0.5" stroke="rgb(79,79,79)" stroke-width="0.6"/>
<circle cx="403.7" cy="138.4" r="1.24" fill="rgb(165,165,165)" stroke="rgb(100,100,100)" stroke-width="0.6"/>
<circle cx="410.2" cy="139.6" r="1.7" fill="#000" opacity="0.13" filter="url(#bl1)"/><circle cx="409.8" cy="139.7" r="1.84" fill="rgb(177,177,177)" fill-opacity="0.5" stroke="rgb(115,115,115)" stroke-width="0.6"/><circle cx="409.4" cy="139.8" r="1.74" fill="rgb(177,177,177)" fill-opacity="0.5" stroke="rgb(100,100,100)" stroke-width="0.6"/>
<circle cx="414.9" cy="140.3" r="1.8" fill="#000" opacity="0.29" filter="url(#bl1)"/><circle cx="415.4" cy="140.9" r="1.05" fill="rgb(136,136,136)" fill-opacity="0.5" stroke="rgb(72,72,72)" stroke-width="0.6"/><circle cx="415.8" cy="141.5" r="1.24" fill="rgb(116,116,116)" fill-opacity="0.5" stroke="rgb(59,59,59)" stroke-width="0.6"/>
<circle cx="364.2" cy="143.2" r="3.3" fill="#000" opacity="0.25" filter="url(#bl1)"/><circle cx="363.9" cy="145.9" r="1.30" fill="rgb(142,142,142)" fill-opacity="0.5" stroke="rgb(59,59,59)" stroke-width="0.6"/><circle cx="363.1" cy="145.8" r="1.10" fill="rgb(120,120,120)" fill-opacity="0.5" stroke="rgb(92,92,92)" stroke-width="0.6"/><circle cx="366.2" cy="141.7" r="1.19" fill="rgb(132,132,132)" fill-opacity="0.5" stroke="rgb(72,72,72)" stroke-width="0.6"/><circle cx="364.2" cy="144.6" r="1.33" fill="rgb(167,167,167)" fill-opacity="0.5" stroke="rgb(92,92,92)" stroke-width="0.6"/><circle cx="365.1" cy="142.8" r="1.26" fill="rgb(120,120,120)" fill-opacity="0.5" stroke="rgb(88,88,88)" stroke-width="0.6"/><circle cx="364.0" cy="141.6" r="1.88" fill="rgb(158,158,158)" fill-opacity="0.5" stroke="rgb(53,53,53)" stroke-width="0.6"/><circle cx="363.6" cy="144.2" r="1.00" fill="rgb(144,144,144)" fill-opacity="0.5" stroke="rgb(86,86,86)" stroke-width="0.6"/>
<circle cx="402.6" cy="144.2" r="2.2" fill="#000" opacity="0.42" filter="url(#bl1)"/><circle cx="403.2" cy="145.5" r="1.82" fill="rgb(108,108,108)" fill-opacity="0.5" stroke="rgb(23,23,23)" stroke-width="0.6"/><circle cx="403.2" cy="144.9" r="1.69" fill="rgb(89,89,89)" fill-opacity="0.5" stroke="rgb(43,43,43)" stroke-width="0.6"/><circle cx="403.2" cy="144.5" r="1.55" fill="rgb(93,93,93)" fill-opacity="0.5" stroke="rgb(34,34,34)" stroke-width="0.6"/>
<circle cx="426.6" cy="144.0" r="2.8" fill="#000" opacity="0.42" filter="url(#bl1)"/><circle cx="427.1" cy="145.8" r="1.64" fill="rgb(109,109,109)" fill-opacity="0.5" stroke="rgb(47,47,47)" stroke-width="0.6"/><circle cx="426.8" cy="144.6" r="1.66" fill="rgb(116,116,116)" fill-opacity="0.5" stroke="rgb(31,31,31)" stroke-width="0.6"/><circle cx="428.7" cy="144.7" r="1.30" fill="rgb(123,123,123)" fill-opacity="0.5" stroke="rgb(48,48,48)" stroke-width="0.6"/><circle cx="426.3" cy="144.0" r="1.82" fill="rgb(123,123,123)" fill-opacity="0.5" stroke="rgb(34,34,34)" stroke-width="0.6"/><circle cx="426.5" cy="145.0" r="1.75" fill="rgb(88,88,88)" fill-opacity="0.5" stroke="rgb(29,29,29)" stroke-width="0.6"/>
<circle cx="415.3" cy="151.3" r="1.24" fill="rgb(143,143,143)" stroke="rgb(80,80,80)" stroke-width="0.6"/>
<circle cx="416.8" cy="156.8" r="1.9" fill="#000" opacity="0.42" filter="url(#bl1)"/><circle cx="415.9" cy="157.8" r="1.00" fill="rgb(102,102,102)" fill-opacity="0.5" stroke="rgb(35,35,35)" stroke-width="0.6"/><circle cx="416.2" cy="156.7" r="1.64" fill="rgb(123,123,123)" fill-opacity="0.5" stroke="rgb(47,47,47)" stroke-width="0.6"/>
<circle cx="377.4" cy="157.4" r="0.99" fill="rgb(132,132,132)" stroke="rgb(70,70,70)" stroke-width="0.6"/>
<circle cx="389.1" cy="148.3" r="0.74" fill="rgb(165,165,165)" stroke="rgb(100,100,100)" stroke-width="0.6"/>
<circle cx="406.3" cy="169.5" r="2.5" fill="#000" opacity="0.34" filter="url(#bl1)"/><circle cx="405.5" cy="171.2" r="1.34" fill="rgb(102,102,102)" fill-opacity="0.5" stroke="rgb(64,64,64)" stroke-width="0.6"/><circle cx="407.8" cy="167.9" r="1.45" fill="rgb(125,125,125)" fill-opacity="0.5" stroke="rgb(54,54,54)" stroke-width="0.6"/><circle cx="406.0" cy="169.4" r="1.87" fill="rgb(108,108,108)" fill-opacity="0.5" stroke="rgb(42,42,42)" stroke-width="0.6"/><circle cx="407.2" cy="170.2" r="1.74" fill="rgb(103,103,103)" fill-opacity="0.5" stroke="rgb(35,35,35)" stroke-width="0.6"/>
<circle cx="405.1" cy="174.3" r="2.4" fill="#000" opacity="0.25" filter="url(#bl1)"/><circle cx="404.8" cy="173.4" r="1.02" fill="rgb(146,146,146)" fill-opacity="0.5" stroke="rgb(76,76,76)" stroke-width="0.6"/><circle cx="403.4" cy="174.1" r="1.09" fill="rgb(153,153,153)" fill-opacity="0.5" stroke="rgb(87,87,87)" stroke-width="0.6"/><circle cx="405.8" cy="174.5" r="1.44" fill="rgb(131,131,131)" fill-opacity="0.5" stroke="rgb(73,73,73)" stroke-width="0.6"/>
<circle cx="429.5" cy="169.1" r="2.5" fill="#000" opacity="0.42" filter="url(#bl1)"/><circle cx="430.5" cy="170.1" r="1.12" fill="rgb(123,123,123)" fill-opacity="0.5" stroke="rgb(38,38,38)" stroke-width="0.6"/><circle cx="430.5" cy="170.4" r="1.67" fill="rgb(121,121,121)" fill-opacity="0.5" stroke="rgb(21,21,21)" stroke-width="0.6"/><circle cx="430.8" cy="168.5" r="1.38" fill="rgb(106,106,106)" fill-opacity="0.5" stroke="rgb(48,48,48)" stroke-width="0.6"/><circle cx="427.8" cy="170.4" r="1.70" fill="rgb(92,92,92)" fill-opacity="0.5" stroke="rgb(28,28,28)" stroke-width="0.6"/>
<circle cx="422.4" cy="174.9" r="4.2" fill="#000" opacity="0.42" filter="url(#bl1)"/><circle cx="421.1" cy="177.0" r="1.88" fill="rgb(125,125,125)" fill-opacity="0.5" stroke="rgb(47,47,47)" stroke-width="0.6"/><circle cx="423.7" cy="171.8" r="1.05" fill="rgb(127,127,127)" fill-opacity="0.5" stroke="rgb(35,35,35)" stroke-width="0.6"/><circle cx="424.1" cy="174.2" r="1.38" fill="rgb(98,98,98)" fill-opacity="0.5" stroke="rgb(40,40,40)" stroke-width="0.6"/><circle cx="421.4" cy="174.7" r="1.39" fill="rgb(81,81,81)" fill-opacity="0.5" stroke="rgb(35,35,35)" stroke-width="0.6"/><circle cx="424.7" cy="177.7" r="1.70" fill="rgb(111,111,111)" fill-opacity="0.5" stroke="rgb(52,52,52)" stroke-width="0.6"/><circle cx="423.6" cy="171.6" r="1.80" fill="rgb(112,112,112)" fill-opacity="0.5" stroke="rgb(16,16,16)" stroke-width="0.6"/><circle cx="422.0" cy="178.0" r="1.25" fill="rgb(126,126,126)" fill-opacity="0.5" stroke="rgb(36,36,36)" stroke-width="0.6"/><circle cx="421.0" cy="173.6" r="1.47" fill="rgb(127,127,127)" fill-opacity="0.5" stroke="rgb(32,32,32)" stroke-width="0.6"/><circle cx="421.9" cy="176.9" r="1.58" fill="rgb(109,109,109)" fill-opacity="0.5" stroke="rgb(19,19,19)" stroke-width="0.6"/><circle cx="424.9" cy="174.2" r="1.24" fill="rgb(106,106,106)" fill-opacity="0.5" stroke="rgb(33,33,33)" stroke-width="0.6"/><circle cx="423.1" cy="176.0" r="1.12" fill="rgb(100,100,100)" fill-opacity="0.5" stroke="rgb(26,26,26)" stroke-width="0.6"/>
<circle cx="437.2" cy="176.4" r="1.7" fill="#000" opacity="0.29" filter="url(#bl1)"/><circle cx="437.1" cy="177.1" r="1.08" fill="rgb(150,150,150)" fill-opacity="0.5" stroke="rgb(65,65,65)" stroke-width="0.6"/><circle cx="436.4" cy="175.6" r="1.59" fill="rgb(144,144,144)" fill-opacity="0.5" stroke="rgb(51,51,51)" stroke-width="0.6"/>
<circle cx="421.2" cy="166.6" r="1.9" fill="#000" opacity="0.13" filter="url(#bl1)"/><circle cx="419.9" cy="166.9" r="1.55" fill="rgb(162,162,162)" fill-opacity="0.5" stroke="rgb(100,100,100)" stroke-width="0.6"/><circle cx="421.2" cy="167.4" r="1.46" fill="rgb(175,175,175)" fill-opacity="0.5" stroke="rgb(96,96,96)" stroke-width="0.6"/>
<circle cx="395.9" cy="186.0" r="2.5" fill="#000" opacity="0.29" filter="url(#bl1)"/><circle cx="397.2" cy="186.1" r="1.78" fill="rgb(136,136,136)" fill-opacity="0.5" stroke="rgb(53,53,53)" stroke-width="0.6"/><circle cx="394.7" cy="186.1" r="1.89" fill="rgb(147,147,147)" fill-opacity="0.5" stroke="rgb(55,55,55)" stroke-width="0.6"/><circle cx="396.2" cy="186.5" r="1.78" fill="rgb(111,111,111)" fill-opacity="0.5" stroke="rgb(61,61,61)" stroke-width="0.6"/><circle cx="394.8" cy="187.0" r="1.66" fill="rgb(119,119,119)" fill-opacity="0.5" stroke="rgb(47,47,47)" stroke-width="0.6"/>
<circle cx="435.1" cy="188.5" r="2.1" fill="#000" opacity="0.34" filter="url(#bl1)"/><circle cx="436.6" cy="188.1" r="1.14" fill="rgb(116,116,116)" fill-opacity="0.5" stroke="rgb(47,47,47)" stroke-width="0.6"/><circle cx="434.4" cy="187.2" r="1.76" fill="rgb(124,124,124)" fill-opacity="0.5" stroke="rgb(66,66,66)" stroke-width="0.6"/>
<circle cx="363.5" cy="189.2" r="0.99" fill="rgb(143,143,143)" stroke="rgb(80,80,80)" stroke-width="0.6"/>
<circle cx="439.0" cy="172.4" r="0.99" fill="rgb(132,132,132)" stroke="rgb(70,70,70)" stroke-width="0.6"/>
<circle cx="424.8" cy="179.7" r="0.87" fill="rgb(121,121,121)" stroke="rgb(60,60,60)" stroke-width="0.6"/>
<circle cx="382.5" cy="171.7" r="1.24" fill="rgb(192,192,192)" stroke="rgb(125,125,125)" stroke-width="0.6"/>
<circle cx="389.8" cy="175.3" r="0.99" fill="rgb(187,187,187)" stroke="rgb(120,120,120)" stroke-width="0.6"/>
<circle cx="351.8" cy="163.7" r="0.99" fill="rgb(165,165,165)" stroke="rgb(100,100,100)" stroke-width="0.6"/>
<circle cx="435.1" cy="161.5" r="0.99" fill="rgb(187,187,187)" stroke="rgb(120,120,120)" stroke-width="0.6"/>
</g>
<line x1="356" y1="182.3" x2="365.3" y2="182.3" stroke="#222" stroke-width="0.7"/>
<rect x="277.5" y="247.3" width="97.4" height="93.5" fill="#000"/>
<g clip-path="url(#cH1)">
<clipPath id="t1c"><path d="M271.0 256.1 C274.0 241.2 283.6 255.5 289.2 254.6 C294.7 253.7 299.7 251.2 304.4 250.8 C309.0 250.5 313.6 251.0 317.3 252.3 C320.9 253.7 323.7 256.5 326.4 259.2 C329.0 261.8 331.7 265.3 333.2 268.3 C334.7 271.3 335.4 274.2 335.5 277.4 C335.6 280.6 334.8 284.7 334.0 287.3 C333.1 289.8 329.8 292.2 330.5 292.9 C331.1 293.6 335.3 290.9 337.8 291.4 C340.2 291.8 343.5 293.4 345.4 295.6 C347.3 297.8 348.9 301.9 349.1 304.7 C349.4 307.5 348.3 310.0 346.9 312.3 C345.5 314.6 342.7 316.1 340.8 318.4 C338.9 320.7 336.0 323.6 335.5 326.0 C335.0 328.4 336.6 329.8 337.8 332.8 C338.9 335.8 353.4 342.3 342.3 344.2 C331.2 346.1 282.9 358.9 271.0 344.2 C259.1 329.5 267.9 271.1 271.0 256.1Z"/><path d="M356.0 244.0 C351.8 246.5 354.5 254.9 354.9 259.2 C355.3 263.5 356.6 266.3 358.3 269.8 C360.0 273.4 362.9 277.8 365.1 280.4 C367.2 283.1 368.6 284.2 371.2 285.7 C373.7 287.3 378.8 296.5 380.3 289.5 C381.8 282.6 384.3 251.6 380.3 244.0 C376.2 236.4 360.2 241.5 356.0 244.0Z"/><path d="M334.0 336.6 C335.1 334.5 338.1 333.1 340.8 332.8 C343.5 332.5 346.9 334.5 349.9 334.8 C352.9 335.1 355.5 334.2 359.0 334.8 C362.6 335.4 368.4 336.6 371.2 338.4 C373.9 340.3 381.9 344.5 375.7 345.7 C369.5 346.9 340.9 347.2 334.0 345.7 C327.0 344.2 332.8 338.8 334.0 336.6Z"/></clipPath>
<g clip-path="url(#t1c)">
<rect x="277" y="247" width="99" height="95" fill="#052c05"/>
<rect x="277" y="247" width="99" height="95" fill="#fff" filter="url(#gtex)" opacity="0.5"/>
<path d="M272.4 278.3l-5.3 -12.4M273.7 277.9l-3.2 -11.8M275.1 277.5l-2.9 -14.0M276.8 277.3l-1.3 -10.0M278.4 277.0l-1.3 -12.3M280.1 276.8l-1.4 -11.8M281.6 276.6l-2.0 -12.9M283.0 276.4l-2.5 -12.1M284.6 275.9l-4.9 -11.0M285.7 275.0l-9.3 -6.6M286.1 273.6l-12.5 -1.3M286.6 272.2l-8.9 -7.6M288.0 271.3l-5.3 -11.6M289.8 270.7l-3.0 -11.0M291.3 270.3l-3.6 -14.3M293.0 269.9l-3.3 -14.3M294.8 269.6l-2.5 -12.3M296.7 269.2l-2.6 -13.3M298.6 268.8l-2.4 -12.2M300.4 268.5l-2.5 -11.7M302.1 268.1l-2.4 -11.4M303.7 267.7l-3.4 -12.3M305.0 267.3l-3.6 -11.4M306.3 266.9l-4.9 -13.3M307.5 266.4l-4.8 -11.0M309.2 265.6l-5.0 -10.5M310.8 264.9l-4.7 -9.7M312.2 264.3l-5.0 -13.3M313.5 263.9l-3.0 -13.9M315.1 263.8l2.4 -14.7M316.4 264.3l5.5 -9.3M317.4 265.1l9.0 -8.7M318.3 266.3l10.9 -7.4M319.0 267.4l12.9 -7.7M319.8 268.9l11.4 -4.5M320.1 270.1l12.9 -2.4M320.3 271.4l14.1 -1.4M320.5 272.7l10.9 -1.9M320.9 274.1l10.0 -5.5M322.1 275.1l4.5 -14.2M323.5 275.3l1.9 -10.4M324.8 275.8l5.5 -9.2M325.6 276.9l12.3 -3.5M325.9 278.7l13.7 -1.2M325.9 280.4l13.7 0.2M325.9 282.3l11.6 0.7M325.7 284.2l10.7 1.4M325.4 286.0l11.5 2.2M325.0 287.6l10.1 3.0M324.5 288.9l13.4 6.0M323.7 290.3l9.2 6.4M322.7 291.6l10.4 9.7M321.6 292.7l8.8 10.8M320.2 293.7l8.0 12.5M318.8 294.5l4.0 10.6M317.5 294.8l2.3 11.1M316.0 295.1l2.0 12.2M314.5 295.3l1.4 10.7M313.1 295.5l2.6 14.5M311.7 295.9l3.2 10.1M310.4 296.4l5.6 10.3M309.4 297.2l9.3 10.3M308.4 298.2l8.3 7.0M307.5 299.3l8.2 6.2M306.6 300.5l8.6 6.5M305.5 301.7l8.0 8.1M304.4 302.4l3.9 11.8M303.0 302.4l-3.1 10.6M301.7 301.8l-6.4 9.8M300.4 300.8l-9.0 11.4M299.3 300.0l-7.0 10.3M298.0 299.2l-6.2 9.5M296.9 298.4l-7.1 9.6M295.8 297.6l-6.6 8.6M294.7 296.8l-7.9 9.6M293.7 295.9l-9.1 10.5M292.7 294.8l-10.0 8.1M291.7 293.6l-8.3 6.8M290.6 292.5l-7.6 8.6M289.5 291.7l-6.1 11.2M288.1 291.1l-4.1 10.8M286.8 290.7l-3.2 10.9M285.4 290.3l-2.6 11.4M283.9 290.0l-2.2 13.8M282.5 289.8l-1.6 10.4M281.0 289.6l-1.2 13.2M279.6 289.5l0.3 12.2M278.1 289.7l2.3 11.0M276.5 290.1l3.1 12.5M274.9 290.5l3.6 14.1M273.5 290.8l1.3 10.0M271.8 290.8l-2.7 10.7M270.7 290.0l-8.7 5.7M270.2 288.7l-10.3 3.5M269.7 287.0l-13.4 2.2M269.6 285.7l-13.4 0.9M269.5 284.3l-13.9 -0.1M269.6 283.0l-10.1 -1.0M269.9 281.1l-10.0 -3.2M270.6 279.6l-11.5 -7.8" fill="none" stroke="#30f430" stroke-width="0.5" opacity="0.9"/>
<path d="M271.5 254.1l6.6 2.1M272.1 252.5l5.8 2.7M272.7 251.3l4.7 3.5M274.3 249.7l3.3 5.6M276.1 249.3l0.1 7.1M278.1 249.7l-2.3 6.1M280.2 250.6l-3.0 5.8M282.3 251.9l-2.7 4.5M284.4 253.1l-3.3 6.0M286.4 254.2l-2.2 6.2M288.3 254.7l-0.7 6.3M290.0 254.5l1.1 5.9M291.6 254.1l1.2 5.9M293.2 253.7l1.7 6.5M294.8 253.3l1.9 6.5M296.3 252.8l1.7 6.0M297.9 252.3l1.7 5.3M299.3 251.9l2.0 7.1M300.8 251.5l1.5 5.5M302.2 251.1l1.4 6.4M303.7 250.9l0.6 5.4M305.1 250.8l0.1 5.6M306.5 250.7l0.2 5.7M307.8 250.7l-0.2 5.5M309.2 250.8l-0.5 5.9M310.5 250.9l-0.3 5.4M311.8 251.0l-0.6 5.6M313.1 251.2l-1.4 6.5M314.4 251.5l-1.6 6.2M316.1 252.0l-1.4 5.1M317.8 252.6l-2.4 6.3M319.4 253.3l-3.0 4.9M320.8 254.3l-2.9 4.5M322.2 255.3l-3.9 4.7M323.5 256.4l-4.7 5.3M324.8 257.6l-4.8 5.3M326.0 258.8l-4.4 4.4M327.2 260.0l-4.5 4.2M328.4 261.3l-4.5 3.9M329.5 262.7l-4.1 3.4M330.6 264.1l-5.7 4.5M331.6 265.5l-6.3 4.2M332.5 266.9l-5.0 2.9M333.2 268.3l-4.8 2.3M333.8 269.6l-5.6 2.2M334.3 271.0l-5.1 1.6M334.8 272.3l-7.0 2.0M335.1 273.7l-7.1 1.4M335.3 275.1l-5.8 0.8M335.4 276.5l-6.3 0.4M335.5 277.9l-6.7 0.3M335.5 279.4l-5.7 -0.4M335.3 281.0l-6.7 -0.9M335.1 282.6l-5.5 -0.9M334.8 284.1l-7.3 -1.4M334.5 285.6l-7.2 -1.8M334.1 286.9l-7.1 -2.0M333.4 288.4l-5.9 -3.3M332.7 289.5l-6.1 -4.5M331.9 290.5l-4.7 -3.7M331.0 291.6l-4.3 -3.2M330.4 292.8l-6.3 2.0M331.9 292.8l1.9 5.8M333.4 292.2l2.3 6.1M334.8 291.8l1.5 5.5M336.1 291.4l1.0 6.7M337.4 291.3l-0.6 5.9M338.9 291.6l-1.7 5.7M340.1 292.1l-2.1 5.2M341.4 292.6l-2.9 5.6M342.6 293.3l-3.5 5.3M343.7 294.1l-4.5 5.9M344.7 295.0l-5.2 5.3M345.6 296.0l-5.7 4.5M346.5 297.2l-5.5 3.5M347.2 298.5l-5.8 2.8M347.9 300.0l-6.8 2.6M348.4 301.5l-6.1 2.0M348.8 302.9l-5.7 1.5M349.1 304.3l-6.0 0.9M349.2 305.6l-7.4 0.2M349.0 307.2l-7.4 -1.2M348.6 308.7l-5.6 -1.9M348.0 310.2l-6.8 -3.1M347.3 311.6l-5.9 -3.4M346.4 313.0l-4.2 -3.5M345.3 314.2l-4.4 -4.9M344.4 315.1l-4.9 -5.8M343.4 315.9l-3.7 -4.2M342.4 316.8l-4.7 -5.2M341.4 317.7l-3.8 -4.0M340.5 318.7l-5.1 -4.2M339.6 319.8l-4.8 -3.9M338.6 321.0l-4.9 -4.1M337.6 322.1l-6.2 -4.7M336.8 323.3l-4.7 -3.0M336.0 324.5l-6.6 -3.5M335.5 326.0l-7.0 -1.6M335.4 327.3l-6.5 0.9M335.7 328.5l-5.6 2.3M336.3 329.8l-4.9 2.4M337.0 331.2l-6.6 3.1M337.6 332.4l-5.3 2.1M338.5 333.8l-4.9 4.5M339.7 335.0l-3.3 4.0M341.4 336.3l-3.3 4.4M343.1 337.6l-3.5 4.3M344.6 338.9l-4.2 4.3M345.9 340.2l-4.7 3.5M346.5 341.5l-7.2 1.2M345.7 343.1l-3.7 -5.2M343.8 343.9l-1.8 -6.8M342.3 344.2l-1.3 -5.9M340.4 344.6l-1.2 -7.2M337.9 345.1l-1.1 -5.8M335.0 345.7l-1.3 -6.4M331.8 346.3l-1.4 -6.7M328.1 347.1l-1.3 -5.7M324.2 347.8l-1.2 -6.5M320.1 348.5l-1.1 -5.9M315.8 349.2l-0.6 -5.2M311.4 349.9l-0.8 -6.4M306.9 350.4l-0.8 -5.7M302.4 350.8l-0.3 -6.0M298.0 351.1l-0.4 -7.3M293.7 351.2l-0.2 -6.8M289.5 351.0l0.7 -6.7M285.6 350.7l0.9 -6.9M281.9 350.0l1.2 -5.1M278.5 349.1l1.8 -5.8M275.6 347.8l2.5 -4.9M273.0 346.2l3.5 -4.7M271.0 344.2l5.4 -4.2M269.3 341.7l5.2 -2.4M268.0 338.6l6.1 -2.1M266.9 334.9l7.1 -1.9M266.1 330.8l5.7 -0.7M265.5 326.3l7.0 -0.8M265.1 321.5l6.2 -0.3M265.0 316.4l6.3 -0.2M265.0 311.2l5.3 -0.2M265.1 305.7l6.7 0.3M265.4 300.3l6.6 0.4M265.8 294.8l5.5 0.4M266.2 289.4l7.4 0.8M266.8 284.1l6.9 0.6M267.4 279.0l5.4 0.8M268.0 274.1l5.6 0.7M268.7 269.6l6.5 1.0M269.3 265.5l6.8 1.0M269.9 261.8l6.8 1.3M270.5 258.7l7.1 1.2" fill="none" stroke="#2cf02c" stroke-width="0.5" opacity="0.85"/>
<path d="M354.9 244.9l7.4 5.8M354.2 246.1l7.1 3.1M353.8 247.6l6.8 1.2M353.7 249.2l8.9 0.1M353.7 250.9l9.7 -0.6M353.9 252.7l6.7 -1.1M354.2 254.5l6.8 -1.1M354.5 256.2l7.4 -1.3M354.7 257.8l7.0 -1.0M354.9 259.2l9.4 -1.2M355.1 260.4l9.0 -1.0M355.4 262.2l8.2 -1.8M355.8 263.8l8.9 -2.7M356.3 265.3l8.8 -3.2M356.9 266.8l6.5 -2.8M357.5 268.3l8.4 -3.9M358.3 269.8l7.4 -3.3M359.1 271.5l7.5 -4.3M359.7 272.6l6.5 -3.9M360.4 273.7l6.4 -3.8M361.1 274.9l6.7 -4.3M361.9 276.0l6.9 -4.6M362.6 277.1l7.7 -5.3M363.4 278.2l7.5 -5.5M364.4 279.6l6.8 -5.2M365.4 280.8l6.9 -5.7M366.3 281.9l6.5 -5.9M367.4 283.0l6.5 -6.8M368.5 284.0l5.7 -7.2M369.8 284.9l5.4 -8.4M371.2 285.7l4.1 -6.2M372.4 286.9l6.8 -6.5M373.4 288.0l5.1 -4.6M374.5 289.2l5.2 -4.5M375.6 290.3l6.6 -6.1M376.6 291.3l4.1 -5.2M378.1 292.1l1.4 -8.8M379.4 291.7l-5.5 -5.3M380.0 290.5l-6.2 -2.3M380.5 288.3l-9.6 -1.6M380.7 286.8l-7.1 -1.2M381.0 285.0l-9.0 -1.0M381.2 282.9l-8.5 -1.0M381.5 280.6l-8.1 -0.9M381.7 278.1l-7.2 -0.4M381.9 275.4l-9.1 -0.8M382.1 272.7l-7.8 -0.7M382.2 269.9l-8.4 -0.4M382.4 267.0l-8.1 -0.2M382.4 264.1l-8.8 -0.1M382.5 261.3l-8.7 0.2M382.4 258.5l-9.1 0.1M382.3 255.9l-7.8 0.3M382.2 253.3l-8.0 0.4M382.0 251.0l-10.1 1.2M381.7 248.8l-9.7 1.6M381.3 246.9l-7.8 1.7M380.8 245.3l-6.5 2.5M380.3 244.0l-8.7 4.6M379.6 243.0l-6.0 4.9M377.7 241.4l-3.7 6.4M376.6 240.8l-3.2 8.5M375.4 240.4l-1.9 8.2M374.0 240.2l-1.2 8.6M372.6 240.0l-0.6 9.0M371.2 240.0l0.2 8.6M369.7 240.1l0.6 8.6M368.2 240.2l1.0 8.8M366.7 240.4l1.5 8.1M365.2 240.7l1.6 7.9M363.7 241.1l2.4 9.4M362.3 241.4l2.5 7.9M361.0 241.9l2.4 6.9M359.7 242.3l3.2 8.4M357.6 243.2l3.7 8.6" fill="none" stroke="#2cf02c" stroke-width="0.5" opacity="0.9"/>
<path d="M332.5 301.6L324.1 292.6M332.9 301.4L326.2 290.9M333.4 301.2L328.6 289.5M334.0 301.0L331.1 288.6M334.5 301.0L333.8 288.2M335.1 301.0L336.5 288.3M335.7 301.1L339.2 288.9M336.2 301.2L341.7 289.9M336.7 301.4L344.0 291.4M337.1 301.7L346.0 293.3M337.5 302.0L347.6 295.4M337.7 302.4L348.8 297.9M337.9 302.8L349.5 300.5M337.9 303.2L349.7 303.2M337.9 303.6L349.5 305.9M337.7 304.0L348.8 308.5M337.5 304.4L347.6 311.0M337.1 304.7L346.0 313.2M336.7 305.0L344.0 315.0M336.2 305.2L341.7 316.5M335.7 305.3L339.2 317.5M335.1 305.4L336.5 318.1M334.5 305.4L333.8 318.2M334.0 305.4L331.1 317.8M333.4 305.3L328.6 316.9M332.9 305.1L326.2 315.6" stroke="#2cf02c" stroke-width="0.5" opacity="0.85" fill="none"/>
</g>
<path d="M271.0 256.1 C274.0 241.2 283.6 255.5 289.2 254.6 C294.7 253.7 299.7 251.2 304.4 250.8 C309.0 250.5 313.6 251.0 317.3 252.3 C320.9 253.7 323.7 256.5 326.4 259.2 C329.0 261.8 331.7 265.3 333.2 268.3 C334.7 271.3 335.4 274.2 335.5 277.4 C335.6 280.6 334.8 284.7 334.0 287.3 C333.1 289.8 329.8 292.2 330.5 292.9 C331.1 293.6 335.3 290.9 337.8 291.4 C340.2 291.8 343.5 293.4 345.4 295.6 C347.3 297.8 348.9 301.9 349.1 304.7 C349.4 307.5 348.3 310.0 346.9 312.3 C345.5 314.6 342.7 316.1 340.8 318.4 C338.9 320.7 336.0 323.6 335.5 326.0 C335.0 328.4 336.6 329.8 337.8 332.8 C338.9 335.8 353.4 342.3 342.3 344.2 C331.2 346.1 282.9 358.9 271.0 344.2 C259.1 329.5 267.9 271.1 271.0 256.1Z" fill="none" stroke="#18c818" stroke-width="0.8"/>
<path d="M356.0 244.0 C351.8 246.5 354.5 254.9 354.9 259.2 C355.3 263.5 356.6 266.3 358.3 269.8 C360.0 273.4 362.9 277.8 365.1 280.4 C367.2 283.1 368.6 284.2 371.2 285.7 C373.7 287.3 378.8 296.5 380.3 289.5 C381.8 282.6 384.3 251.6 380.3 244.0 C376.2 236.4 360.2 241.5 356.0 244.0Z" fill="none" stroke="#18c818" stroke-width="0.8"/>
<path d="M365.1 247.3 C364.8 248.8 363.3 253.5 363.6 256.1 C363.8 258.8 365.3 261.5 366.6 263.0 C367.9 264.5 369.4 265.4 371.2 265.3 C372.9 265.1 376.2 262.7 377.2 262.2" fill="none" stroke="#25e825" stroke-width="1.5"/>
<path d="M366.6 260.7 C367.0 261.3 367.1 263.2 368.9 264.5 C370.7 265.8 375.8 267.7 377.2 268.3" fill="none" stroke="#25e825" stroke-width="1.1"/>
<path d="M271.0 279.2 C273.2 276.8 281.8 277.2 284.6 275.9 C287.5 274.6 284.7 272.7 288.0 271.3 C291.3 269.9 299.9 268.8 304.4 267.5 C308.8 266.3 312.2 263.6 314.7 263.7 C317.2 263.9 318.5 266.5 319.5 268.3 C320.6 270.1 320.1 272.9 321.1 274.4 C322.1 275.8 325.0 274.7 325.6 276.9 C326.2 279.2 325.9 285.2 324.9 288.0 C323.8 290.9 321.9 292.7 319.5 294.1 C317.1 295.5 313.0 295.0 310.4 296.4 C307.9 297.8 306.3 301.9 304.4 302.4 C302.5 303.0 300.8 301.0 299.0 299.9 C297.3 298.8 295.4 297.3 293.7 295.9 C292.1 294.5 291.5 292.6 289.2 291.5 C286.9 290.5 283.1 289.7 280.1 289.5 C277.0 289.3 272.5 292.0 271.0 290.3 C269.4 288.6 268.7 281.6 271.0 279.2Z" fill="none" stroke="#20d020" stroke-width="3.4" opacity="0.4" filter="url(#bl06)"/>
<path d="M271.0 279.2 C273.2 276.8 281.8 277.2 284.6 275.9 C287.5 274.6 284.7 272.7 288.0 271.3 C291.3 269.9 299.9 268.8 304.4 267.5 C308.8 266.3 312.2 263.6 314.7 263.7 C317.2 263.9 318.5 266.5 319.5 268.3 C320.6 270.1 320.1 272.9 321.1 274.4 C322.1 275.8 325.0 274.7 325.6 276.9 C326.2 279.2 325.9 285.2 324.9 288.0 C323.8 290.9 321.9 292.7 319.5 294.1 C317.1 295.5 313.0 295.0 310.4 296.4 C307.9 297.8 306.3 301.9 304.4 302.4 C302.5 303.0 300.8 301.0 299.0 299.9 C297.3 298.8 295.4 297.3 293.7 295.9 C292.1 294.5 291.5 292.6 289.2 291.5 C286.9 290.5 283.1 289.7 280.1 289.5 C277.0 289.3 272.5 292.0 271.0 290.3 C269.4 288.6 268.7 281.6 271.0 279.2Z" fill="#010301" stroke="#1cf01c" stroke-width="1.6" stroke-linejoin="round"/>
<ellipse cx="334.7" cy="303.2" rx="3.6" ry="1.9" transform="rotate(-32 334.7 303.2)" fill="#020" stroke="#22ee22" stroke-width="1.1"/>
<ellipse cx="320.3" cy="326.0" rx="9.3" ry="2.6" transform="rotate(-50 320.3 326.0)" fill="#010" stroke="#22ee22" stroke-width="1.2"/>
<path d="M271.0 319.1 C272.2 317.8 276.3 319.8 278.6 320.7 C280.8 321.6 282.1 322.6 284.6 324.5 C287.2 326.4 292.5 330.2 293.7 332.1 C295.0 333.9 293.5 335.6 292.2 335.8 C291.0 336.1 288.4 334.6 286.1 333.6 C283.9 332.6 281.1 330.5 278.6 329.8 C276.0 329.0 272.2 330.8 271.0 329.0 C269.7 327.2 269.7 320.5 271.0 319.1Z" fill="#031003" stroke="#22e822" stroke-width="1.5"/>
<path d="M277.3 332.8 C278.3 332.6 281.1 331.2 283.1 331.7 C285.1 332.3 287.2 335.7 289.2 336.3 C291.2 336.9 294.2 335.3 295.3 335.1" fill="none" stroke="#22e022" stroke-width="2.2" filter="url(#bl03)"/>
<path d="M336.2 335.1 C337.0 334.8 339.0 333.3 340.8 333.6 C342.6 333.8 343.8 336.2 346.9 336.6 C349.9 337.0 355.0 335.3 359.0 335.8 C363.1 336.4 369.1 339.0 371.2 339.6" fill="none" stroke="#1fd01f" stroke-width="1.0"/>
<path d="M290.7 254.0 C293.0 253.4 299.9 250.7 304.4 250.4 C308.8 250.0 313.5 250.5 317.3 251.9 C321.0 253.3 324.1 256.2 326.7 258.7 C329.3 261.2 331.9 265.4 332.9 266.8" fill="none" stroke="#d03000" stroke-width="0.8" opacity="0.85" stroke-dasharray="1.2 0.8"/>
</g>
<line x1="348.4" y1="336.2" x2="370" y2="336.2" stroke="#fff" stroke-width="1.1"/>
<rect x="379" y="247.3" width="97.6" height="93.5" fill="#000"/>
<g clip-path="url(#cH2)">
<clipPath id="ringclip"><path d="M374.5 270.6 C376.8 263.9 383.6 265.0 388.1 263.0 C392.7 261.0 397.5 258.7 401.8 258.4 C406.1 258.2 409.9 260.1 414.0 261.5 C418.0 262.9 422.3 265.3 426.1 266.8 C429.9 268.3 432.9 269.9 436.7 270.6 C440.5 271.2 445.1 269.6 448.9 270.6 C452.7 271.6 456.7 274.0 459.5 276.6 C462.3 279.3 463.3 283.3 465.6 286.5 C467.8 289.7 471.3 292.6 473.2 295.6 C475.0 298.7 476.1 301.6 476.5 304.7 C476.9 307.9 476.8 312.0 475.4 314.6 C474.1 317.2 471.3 319.8 468.6 320.4 C465.9 320.9 462.0 319.1 459.2 317.8 C456.4 316.5 454.6 313.0 451.9 312.6 C449.2 312.2 445.8 313.6 442.8 315.4 C439.8 317.1 437.2 320.4 433.7 322.9 C430.1 325.5 425.6 328.9 421.5 330.5 C417.5 332.2 413.2 333.1 409.4 332.8 C405.6 332.6 401.8 331.4 398.8 329.0 C395.7 326.6 393.5 321.9 391.2 318.4 C388.9 314.8 387.9 310.3 385.1 307.8 C382.3 305.2 376.3 309.4 374.5 303.2 C372.7 297.0 372.2 277.3 374.5 270.6Z"/></clipPath>
<g clip-path="url(#ringclip)">
<rect x="378" y="247" width="99" height="95" fill="#063006"/>
<rect x="378" y="247" width="99" height="95" fill="#fff" filter="url(#gtex2)" opacity="0.5"/>
<path d="M401.6 275.2l-7.0 -16.4M402.9 274.7l-4.6 -13.1M404.3 274.3l-3.7 -14.4M405.8 273.9l-3.1 -15.2M407.4 273.7l-1.9 -18.6M408.9 273.6l0.1 -15.5M410.4 273.7l1.4 -13.6M412.0 273.9l2.5 -15.7M413.6 274.2l3.4 -14.6M415.3 274.7l4.1 -13.6M416.9 275.2l5.0 -13.0M418.5 275.9l5.9 -13.2M420.0 276.6l6.5 -11.5M421.5 277.6l8.6 -10.8M422.4 278.4l11.0 -12.4M423.3 279.2l10.8 -10.8M424.1 280.1l10.4 -10.0M425.0 281.0l12.5 -12.4M425.9 281.9l11.4 -11.9M426.8 282.7l12.1 -14.2M428.2 283.7l8.7 -14.5M429.6 284.4l5.7 -16.2M431.2 284.8l3.1 -15.3M432.7 285.0l1.0 -12.9M434.4 285.1l0.2 -15.5M436.0 285.1l-0.3 -15.6M437.6 285.0l-0.4 -15.5M439.2 285.0l0.3 -16.8M440.9 285.0l-0.4 -13.0M442.6 284.9l-1.5 -17.4M444.3 284.7l-1.7 -13.8M446.0 284.5l-1.2 -13.2M447.6 284.5l0.0 -16.0M449.1 284.6l3.0 -16.9M450.4 285.0l7.3 -15.1M451.5 285.7l12.1 -14.2M452.5 286.7l10.3 -8.8M453.4 288.0l11.0 -7.1M454.2 289.3l12.7 -6.5M454.7 290.6l16.8 -6.2M455.1 291.8l14.6 -3.5M455.3 293.3l18.1 0.5M455.1 294.6l13.6 3.7M454.5 295.9l13.9 7.6M453.7 297.1l12.2 9.7M452.9 298.0l12.3 12.5M451.9 299.0l10.2 12.1M450.7 299.9l9.0 13.1M449.3 300.8l7.4 12.8M448.3 301.4l7.1 12.9M447.1 302.0l7.4 14.7M446.0 302.5l7.0 13.6M444.8 303.1l6.6 13.6M443.6 303.7l7.3 16.3M442.4 304.2l5.9 12.6M441.3 304.7l7.1 16.1M440.1 305.2l6.1 15.4M438.9 305.7l5.9 16.9M437.6 306.1l4.3 13.0M436.3 306.6l5.6 16.5M435.0 307.0l5.1 16.0M433.7 307.4l5.2 15.7M432.5 307.8l5.5 16.1M431.3 308.3l5.2 13.5M430.2 308.8l6.1 13.2M428.7 309.6l9.2 15.8M427.4 310.4l8.5 11.0M426.3 311.3l10.0 11.0M425.3 312.3l11.5 11.8M424.4 313.3l9.1 9.8M423.3 314.2l9.6 11.8M422.0 315.1l9.0 15.3M420.5 315.9l9.3 16.3M419.3 316.6l6.9 12.8M418.1 317.3l7.6 13.7M416.8 317.9l7.2 14.0M415.5 318.6l6.5 14.3M414.1 319.1l5.6 13.5M412.9 319.6l4.7 13.1M411.6 320.0l4.0 15.8M409.9 320.2l0.5 18.1M408.4 320.0l-4.0 14.1M407.1 319.5l-8.7 15.0M405.9 318.6l-9.6 11.1M404.8 317.5l-9.7 9.2M403.7 316.3l-12.7 10.0M402.7 315.0l-12.8 9.7M401.8 313.8l-10.7 8.2M400.9 312.6l-12.4 8.1M400.1 311.3l-11.7 6.7M399.4 309.9l-15.7 7.9M398.7 308.5l-12.7 5.7M398.1 307.1l-12.5 5.0M397.6 305.6l-12.6 4.5M397.1 304.3l-15.1 5.1M396.6 302.9l-13.3 4.1M396.2 301.5l-13.1 3.8M395.8 300.1l-15.1 3.3M395.6 298.7l-18.1 3.0M395.4 297.3l-16.0 1.0M395.4 296.0l-17.4 -0.9M395.6 294.8l-12.6 -3.1M396.0 293.6l-13.1 -6.0M396.6 292.5l-14.3 -7.8M397.2 291.4l-14.8 -9.2M397.9 290.3l-12.4 -6.6M398.4 289.2l-11.9 -5.0M398.8 287.6l-17.4 -2.7M399.0 286.1l-15.3 -0.4M398.9 284.8l-18.4 0.9M398.9 283.6l-13.4 1.2M398.7 282.1l-16.9 0.8M398.7 280.7l-13.7 -1.1M398.9 279.3l-14.5 -0.4M398.9 278.1l-17.3 -2.1M399.3 276.8l-14.4 -9.2" fill="none" stroke="#2cf02c" stroke-width="0.5" opacity="0.85"/>
<path d="M374.5 270.6 C376.8 263.9 383.6 265.0 388.1 263.0 C392.7 261.0 397.5 258.7 401.8 258.4 C406.1 258.2 409.9 260.1 414.0 261.5 C418.0 262.9 422.3 265.3 426.1 266.8 C429.9 268.3 432.9 269.9 436.7 270.6 C440.5 271.2 445.1 269.6 448.9 270.6 C452.7 271.6 456.7 274.0 459.5 276.6 C462.3 279.3 463.3 283.3 465.6 286.5 C467.8 289.7 471.3 292.6 473.2 295.6 C475.0 298.7 476.1 301.6 476.5 304.7 C476.9 307.9 476.8 312.0 475.4 314.6 C474.1 317.2 471.3 319.8 468.6 320.4 C465.9 320.9 462.0 319.1 459.2 317.8 C456.4 316.5 454.6 313.0 451.9 312.6 C449.2 312.2 445.8 313.6 442.8 315.4 C439.8 317.1 437.2 320.4 433.7 322.9 C430.1 325.5 425.6 328.9 421.5 330.5 C417.5 332.2 413.2 333.1 409.4 332.8 C405.6 332.6 401.8 331.4 398.8 329.0 C395.7 326.6 393.5 321.9 391.2 318.4 C388.9 314.8 387.9 310.3 385.1 307.8 C382.3 305.2 376.3 309.4 374.5 303.2 C372.7 297.0 372.2 277.3 374.5 270.6Z" fill="none" stroke="#b8c010" stroke-width="3.0" opacity="0.5" filter="url(#bl06)"/>
<path d="M374.5 270.6 C376.8 263.9 383.6 265.0 388.1 263.0 C392.7 261.0 397.5 258.7 401.8 258.4 C406.1 258.2 409.9 260.1 414.0 261.5 C418.0 262.9 422.3 265.3 426.1 266.8 C429.9 268.3 432.9 269.9 436.7 270.6 C440.5 271.2 445.1 269.6 448.9 270.6 C452.7 271.6 456.7 274.0 459.5 276.6 C462.3 279.3 463.3 283.3 465.6 286.5 C467.8 289.7 471.3 292.6 473.2 295.6 C475.0 298.7 476.1 301.6 476.5 304.7 C476.9 307.9 476.8 312.0 475.4 314.6 C474.1 317.2 471.3 319.8 468.6 320.4 C465.9 320.9 462.0 319.1 459.2 317.8 C456.4 316.5 454.6 313.0 451.9 312.6 C449.2 312.2 445.8 313.6 442.8 315.4 C439.8 317.1 437.2 320.4 433.7 322.9 C430.1 325.5 425.6 328.9 421.5 330.5 C417.5 332.2 413.2 333.1 409.4 332.8 C405.6 332.6 401.8 331.4 398.8 329.0 C395.7 326.6 393.5 321.9 391.2 318.4 C388.9 314.8 387.9 310.3 385.1 307.8 C382.3 305.2 376.3 309.4 374.5 303.2 C372.7 297.0 372.2 277.3 374.5 270.6Z" fill="none" stroke="#f04008" stroke-width="1.5" opacity="0.9"/>
</g>
<path d="M374.5 270.6 C376.8 263.9 383.6 265.0 388.1 263.0 C392.7 261.0 397.5 258.7 401.8 258.4 C406.1 258.2 409.9 260.1 414.0 261.5 C418.0 262.9 422.3 265.3 426.1 266.8 C429.9 268.3 432.9 269.9 436.7 270.6 C440.5 271.2 445.1 269.6 448.9 270.6 C452.7 271.6 456.7 274.0 459.5 276.6 C462.3 279.3 463.3 283.3 465.6 286.5 C467.8 289.7 471.3 292.6 473.2 295.6 C475.0 298.7 476.1 301.6 476.5 304.7 C476.9 307.9 476.8 312.0 475.4 314.6 C474.1 317.2 471.3 319.8 468.6 320.4 C465.9 320.9 462.0 319.1 459.2 317.8 C456.4 316.5 454.6 313.0 451.9 312.6 C449.2 312.2 445.8 313.6 442.8 315.4 C439.8 317.1 437.2 320.4 433.7 322.9 C430.1 325.5 425.6 328.9 421.5 330.5 C417.5 332.2 413.2 333.1 409.4 332.8 C405.6 332.6 401.8 331.4 398.8 329.0 C395.7 326.6 393.5 321.9 391.2 318.4 C388.9 314.8 387.9 310.3 385.1 307.8 C382.3 305.2 376.3 309.4 374.5 303.2 C372.7 297.0 372.2 277.3 374.5 270.6Z" fill="none" stroke="#e83808" stroke-width="0.5" opacity="0.8"/>
<path d="M400.3 275.9 C402.1 274.7 406.1 273.5 409.4 273.6 C412.7 273.7 416.7 274.9 420.0 276.6 C423.3 278.4 425.8 282.8 429.1 284.2 C432.4 285.6 436.2 284.9 439.8 285.0 C443.3 285.1 447.8 283.7 450.4 285.0 C453.0 286.3 455.0 290.3 455.2 292.6 C455.5 294.9 454.2 296.9 451.9 299.0 C449.6 301.0 445.1 303.0 441.3 304.7 C437.5 306.4 432.4 307.5 429.1 309.3 C425.8 311.1 424.8 313.5 421.5 315.4 C418.3 317.2 412.7 320.5 409.4 320.2 C406.1 320.0 403.8 316.4 401.8 313.8 C399.8 311.3 398.3 307.8 397.3 304.7 C396.2 301.7 395.2 298.4 395.4 295.6 C395.7 292.8 398.2 290.6 398.8 288.0 C399.3 285.5 398.5 282.5 398.8 280.4 C399.0 278.4 398.5 277.0 400.3 275.9Z" fill="none" stroke="#20e020" stroke-width="3.8" opacity="0.4" filter="url(#bl06)"/>
<path d="M400.3 275.9 C402.1 274.7 406.1 273.5 409.4 273.6 C412.7 273.7 416.7 274.9 420.0 276.6 C423.3 278.4 425.8 282.8 429.1 284.2 C432.4 285.6 436.2 284.9 439.8 285.0 C443.3 285.1 447.8 283.7 450.4 285.0 C453.0 286.3 455.0 290.3 455.2 292.6 C455.5 294.9 454.2 296.9 451.9 299.0 C449.6 301.0 445.1 303.0 441.3 304.7 C437.5 306.4 432.4 307.5 429.1 309.3 C425.8 311.1 424.8 313.5 421.5 315.4 C418.3 317.2 412.7 320.5 409.4 320.2 C406.1 320.0 403.8 316.4 401.8 313.8 C399.8 311.3 398.3 307.8 397.3 304.7 C396.2 301.7 395.2 298.4 395.4 295.6 C395.7 292.8 398.2 290.6 398.8 288.0 C399.3 285.5 398.5 282.5 398.8 280.4 C399.0 278.4 398.5 277.0 400.3 275.9Z" fill="#000" stroke="#1ff51f" stroke-width="1.9" stroke-linejoin="round"/>
<circle cx="388.9" cy="271.3" r="2.4" fill="#010" stroke="#25ee25" stroke-width="1.3"/>
<circle cx="395.0" cy="287.3" r="1.9" fill="#010" stroke="#25ee25" stroke-width="1.3"/>
<circle cx="382.8" cy="298.7" r="3.3" fill="#010" stroke="#25ee25" stroke-width="1.3"/>
<circle cx="467.1" cy="321.1" r="1.0" fill="#f03000"/>
<circle cx="462.8" cy="319.3" r="0.9" fill="#f03000"/>
<circle cx="473.2" cy="316.6" r="1.0" fill="#f03000"/>
<circle cx="476.2" cy="308.5" r="0.8" fill="#f03000"/>
<circle cx="470.9" cy="319.1" r="0.9" fill="#f03000"/>
</g>
<line x1="450.2" y1="336.2" x2="472" y2="336.2" stroke="#fff" stroke-width="1.1"/>
<rect x="53.6" y="410.1" width="87.7" height="84" fill="#000"/>
<rect x="146.1" y="410.1" width="87.6" height="84.2" fill="#000"/>
<rect x="53.6" y="499.9" width="87.7" height="83.8" fill="#000"/>
<rect x="146.1" y="499.9" width="87.6" height="83.8" fill="#000"/>
<g clip-path="url(#cJ1)">
<circle cx="58.7" cy="453.7" r="0.37" fill="rgb(10,170,20)"/>
<circle cx="58.1" cy="456.9" r="0.64" fill="rgb(10,173,20)"/>
<circle cx="58.9" cy="456.3" r="0.62" fill="rgb(10,153,20)"/>
<circle cx="59.8" cy="453.6" r="0.63" fill="rgb(10,196,20)"/>
<circle cx="59.5" cy="455.9" r="0.68" fill="rgb(10,149,20)"/>
<circle cx="60.8" cy="452.2" r="0.50" fill="rgb(10,145,20)"/>
<circle cx="57.4" cy="452.1" r="0.47" fill="rgb(10,155,20)"/>
<circle cx="62.6" cy="454.4" r="0.40" fill="rgb(10,170,20)"/>
<circle cx="63.2" cy="454.4" r="0.65" fill="rgb(10,122,20)"/>
<circle cx="60.9" cy="453.5" r="0.53" fill="rgb(10,165,20)"/>
<circle cx="60.0" cy="457.8" r="0.71" fill="rgb(10,177,20)"/>
<circle cx="62.8" cy="456.0" r="0.67" fill="rgb(10,140,20)"/>
<circle cx="58.3" cy="451.6" r="0.50" fill="rgb(10,195,20)"/>
<circle cx="61.6" cy="454.5" r="0.68" fill="rgb(10,176,20)"/>
<circle cx="78.8" cy="460.4" r="0.52" fill="rgb(10,197,20)"/>
<circle cx="79.9" cy="459.7" r="0.36" fill="rgb(10,167,20)"/>
<circle cx="84.2" cy="460.0" r="0.51" fill="rgb(10,143,20)"/>
<circle cx="80.3" cy="458.9" r="0.44" fill="rgb(10,159,20)"/>
<circle cx="78.1" cy="460.7" r="0.36" fill="rgb(10,169,20)"/>
<circle cx="78.3" cy="461.3" r="0.63" fill="rgb(10,113,20)"/>
<circle cx="77.1" cy="458.6" r="0.45" fill="rgb(10,193,20)"/>
<circle cx="81.6" cy="461.0" r="0.68" fill="rgb(10,138,20)"/>
<circle cx="81.9" cy="459.5" r="0.49" fill="rgb(10,109,20)"/>
<circle cx="81.6" cy="461.7" r="0.70" fill="rgb(10,168,20)"/>
<circle cx="83.5" cy="456.5" r="0.73" fill="rgb(10,130,20)"/>
<circle cx="76.0" cy="456.9" r="0.69" fill="rgb(10,114,20)"/>
<circle cx="84.5" cy="463.9" r="0.35" fill="rgb(10,91,20)"/>
<circle cx="84.0" cy="466.4" r="0.58" fill="rgb(10,148,20)"/>
<circle cx="81.7" cy="462.4" r="0.39" fill="rgb(10,176,20)"/>
<circle cx="80.7" cy="463.4" r="0.62" fill="rgb(10,155,20)"/>
<circle cx="84.4" cy="465.8" r="0.62" fill="rgb(10,122,20)"/>
<circle cx="108.2" cy="426.0" r="0.46" fill="rgb(10,146,20)"/>
<circle cx="105.6" cy="426.6" r="0.60" fill="rgb(10,180,20)"/>
<circle cx="104.5" cy="426.5" r="0.37" fill="rgb(10,176,20)"/>
<circle cx="104.8" cy="423.1" r="0.74" fill="rgb(10,178,20)"/>
<circle cx="108.7" cy="425.9" r="0.40" fill="rgb(10,177,20)"/>
<circle cx="104.8" cy="426.1" r="0.71" fill="rgb(10,155,20)"/>
<circle cx="105.7" cy="422.3" r="0.73" fill="rgb(10,94,20)"/>
<circle cx="105.8" cy="424.9" r="0.41" fill="rgb(10,124,20)"/>
<circle cx="104.1" cy="423.7" r="0.75" fill="rgb(10,95,20)"/>
<circle cx="136.3" cy="476.2" r="0.60" fill="rgb(10,125,20)"/>
<circle cx="134.4" cy="477.4" r="0.52" fill="rgb(10,93,20)"/>
<circle cx="139.1" cy="471.2" r="0.73" fill="rgb(10,193,20)"/>
<circle cx="131.3" cy="468.5" r="0.49" fill="rgb(10,180,20)"/>
<circle cx="137.0" cy="469.8" r="0.58" fill="rgb(10,196,20)"/>
<circle cx="136.7" cy="466.9" r="0.71" fill="rgb(10,134,20)"/>
<circle cx="135.8" cy="477.3" r="0.41" fill="rgb(10,97,20)"/>
<circle cx="133.9" cy="469.3" r="0.71" fill="rgb(10,129,20)"/>
<circle cx="128.8" cy="468.6" r="0.74" fill="rgb(10,189,20)"/>
<circle cx="136.7" cy="471.2" r="0.71" fill="rgb(10,129,20)"/>
<circle cx="129.2" cy="472.7" r="0.51" fill="rgb(10,146,20)"/>
<circle cx="132.5" cy="468.4" r="0.50" fill="rgb(10,130,20)"/>
<circle cx="137.3" cy="471.1" r="0.72" fill="rgb(10,116,20)"/>
<circle cx="130.9" cy="468.8" r="0.60" fill="rgb(10,142,20)"/>
<circle cx="134.7" cy="468.4" r="0.46" fill="rgb(10,109,20)"/>
<circle cx="129.1" cy="470.7" r="0.62" fill="rgb(10,198,20)"/>
<circle cx="134.1" cy="468.6" r="0.64" fill="rgb(10,136,20)"/>
<circle cx="129.6" cy="475.3" r="0.60" fill="rgb(10,198,20)"/>
<circle cx="133.8" cy="477.4" r="0.56" fill="rgb(10,95,20)"/>
<circle cx="133.0" cy="468.6" r="0.73" fill="rgb(10,167,20)"/>
<circle cx="133.8" cy="475.0" r="0.70" fill="rgb(10,98,20)"/>
<circle cx="138.1" cy="474.7" r="0.52" fill="rgb(10,196,20)"/>
<circle cx="137.2" cy="461.2" r="0.42" fill="rgb(10,129,20)"/>
<circle cx="138.0" cy="464.2" r="0.63" fill="rgb(10,185,20)"/>
<circle cx="137.2" cy="460.3" r="0.65" fill="rgb(10,191,20)"/>
<circle cx="135.9" cy="463.5" r="0.48" fill="rgb(10,193,20)"/>
<circle cx="138.5" cy="460.3" r="0.56" fill="rgb(10,108,20)"/>
<circle cx="134.6" cy="461.8" r="0.40" fill="rgb(10,126,20)"/>
<circle cx="122.3" cy="436.3" r="0.38" fill="rgb(10,142,20)"/>
<circle cx="126.1" cy="435.5" r="0.58" fill="rgb(10,120,20)"/>
<circle cx="120.3" cy="437.2" r="0.66" fill="rgb(10,125,20)"/>
<circle cx="121.2" cy="431.9" r="0.41" fill="rgb(10,106,20)"/>
<circle cx="121.2" cy="432.2" r="0.40" fill="rgb(10,154,20)"/>
<circle cx="128.4" cy="444.3" r="0.72" fill="rgb(10,195,20)"/>
<circle cx="127.4" cy="444.9" r="0.63" fill="rgb(10,172,20)"/>
<circle cx="127.9" cy="441.7" r="0.63" fill="rgb(10,125,20)"/>
<circle cx="128.8" cy="441.7" r="0.46" fill="rgb(10,155,20)"/>
<circle cx="75.7" cy="447.2" r="0.49" fill="rgb(10,102,20)"/>
<circle cx="71.6" cy="443.6" r="0.49" fill="rgb(10,100,20)"/>
<circle cx="74.9" cy="444.2" r="0.73" fill="rgb(10,197,20)"/>
<circle cx="75.8" cy="448.0" r="0.41" fill="rgb(10,187,20)"/>
<circle cx="110.2" cy="464.0" r="0.59" fill="rgb(10,147,20)"/>
<circle cx="110.0" cy="463.2" r="0.68" fill="rgb(10,158,20)"/>
<circle cx="115.2" cy="451.5" r="0.72" fill="rgb(10,170,20)"/>
<circle cx="116.0" cy="450.5" r="0.44" fill="rgb(10,119,20)"/>
<circle cx="132.9" cy="450.1" r="0.74" fill="rgb(10,197,20)"/>
<circle cx="131.4" cy="450.2" r="0.66" fill="rgb(10,118,20)"/>
<circle cx="125.3" cy="466.4" r="0.50" fill="rgb(10,144,20)"/>
<circle cx="125.0" cy="466.1" r="0.58" fill="rgb(10,101,20)"/>
</g>
<line x1="121.5" y1="490.8" x2="137" y2="490.8" stroke="#eee" stroke-width="1.3"/>
<g clip-path="url(#cJ3)">
<path d="M92.0 496.0 C91.1 497.4 95.8 501.4 96.3 504.4 C96.7 507.4 94.4 511.3 94.8 514.2 C95.3 517.1 96.7 520.3 99.1 521.9 C101.4 523.6 105.6 524.4 108.9 524.0 C112.1 523.7 116.1 521.7 118.7 519.8 C121.2 518.0 123.5 515.2 124.3 512.8 C125.1 510.5 125.0 507.7 123.6 505.8 C122.2 503.9 118.8 502.1 115.9 501.6 C113.0 501.1 108.4 503.9 106.1 503.0 C103.7 502.1 104.2 497.2 101.9 496.0 C99.5 494.8 93.0 494.6 92.0 496.0Z" fill="#fff" fill-opacity="0.75" stroke="#fff" stroke-width="1.7" stroke-opacity="0.95" filter="url(#gspk)"/>
<path d="M98.4 529.6 C100.8 529.6 104.7 532.0 106.1 533.8 C107.5 535.7 107.3 538.4 106.8 540.8 C106.2 543.3 104.5 547.2 102.6 548.6 C100.6 550.0 97.0 550.3 94.8 549.3 C92.7 548.2 90.5 544.8 89.9 542.3 C89.4 539.7 89.9 535.9 91.3 533.8 C92.7 531.7 95.9 529.6 98.4 529.6Z" fill="#fff" fill-opacity="0.35" stroke="#fff" stroke-width="1.7" stroke-opacity="0.95" filter="url(#gspk2)"/>
<path d="M97.0 554.2 C99.0 553.9 100.8 556.6 101.3 559.1 C101.8 561.5 101.1 565.8 100.2 568.9 C99.2 571.9 97.8 575.2 95.6 577.3 C93.3 579.4 89.2 581.4 86.4 581.5 C83.6 581.6 79.4 580.1 78.7 578.0 C78.0 575.9 80.5 571.8 82.2 568.9 C84.0 566.0 86.8 562.9 89.2 560.5 C91.7 558.0 94.9 554.4 97.0 554.2Z" fill="#fff" fill-opacity="0.6" stroke="#fff" stroke-width="1.7" stroke-opacity="0.95" filter="url(#gspk)"/>
<path d="M115.9 555.6 C118.5 555.7 122.9 557.4 124.6 559.3 C126.2 561.3 126.7 565.0 126.0 567.5 C125.3 570.0 122.8 573.2 120.4 574.2 C117.9 575.2 113.7 574.9 111.4 573.5 C109.1 572.2 106.8 568.6 106.3 566.1 C105.9 563.6 107.3 560.1 108.9 558.4 C110.5 556.6 113.3 555.4 115.9 555.6Z" fill="#fff" fill-opacity="0.45" stroke="#fff" stroke-width="1.7" stroke-opacity="0.95" filter="url(#gspk)"/>
<path d="M104.7 517.7 C105.8 517.4 109.6 516.7 111.7 515.6 C113.8 514.6 116.0 512.9 117.3 511.4 C118.6 509.9 119.0 507.3 119.4 506.5" fill="none" stroke="#22e22c" stroke-width="1.7" opacity="0.9" filter="url(#bl03)"/>
<circle cx="104.4" cy="516.8" r="0.56" fill="rgb(20,245,30)"/>
<circle cx="106.0" cy="502.1" r="0.72" fill="rgb(20,177,30)"/>
<circle cx="116.6" cy="509.5" r="0.43" fill="rgb(20,202,30)"/>
<circle cx="104.7" cy="512.4" r="0.79" fill="rgb(20,228,30)"/>
<circle cx="115.9" cy="504.9" r="0.54" fill="rgb(20,194,30)"/>
<circle cx="112.8" cy="519.4" r="0.70" fill="rgb(20,206,30)"/>
<circle cx="117.9" cy="516.4" r="0.58" fill="rgb(20,172,30)"/>
<circle cx="112.8" cy="520.9" r="0.71" fill="rgb(20,195,30)"/>
<circle cx="112.7" cy="521.1" r="0.70" fill="rgb(20,207,30)"/>
<circle cx="118.5" cy="507.9" r="0.43" fill="rgb(20,172,30)"/>
<circle cx="111.6" cy="517.4" r="0.51" fill="rgb(20,238,30)"/>
<circle cx="106.7" cy="517.1" r="0.80" fill="rgb(20,210,30)"/>
<circle cx="108.5" cy="517.5" r="0.68" fill="rgb(20,192,30)"/>
<circle cx="105.8" cy="514.4" r="0.71" fill="rgb(20,228,30)"/>
<circle cx="105.6" cy="520.3" r="0.71" fill="rgb(20,216,30)"/>
<circle cx="101.5" cy="513.4" r="0.72" fill="rgb(20,213,30)"/>
<circle cx="102.0" cy="513.0" r="0.74" fill="rgb(20,186,30)"/>
<circle cx="104.2" cy="510.0" r="0.48" fill="rgb(20,219,30)"/>
<circle cx="110.2" cy="517.7" r="0.68" fill="rgb(20,194,30)"/>
<circle cx="118.7" cy="507.7" r="0.71" fill="rgb(20,225,30)"/>
<circle cx="109.4" cy="504.3" r="0.45" fill="rgb(20,225,30)"/>
<circle cx="116.3" cy="512.0" r="0.61" fill="rgb(20,244,30)"/>
<circle cx="118.5" cy="513.2" r="0.59" fill="rgb(20,181,30)"/>
<circle cx="118.6" cy="514.3" r="0.77" fill="rgb(20,238,30)"/>
<circle cx="114.4" cy="505.0" r="0.75" fill="rgb(20,241,30)"/>
<circle cx="102.5" cy="512.4" r="0.40" fill="rgb(20,196,30)"/>
<circle cx="99.5" cy="544.4" r="0.44" fill="rgb(20,183,30)"/>
<circle cx="102.3" cy="534.7" r="0.58" fill="rgb(20,226,30)"/>
<circle cx="94.2" cy="536.4" r="0.70" fill="rgb(20,226,30)"/>
<circle cx="93.8" cy="536.8" r="0.47" fill="rgb(20,230,30)"/>
<circle cx="95.3" cy="534.0" r="0.69" fill="rgb(20,200,30)"/>
<circle cx="93.1" cy="540.7" r="0.45" fill="rgb(20,188,30)"/>
<circle cx="94.1" cy="539.5" r="0.72" fill="rgb(20,200,30)"/>
<circle cx="100.7" cy="537.0" r="0.72" fill="rgb(20,242,30)"/>
<circle cx="93.7" cy="561.3" r="0.50" fill="rgb(20,174,30)"/>
<circle cx="95.0" cy="565.3" r="0.42" fill="rgb(20,170,30)"/>
<circle cx="95.8" cy="570.9" r="0.71" fill="rgb(20,198,30)"/>
<circle cx="96.9" cy="571.1" r="0.77" fill="rgb(20,243,30)"/>
<circle cx="90.2" cy="575.1" r="0.59" fill="rgb(20,172,30)"/>
<circle cx="97.5" cy="566.5" r="0.47" fill="rgb(20,182,30)"/>
<circle cx="92.4" cy="563.0" r="0.53" fill="rgb(20,235,30)"/>
<circle cx="82.9" cy="568.3" r="0.77" fill="rgb(20,218,30)"/>
<circle cx="98.1" cy="569.0" r="0.66" fill="rgb(20,241,30)"/>
<circle cx="96.3" cy="573.1" r="0.43" fill="rgb(20,238,30)"/>
<circle cx="96.8" cy="571.6" r="0.58" fill="rgb(20,207,30)"/>
<circle cx="87.5" cy="561.7" r="0.41" fill="rgb(20,196,30)"/>
<circle cx="94.2" cy="560.9" r="0.48" fill="rgb(20,228,30)"/>
<circle cx="88.8" cy="560.3" r="0.79" fill="rgb(20,224,30)"/>
<circle cx="87.1" cy="565.0" r="0.54" fill="rgb(20,236,30)"/>
<circle cx="96.5" cy="573.8" r="0.44" fill="rgb(20,182,30)"/>
<circle cx="89.8" cy="575.9" r="0.46" fill="rgb(20,207,30)"/>
<circle cx="84.5" cy="562.8" r="0.40" fill="rgb(20,194,30)"/>
<circle cx="118.9" cy="567.0" r="0.61" fill="rgb(20,197,30)"/>
<circle cx="110.2" cy="566.4" r="0.66" fill="rgb(20,243,30)"/>
<circle cx="120.4" cy="560.9" r="0.77" fill="rgb(20,180,30)"/>
<circle cx="118.3" cy="558.2" r="0.67" fill="rgb(20,173,30)"/>
<circle cx="119.5" cy="570.8" r="0.47" fill="rgb(20,177,30)"/>
<circle cx="120.1" cy="562.4" r="0.50" fill="rgb(20,187,30)"/>
<circle cx="113.6" cy="570.6" r="0.55" fill="rgb(20,211,30)"/>
<circle cx="117.4" cy="569.3" r="0.70" fill="rgb(20,230,30)"/>
<circle cx="118.7" cy="557.5" r="0.51" fill="rgb(20,211,30)"/>
<circle cx="115.2" cy="571.1" r="0.54" fill="rgb(20,172,30)"/>
<circle cx="110.4" cy="563.0" r="0.40" fill="rgb(20,212,30)"/>
<circle cx="115.8" cy="559.0" r="0.72" fill="rgb(20,213,30)"/>
<circle cx="111.1" cy="563.6" r="0.57" fill="rgb(20,210,30)"/>
<circle cx="113.1" cy="568.9" r="0.79" fill="rgb(20,185,30)"/>
<circle cx="118.1" cy="570.5" r="0.50" fill="rgb(20,238,30)"/>
<circle cx="120.9" cy="560.6" r="0.68" fill="rgb(20,236,30)"/>
</g>
<line x1="121.2" y1="579.5" x2="137" y2="579.5" stroke="#fff" stroke-width="1.3"/>
<g clip-path="url(#cJ2)">
<clipPath id="m1c"><path d="M148.0 453.5 C148.2 452.0 151.8 449.6 153.9 448.3 C156.0 446.9 158.3 446.7 160.5 445.6 C162.6 444.5 165.1 442.9 167.0 441.7 C169.0 440.5 170.3 439.2 172.3 438.4 C174.3 437.6 176.7 437.2 178.9 437.1 C181.0 437.0 183.5 437.3 185.4 437.7 C187.4 438.2 189.3 439.4 190.7 439.7 C192.1 440.0 193.3 440.5 194.0 439.4 C194.6 438.4 194.3 435.3 194.6 433.1 C194.9 431.0 195.1 428.3 195.9 426.6 C196.8 424.8 198.6 423.1 199.9 422.6 C201.2 422.2 202.3 423.1 203.8 423.9 C205.4 424.8 207.1 426.4 209.1 427.9 C211.0 429.4 213.7 431.2 215.6 433.1 C217.6 435.1 219.6 437.5 220.9 439.7 C222.2 441.9 222.7 444.1 223.5 446.3 C224.4 448.5 225.1 450.9 226.2 452.9 C227.3 454.8 229.0 456.4 230.1 458.1 C231.2 459.9 232.2 461.4 232.7 463.4 C233.3 465.3 233.8 468.0 233.4 469.9 C232.9 471.9 231.5 474.3 230.1 475.2 C228.7 476.1 226.4 475.9 224.8 475.5 C223.3 475.0 221.8 473.9 220.9 472.6 C220.0 471.2 220.7 468.4 219.6 467.3 C218.5 466.2 216.3 466.1 214.3 466.0 C212.4 465.9 209.7 466.9 207.8 466.6 C205.8 466.4 204.0 465.9 202.5 464.7 C201.0 463.5 199.5 461.1 198.6 459.4 C197.6 457.7 197.7 455.5 196.6 454.4 C195.5 453.4 193.4 452.8 192.0 453.1 C190.6 453.4 189.6 455.1 188.0 456.1 C186.5 457.2 184.3 458.2 182.8 459.4 C181.3 460.6 180.1 462.4 178.9 463.4 C177.6 464.3 176.7 465.3 175.6 465.3 C174.5 465.3 172.9 464.3 172.3 463.4 C171.6 462.4 172.7 460.3 171.6 459.4 C170.5 458.5 167.8 458.3 165.7 458.1 C163.6 457.9 161.3 458.2 159.1 458.1 C157.0 458.0 154.4 458.2 152.6 457.5 C150.7 456.7 147.8 455.0 148.0 453.5Z"/></clipPath>
<path d="M148.0 453.5 C148.2 452.0 151.8 449.6 153.9 448.3 C156.0 446.9 158.3 446.7 160.5 445.6 C162.6 444.5 165.1 442.9 167.0 441.7 C169.0 440.5 170.3 439.2 172.3 438.4 C174.3 437.6 176.7 437.2 178.9 437.1 C181.0 437.0 183.5 437.3 185.4 437.7 C187.4 438.2 189.3 439.4 190.7 439.7 C192.1 440.0 193.3 440.5 194.0 439.4 C194.6 438.4 194.3 435.3 194.6 433.1 C194.9 431.0 195.1 428.3 195.9 426.6 C196.8 424.8 198.6 423.1 199.9 422.6 C201.2 422.2 202.3 423.1 203.8 423.9 C205.4 424.8 207.1 426.4 209.1 427.9 C211.0 429.4 213.7 431.2 215.6 433.1 C217.6 435.1 219.6 437.5 220.9 439.7 C222.2 441.9 222.7 444.1 223.5 446.3 C224.4 448.5 225.1 450.9 226.2 452.9 C227.3 454.8 229.0 456.4 230.1 458.1 C231.2 459.9 232.2 461.4 232.7 463.4 C233.3 465.3 233.8 468.0 233.4 469.9 C232.9 471.9 231.5 474.3 230.1 475.2 C228.7 476.1 226.4 475.9 224.8 475.5 C223.3 475.0 221.8 473.9 220.9 472.6 C220.0 471.2 220.7 468.4 219.6 467.3 C218.5 466.2 216.3 466.1 214.3 466.0 C212.4 465.9 209.7 466.9 207.8 466.6 C205.8 466.4 204.0 465.9 202.5 464.7 C201.0 463.5 199.5 461.1 198.6 459.4 C197.6 457.7 197.7 455.5 196.6 454.4 C195.5 453.4 193.4 452.8 192.0 453.1 C190.6 453.4 189.6 455.1 188.0 456.1 C186.5 457.2 184.3 458.2 182.8 459.4 C181.3 460.6 180.1 462.4 178.9 463.4 C177.6 464.3 176.7 465.3 175.6 465.3 C174.5 465.3 172.9 464.3 172.3 463.4 C171.6 462.4 172.7 460.3 171.6 459.4 C170.5 458.5 167.8 458.3 165.7 458.1 C163.6 457.9 161.3 458.2 159.1 458.1 C157.0 458.0 154.4 458.2 152.6 457.5 C150.7 456.7 147.8 455.0 148.0 453.5Z" fill="#300a58" filter="url(#bl06)"/>
<g clip-path="url(#m1c)">
<rect x="146" y="410" width="88" height="85" fill="#fff" filter="url(#mtex)" opacity="0.65"/>
<ellipse cx="210.4" cy="452.9" rx="6" ry="8" fill="#1a0428" opacity="0.75" filter="url(#bl1)" transform="rotate(-25 210.4 452.9)"/>
<circle cx="231.2" cy="426.3" r="0.83" fill="#3a24ff" opacity="0.85"/>
<circle cx="172.2" cy="471.3" r="0.71" fill="#3a24ff" opacity="0.85"/>
<circle cx="169.9" cy="460.8" r="1.29" fill="#3a24ff" opacity="0.85"/>
<circle cx="162.6" cy="445.5" r="1.11" fill="#3a24ff" opacity="0.85"/>
<circle cx="207.2" cy="462.5" r="1.15" fill="#3a24ff" opacity="0.85"/>
<circle cx="168.9" cy="435.5" r="0.72" fill="#3a24ff" opacity="0.85"/>
<circle cx="207.3" cy="432.9" r="0.86" fill="#3a24ff" opacity="0.85"/>
<circle cx="230.9" cy="456.8" r="1.05" fill="#3a24ff" opacity="0.85"/>
<circle cx="204.2" cy="454.3" r="1.12" fill="#3a24ff" opacity="0.85"/>
<circle cx="173.7" cy="424.8" r="0.74" fill="#3a24ff" opacity="0.85"/>
<circle cx="148.6" cy="441.3" r="0.79" fill="#3a24ff" opacity="0.85"/>
<circle cx="157.1" cy="448.6" r="1.28" fill="#3a24ff" opacity="0.85"/>
<circle cx="206.9" cy="436.4" r="1.16" fill="#3a24ff" opacity="0.85"/>
<circle cx="162.7" cy="426.8" r="0.88" fill="#3a24ff" opacity="0.85"/>
<circle cx="182.8" cy="459.4" r="0.97" fill="#3a24ff" opacity="0.85"/>
<circle cx="210.5" cy="426.5" r="1.26" fill="#3a24ff" opacity="0.85"/>
<circle cx="177.0" cy="467.2" r="0.72" fill="#3a24ff" opacity="0.85"/>
<circle cx="219.2" cy="433.8" r="1.21" fill="#3a24ff" opacity="0.85"/>
<circle cx="216.9" cy="458.3" r="0.87" fill="#3a24ff" opacity="0.85"/>
<circle cx="148.2" cy="431.8" r="1.24" fill="#3a24ff" opacity="0.85"/>
<circle cx="161.0" cy="457.7" r="1.05" fill="#3a24ff" opacity="0.85"/>
<circle cx="204.7" cy="431.3" r="0.79" fill="#3a24ff" opacity="0.85"/>
<circle cx="155.7" cy="475.5" r="0.93" fill="#3a24ff" opacity="0.85"/>
<circle cx="203.9" cy="452.8" r="0.83" fill="#3a24ff" opacity="0.85"/>
<circle cx="152.9" cy="422.1" r="1.21" fill="#3a24ff" opacity="0.85"/>
<circle cx="158.6" cy="474.5" r="0.92" fill="#3a24ff" opacity="0.85"/>
<circle cx="210.0" cy="429.0" r="1.17" fill="#3a24ff" opacity="0.85"/>
<circle cx="169.1" cy="441.5" r="1.01" fill="#3a24ff" opacity="0.85"/>
<circle cx="157.0" cy="435.0" r="1.18" fill="#3a24ff" opacity="0.85"/>
<circle cx="172.1" cy="442.3" r="1.16" fill="#3a24ff" opacity="0.85"/>
<circle cx="166.7" cy="432.0" r="0.83" fill="#3a24ff" opacity="0.85"/>
<circle cx="180.6" cy="441.5" r="1.08" fill="#3a24ff" opacity="0.85"/>
<circle cx="188.2" cy="469.3" r="0.73" fill="#3a24ff" opacity="0.85"/>
<circle cx="204.9" cy="467.5" r="0.84" fill="#3a24ff" opacity="0.85"/>
<circle cx="149.9" cy="445.5" r="0.77" fill="#3a24ff" opacity="0.85"/>
<circle cx="187.2" cy="460.6" r="0.76" fill="#3a24ff" opacity="0.85"/>
<circle cx="157.5" cy="447.8" r="0.80" fill="#3a24ff" opacity="0.85"/>
<circle cx="167.3" cy="445.6" r="0.77" fill="#3a24ff" opacity="0.85"/>
<circle cx="153.2" cy="441.2" r="0.98" fill="#3a24ff" opacity="0.85"/>
<circle cx="228.5" cy="451.9" r="0.74" fill="#3a24ff" opacity="0.85"/>
<circle cx="166.6" cy="462.4" r="1.04" fill="#3a24ff" opacity="0.85"/>
<circle cx="222.8" cy="474.4" r="1.21" fill="#3a24ff" opacity="0.85"/>
<circle cx="156.9" cy="473.4" r="1.01" fill="#3a24ff" opacity="0.85"/>
<circle cx="168.1" cy="430.7" r="1.22" fill="#3a24ff" opacity="0.85"/>
<circle cx="165.7" cy="425.9" r="0.86" fill="#3a24ff" opacity="0.85"/>
<circle cx="227.5" cy="446.8" r="1.14" fill="#3a24ff" opacity="0.85"/>
<circle cx="153.8" cy="446.3" r="0.89" fill="#3a24ff" opacity="0.85"/>
<circle cx="165.1" cy="457.9" r="0.92" fill="#3a24ff" opacity="0.85"/>
<circle cx="157.7" cy="475.6" r="0.99" fill="#3a24ff" opacity="0.85"/>
<circle cx="162.9" cy="421.9" r="1.09" fill="#3a24ff" opacity="0.85"/>
<circle cx="191.9" cy="422.7" r="0.98" fill="#3a24ff" opacity="0.85"/>
<circle cx="211.5" cy="451.0" r="0.84" fill="#3a24ff" opacity="0.85"/>
<circle cx="190.6" cy="454.7" r="1.09" fill="#3a24ff" opacity="0.85"/>
<circle cx="159.9" cy="465.7" r="1.27" fill="#3a24ff" opacity="0.85"/>
<circle cx="211.5" cy="468.6" r="0.92" fill="#3a24ff" opacity="0.85"/>
<circle cx="225.6" cy="431.3" r="0.84" fill="#3a24ff" opacity="0.85"/>
<circle cx="199.2" cy="471.1" r="0.75" fill="#3a24ff" opacity="0.85"/>
<circle cx="166.1" cy="423.3" r="0.96" fill="#3a24ff" opacity="0.85"/>
<circle cx="159.5" cy="431.9" r="1.15" fill="#3a24ff" opacity="0.85"/>
<circle cx="197.9" cy="473.2" r="0.94" fill="#3a24ff" opacity="0.85"/>
<ellipse cx="227.5" cy="471.2" rx="5" ry="5.5" fill="#e018c0" opacity="0.7" filter="url(#bl1)"/>
<ellipse cx="152.6" cy="454.2" rx="4" ry="2.5" fill="#3020f0" opacity="0.8" filter="url(#bl06)"/>
</g>
<path d="M148.0 453.5 C148.2 452.0 151.8 449.6 153.9 448.3 C156.0 446.9 158.3 446.7 160.5 445.6 C162.6 444.5 165.1 442.9 167.0 441.7 C169.0 440.5 170.3 439.2 172.3 438.4 C174.3 437.6 176.7 437.2 178.9 437.1 C181.0 437.0 183.5 437.3 185.4 437.7 C187.4 438.2 189.3 439.4 190.7 439.7 C192.1 440.0 193.3 440.5 194.0 439.4 C194.6 438.4 194.3 435.3 194.6 433.1 C194.9 431.0 195.1 428.3 195.9 426.6 C196.8 424.8 198.6 423.1 199.9 422.6 C201.2 422.2 202.3 423.1 203.8 423.9 C205.4 424.8 207.1 426.4 209.1 427.9 C211.0 429.4 213.7 431.2 215.6 433.1 C217.6 435.1 219.6 437.5 220.9 439.7 C222.2 441.9 222.7 444.1 223.5 446.3 C224.4 448.5 225.1 450.9 226.2 452.9 C227.3 454.8 229.0 456.4 230.1 458.1 C231.2 459.9 232.2 461.4 232.7 463.4 C233.3 465.3 233.8 468.0 233.4 469.9 C232.9 471.9 231.5 474.3 230.1 475.2 C228.7 476.1 226.4 475.9 224.8 475.5 C223.3 475.0 221.8 473.9 220.9 472.6 C220.0 471.2 220.7 468.4 219.6 467.3 C218.5 466.2 216.3 466.1 214.3 466.0 C212.4 465.9 209.7 466.9 207.8 466.6 C205.8 466.4 204.0 465.9 202.5 464.7 C201.0 463.5 199.5 461.1 198.6 459.4 C197.6 457.7 197.7 455.5 196.6 454.4 C195.5 453.4 193.4 452.8 192.0 453.1 C190.6 453.4 189.6 455.1 188.0 456.1 C186.5 457.2 184.3 458.2 182.8 459.4 C181.3 460.6 180.1 462.4 178.9 463.4 C177.6 464.3 176.7 465.3 175.6 465.3 C174.5 465.3 172.9 464.3 172.3 463.4 C171.6 462.4 172.7 460.3 171.6 459.4 C170.5 458.5 167.8 458.3 165.7 458.1 C163.6 457.9 161.3 458.2 159.1 458.1 C157.0 458.0 154.4 458.2 152.6 457.5 C150.7 456.7 147.8 455.0 148.0 453.5Z" fill="none" stroke="#f0104c" stroke-width="1.0" opacity="0.85" filter="url(#bl03)"/>
<path d="M172.3 439.7 C171.8 441.2 169.3 445.8 169.7 448.9 C170.0 452.0 172.3 456.6 174.3 458.1 C176.2 459.6 179.4 459.2 181.5 458.1 C183.6 457.0 186.1 453.9 186.7 451.5 C187.4 449.1 186.7 445.4 185.4 443.7 C184.1 441.9 179.9 441.5 178.9 441.0" fill="none" stroke="#ff1048" stroke-width="0.9" opacity="0.9" filter="url(#bl03)"/>
<path d="M176.2 448.3 C176.6 449.0 177.2 452.3 178.2 452.9 C179.2 453.4 181.6 452.5 182.1 451.5 C182.7 450.6 182.1 447.8 181.5 446.9 C180.8 446.1 178.7 446.4 178.2 446.3" fill="none" stroke="#ff1048" stroke-width="0.9" opacity="0.9" filter="url(#bl03)"/>
<path d="M198.6 425.3 C199.0 426.8 199.9 431.8 201.2 434.5 C202.5 437.1 204.3 439.3 206.4 441.0 C208.6 442.8 212.5 443.0 214.3 445.0 C216.2 446.9 217.6 449.8 217.6 452.9 C217.6 455.9 216.0 461.2 214.3 463.4 C212.7 465.6 208.9 465.6 207.8 466.0" fill="none" stroke="#ff1048" stroke-width="0.9" opacity="0.9" filter="url(#bl03)"/>
<path d="M196.6 454.2 C197.1 455.3 198.5 459.1 199.9 460.7 C201.3 462.4 204.3 463.5 205.1 464.0" fill="none" stroke="#ff1048" stroke-width="0.9" opacity="0.9" filter="url(#bl03)"/>
<path d="M217.6 452.9 C218.6 453.9 221.4 458.3 223.5 459.4 C225.6 460.5 229.0 459.4 230.1 459.4" fill="none" stroke="#ff1048" stroke-width="0.9" opacity="0.9" filter="url(#bl03)"/>
<path d="M159.1 447.6 C159.8 448.5 162.0 451.1 163.1 452.9 C164.2 454.6 165.3 457.2 165.7 458.1" fill="none" stroke="#ff1048" stroke-width="0.9" opacity="0.9" filter="url(#bl03)"/>
<path d="M219.6 467.3 C220.5 467.1 222.9 466.4 224.8 466.0 C226.8 465.6 230.3 464.9 231.4 464.7" fill="none" stroke="#ff1048" stroke-width="0.9" opacity="0.9" filter="url(#bl03)"/>
</g>
<line x1="213.5" y1="490.8" x2="229" y2="490.8" stroke="#ddd" stroke-width="1.3"/>
<g clip-path="url(#cJ4)">
<path d="M184.0 496.0 C183.1 497.4 187.8 501.4 188.3 504.4 C188.7 507.4 186.4 511.3 186.8 514.2 C187.3 517.1 188.7 520.3 191.1 521.9 C193.4 523.6 197.6 524.4 200.9 524.0 C204.1 523.7 208.1 521.7 210.7 519.8 C213.2 518.0 215.5 515.2 216.3 512.8 C217.1 510.5 217.0 507.7 215.6 505.8 C214.2 503.9 210.8 502.1 207.9 501.6 C205.0 501.1 200.4 503.9 198.1 503.0 C195.7 502.1 196.2 497.2 193.9 496.0 C191.5 494.8 185.0 494.6 184.0 496.0Z" fill="#4a1088" filter="url(#bl06)"/>
<path d="M184.0 496.0 C183.1 497.4 187.8 501.4 188.3 504.4 C188.7 507.4 186.4 511.3 186.8 514.2 C187.3 517.1 188.7 520.3 191.1 521.9 C193.4 523.6 197.6 524.4 200.9 524.0 C204.1 523.7 208.1 521.7 210.7 519.8 C213.2 518.0 215.5 515.2 216.3 512.8 C217.1 510.5 217.0 507.7 215.6 505.8 C214.2 503.9 210.8 502.1 207.9 501.6 C205.0 501.1 200.4 503.9 198.1 503.0 C195.7 502.1 196.2 497.2 193.9 496.0 C191.5 494.8 185.0 494.6 184.0 496.0Z" fill="#fff" filter="url(#mtex2)" opacity="0.95"/>
<path d="M184.0 496.0 C183.1 497.4 187.8 501.4 188.3 504.4 C188.7 507.4 186.4 511.3 186.8 514.2 C187.3 517.1 188.7 520.3 191.1 521.9 C193.4 523.6 197.6 524.4 200.9 524.0 C204.1 523.7 208.1 521.7 210.7 519.8 C213.2 518.0 215.5 515.2 216.3 512.8 C217.1 510.5 217.0 507.7 215.6 505.8 C214.2 503.9 210.8 502.1 207.9 501.6 C205.0 501.1 200.4 503.9 198.1 503.0 C195.7 502.1 196.2 497.2 193.9 496.0 C191.5 494.8 185.0 494.6 184.0 496.0Z" fill="none" stroke="#e81050" stroke-width="0.8" opacity="0.75" filter="url(#bl03)"/>
<path d="M190.4 529.6 C192.8 529.6 196.7 532.0 198.1 533.8 C199.5 535.7 199.3 538.4 198.8 540.8 C198.2 543.3 196.5 547.2 194.6 548.6 C192.6 550.0 189.0 550.3 186.8 549.3 C184.7 548.2 182.5 544.8 181.9 542.3 C181.4 539.7 181.9 535.9 183.3 533.8 C184.7 531.7 187.9 529.6 190.4 529.6Z" fill="#4a1088" filter="url(#bl06)"/>
<path d="M190.4 529.6 C192.8 529.6 196.7 532.0 198.1 533.8 C199.5 535.7 199.3 538.4 198.8 540.8 C198.2 543.3 196.5 547.2 194.6 548.6 C192.6 550.0 189.0 550.3 186.8 549.3 C184.7 548.2 182.5 544.8 181.9 542.3 C181.4 539.7 181.9 535.9 183.3 533.8 C184.7 531.7 187.9 529.6 190.4 529.6Z" fill="#fff" filter="url(#mtex2)" opacity="0.7"/>
<path d="M190.4 529.6 C192.8 529.6 196.7 532.0 198.1 533.8 C199.5 535.7 199.3 538.4 198.8 540.8 C198.2 543.3 196.5 547.2 194.6 548.6 C192.6 550.0 189.0 550.3 186.8 549.3 C184.7 548.2 182.5 544.8 181.9 542.3 C181.4 539.7 181.9 535.9 183.3 533.8 C184.7 531.7 187.9 529.6 190.4 529.6Z" fill="none" stroke="#e81050" stroke-width="0.8" opacity="0.75" filter="url(#bl03)"/>
<path d="M189.0 554.2 C191.0 553.9 192.8 556.6 193.3 559.1 C193.8 561.5 193.1 565.8 192.2 568.9 C191.2 571.9 189.8 575.2 187.6 577.3 C185.3 579.4 181.2 581.4 178.4 581.5 C175.6 581.6 171.4 580.1 170.7 578.0 C170.0 575.9 172.5 571.8 174.2 568.9 C176.0 566.0 178.8 562.9 181.2 560.5 C183.7 558.0 186.9 554.4 189.0 554.2Z" fill="#4a1088" filter="url(#bl06)"/>
<path d="M189.0 554.2 C191.0 553.9 192.8 556.6 193.3 559.1 C193.8 561.5 193.1 565.8 192.2 568.9 C191.2 571.9 189.8 575.2 187.6 577.3 C185.3 579.4 181.2 581.4 178.4 581.5 C175.6 581.6 171.4 580.1 170.7 578.0 C170.0 575.9 172.5 571.8 174.2 568.9 C176.0 566.0 178.8 562.9 181.2 560.5 C183.7 558.0 186.9 554.4 189.0 554.2Z" fill="#fff" filter="url(#mtex2)" opacity="0.95"/>
<path d="M189.0 554.2 C191.0 553.9 192.8 556.6 193.3 559.1 C193.8 561.5 193.1 565.8 192.2 568.9 C191.2 571.9 189.8 575.2 187.6 577.3 C185.3 579.4 181.2 581.4 178.4 581.5 C175.6 581.6 171.4 580.1 170.7 578.0 C170.0 575.9 172.5 571.8 174.2 568.9 C176.0 566.0 178.8 562.9 181.2 560.5 C183.7 558.0 186.9 554.4 189.0 554.2Z" fill="none" stroke="#e81050" stroke-width="0.8" opacity="0.75" filter="url(#bl03)"/>
<path d="M207.9 555.6 C210.5 555.7 214.9 557.4 216.6 559.3 C218.2 561.3 218.7 565.0 218.0 567.5 C217.3 570.0 214.8 573.2 212.4 574.2 C209.9 575.2 205.7 574.9 203.4 573.5 C201.1 572.2 198.8 568.6 198.3 566.1 C197.9 563.6 199.3 560.1 200.9 558.4 C202.5 556.6 205.3 555.4 207.9 555.6Z" fill="#4a1088" filter="url(#bl06)"/>
<path d="M207.9 555.6 C210.5 555.7 214.9 557.4 216.6 559.3 C218.2 561.3 218.7 565.0 218.0 567.5 C217.3 570.0 214.8 573.2 212.4 574.2 C209.9 575.2 205.7 574.9 203.4 573.5 C201.1 572.2 198.8 568.6 198.3 566.1 C197.9 563.6 199.3 560.1 200.9 558.4 C202.5 556.6 205.3 555.4 207.9 555.6Z" fill="#fff" filter="url(#mtex2)" opacity="0.95"/>
<path d="M207.9 555.6 C210.5 555.7 214.9 557.4 216.6 559.3 C218.2 561.3 218.7 565.0 218.0 567.5 C217.3 570.0 214.8 573.2 212.4 574.2 C209.9 575.2 205.7 574.9 203.4 573.5 C201.1 572.2 198.8 568.6 198.3 566.1 C197.9 563.6 199.3 560.1 200.9 558.4 C202.5 556.6 205.3 555.4 207.9 555.6Z" fill="none" stroke="#e81050" stroke-width="0.8" opacity="0.75" filter="url(#bl03)"/>
<ellipse cx="190.4" cy="540.1" rx="2.4" ry="4.6" fill="#ff1030" filter="url(#bl03)"/>
<ellipse cx="209.3" cy="565.4" rx="4" ry="2.6" fill="#ff1040" filter="url(#bl06)"/>
<path d="M188.3 556.3 C188.0 557.7 187.8 562.1 186.8 564.7 C185.9 567.2 184.3 569.6 182.6 571.7 C181.0 573.8 178.0 576.4 177.0 577.3" fill="none" stroke="#ff1840" stroke-width="1.6" opacity="0.85" filter="url(#bl06)"/>
<circle cx="161.6" cy="513.5" r="0.6" fill="#e01020"/>
<ellipse cx="209.3" cy="509.3" rx="5" ry="6" fill="#fff" opacity="0.55" filter="url(#bl1)"/>
<circle cx="201.8" cy="510.2" r="0.52" fill="#4028ff" opacity="0.9"/>
<circle cx="195.5" cy="512.6" r="0.74" fill="#4028ff" opacity="0.9"/>
<circle cx="204.4" cy="522.4" r="0.82" fill="#fff040" opacity="0.9"/>
<circle cx="205.1" cy="522.8" r="0.54" fill="#4028ff" opacity="0.9"/>
<circle cx="210.4" cy="509.8" r="0.60" fill="#ffffff" opacity="0.9"/>
<circle cx="198.0" cy="519.5" r="0.68" fill="#ffffff" opacity="0.9"/>
<circle cx="202.9" cy="505.6" r="0.48" fill="#ffffff" opacity="0.9"/>
<circle cx="205.1" cy="502.8" r="0.68" fill="#4028ff" opacity="0.9"/>
<circle cx="201.4" cy="507.1" r="0.68" fill="#fff040" opacity="0.9"/>
<circle cx="201.3" cy="519.0" r="0.90" fill="#40ff40" opacity="0.9"/>
<circle cx="205.8" cy="516.5" r="0.48" fill="#ffffff" opacity="0.9"/>
<circle cx="199.9" cy="513.0" r="0.80" fill="#4028ff" opacity="0.9"/>
<circle cx="202.1" cy="520.4" r="0.83" fill="#fff040" opacity="0.9"/>
<circle cx="207.0" cy="509.8" r="0.45" fill="#ffd0ff" opacity="0.9"/>
<circle cx="194.3" cy="515.7" r="0.85" fill="#ffffff" opacity="0.9"/>
<circle cx="209.7" cy="515.9" r="0.84" fill="#40ff40" opacity="0.9"/>
<circle cx="196.2" cy="515.6" r="0.80" fill="#5030ff" opacity="0.9"/>
<circle cx="198.4" cy="504.4" r="0.62" fill="#ff70ff" opacity="0.9"/>
<circle cx="195.3" cy="511.4" r="0.85" fill="#ff3060" opacity="0.9"/>
<circle cx="206.3" cy="510.2" r="0.70" fill="#ff70ff" opacity="0.9"/>
<circle cx="202.1" cy="518.8" r="0.72" fill="#5030ff" opacity="0.9"/>
<circle cx="194.3" cy="517.5" r="0.74" fill="#5030ff" opacity="0.9"/>
<circle cx="209.6" cy="516.0" r="0.51" fill="#4028ff" opacity="0.9"/>
<circle cx="198.0" cy="521.5" r="0.64" fill="#4028ff" opacity="0.9"/>
<circle cx="198.8" cy="502.4" r="0.63" fill="#40ff40" opacity="0.9"/>
<circle cx="198.0" cy="521.9" r="0.44" fill="#ffd0ff" opacity="0.9"/>
<circle cx="209.2" cy="509.8" r="0.88" fill="#ffd0ff" opacity="0.9"/>
<circle cx="206.0" cy="508.0" r="0.59" fill="#ff3060" opacity="0.9"/>
<circle cx="196.5" cy="511.7" r="0.72" fill="#fff040" opacity="0.9"/>
<circle cx="204.6" cy="508.7" r="0.84" fill="#40ff40" opacity="0.9"/>
<circle cx="196.6" cy="505.0" r="0.69" fill="#4028ff" opacity="0.9"/>
<circle cx="209.0" cy="508.2" r="0.57" fill="#ff3060" opacity="0.9"/>
<circle cx="202.5" cy="504.7" r="0.75" fill="#4028ff" opacity="0.9"/>
<circle cx="198.5" cy="502.0" r="0.58" fill="#ffd0ff" opacity="0.9"/>
<circle cx="195.1" cy="538.0" r="0.72" fill="#fff040" opacity="0.9"/>
<circle cx="188.8" cy="532.8" r="0.58" fill="#fff040" opacity="0.9"/>
<circle cx="193.0" cy="534.9" r="0.81" fill="#40ff40" opacity="0.9"/>
<circle cx="186.2" cy="535.6" r="0.50" fill="#ffffff" opacity="0.9"/>
<circle cx="194.4" cy="539.9" r="0.41" fill="#5030ff" opacity="0.9"/>
<circle cx="191.9" cy="533.3" r="0.75" fill="#ff70ff" opacity="0.9"/>
<circle cx="193.0" cy="539.5" r="0.85" fill="#5030ff" opacity="0.9"/>
<circle cx="191.0" cy="536.1" r="0.46" fill="#ffffff" opacity="0.9"/>
<circle cx="190.2" cy="564.7" r="0.63" fill="#40ff40" opacity="0.9"/>
<circle cx="187.1" cy="571.6" r="0.61" fill="#5030ff" opacity="0.9"/>
<circle cx="178.4" cy="569.6" r="0.86" fill="#ffffff" opacity="0.9"/>
<circle cx="182.3" cy="574.3" r="0.71" fill="#ff70ff" opacity="0.9"/>
<circle cx="181.2" cy="563.8" r="0.57" fill="#ff3060" opacity="0.9"/>
<circle cx="179.0" cy="569.1" r="0.78" fill="#ffffff" opacity="0.9"/>
<circle cx="185.5" cy="563.1" r="0.76" fill="#5030ff" opacity="0.9"/>
<circle cx="183.6" cy="578.2" r="0.45" fill="#4028ff" opacity="0.9"/>
<circle cx="179.5" cy="566.5" r="0.80" fill="#4028ff" opacity="0.9"/>
<circle cx="183.7" cy="564.0" r="0.81" fill="#ff70ff" opacity="0.9"/>
<circle cx="177.2" cy="570.1" r="0.50" fill="#ffffff" opacity="0.9"/>
<circle cx="180.2" cy="567.2" r="0.52" fill="#4028ff" opacity="0.9"/>
<circle cx="182.4" cy="575.7" r="0.76" fill="#ff3060" opacity="0.9"/>
<circle cx="189.7" cy="570.6" r="0.66" fill="#fff040" opacity="0.9"/>
<circle cx="184.4" cy="577.5" r="0.71" fill="#4028ff" opacity="0.9"/>
<circle cx="185.7" cy="566.1" r="0.90" fill="#5030ff" opacity="0.9"/>
<circle cx="185.1" cy="566.6" r="0.51" fill="#ffffff" opacity="0.9"/>
<circle cx="183.7" cy="559.4" r="0.60" fill="#5030ff" opacity="0.9"/>
<circle cx="178.0" cy="568.0" r="0.44" fill="#ff3060" opacity="0.9"/>
<circle cx="188.4" cy="571.2" r="0.49" fill="#40ff40" opacity="0.9"/>
<circle cx="204.9" cy="561.7" r="0.50" fill="#ffffff" opacity="0.9"/>
<circle cx="210.7" cy="568.8" r="0.74" fill="#ff3060" opacity="0.9"/>
<circle cx="203.5" cy="565.4" r="0.45" fill="#ff70ff" opacity="0.9"/>
<circle cx="211.0" cy="566.9" r="0.43" fill="#4028ff" opacity="0.9"/>
<circle cx="208.8" cy="559.0" r="0.56" fill="#4028ff" opacity="0.9"/>
<circle cx="201.6" cy="565.7" r="0.67" fill="#ff3060" opacity="0.9"/>
<circle cx="208.2" cy="557.6" r="0.71" fill="#ff3060" opacity="0.9"/>
<circle cx="210.8" cy="568.2" r="0.47" fill="#5030ff" opacity="0.9"/>
<circle cx="211.3" cy="558.3" r="0.43" fill="#40ff40" opacity="0.9"/>
<circle cx="206.7" cy="563.2" r="0.83" fill="#ff70ff" opacity="0.9"/>
<circle cx="205.1" cy="560.5" r="0.47" fill="#ff70ff" opacity="0.9"/>
<circle cx="205.3" cy="557.9" r="0.42" fill="#ffffff" opacity="0.9"/>
<circle cx="211.8" cy="561.0" r="0.75" fill="#ff70ff" opacity="0.9"/>
<circle cx="204.7" cy="571.6" r="0.48" fill="#ffd0ff" opacity="0.9"/>
</g>
<line x1="213.3" y1="579.5" x2="229" y2="579.5" stroke="#fff" stroke-width="1.3"/>
</svg>
</body></html>
